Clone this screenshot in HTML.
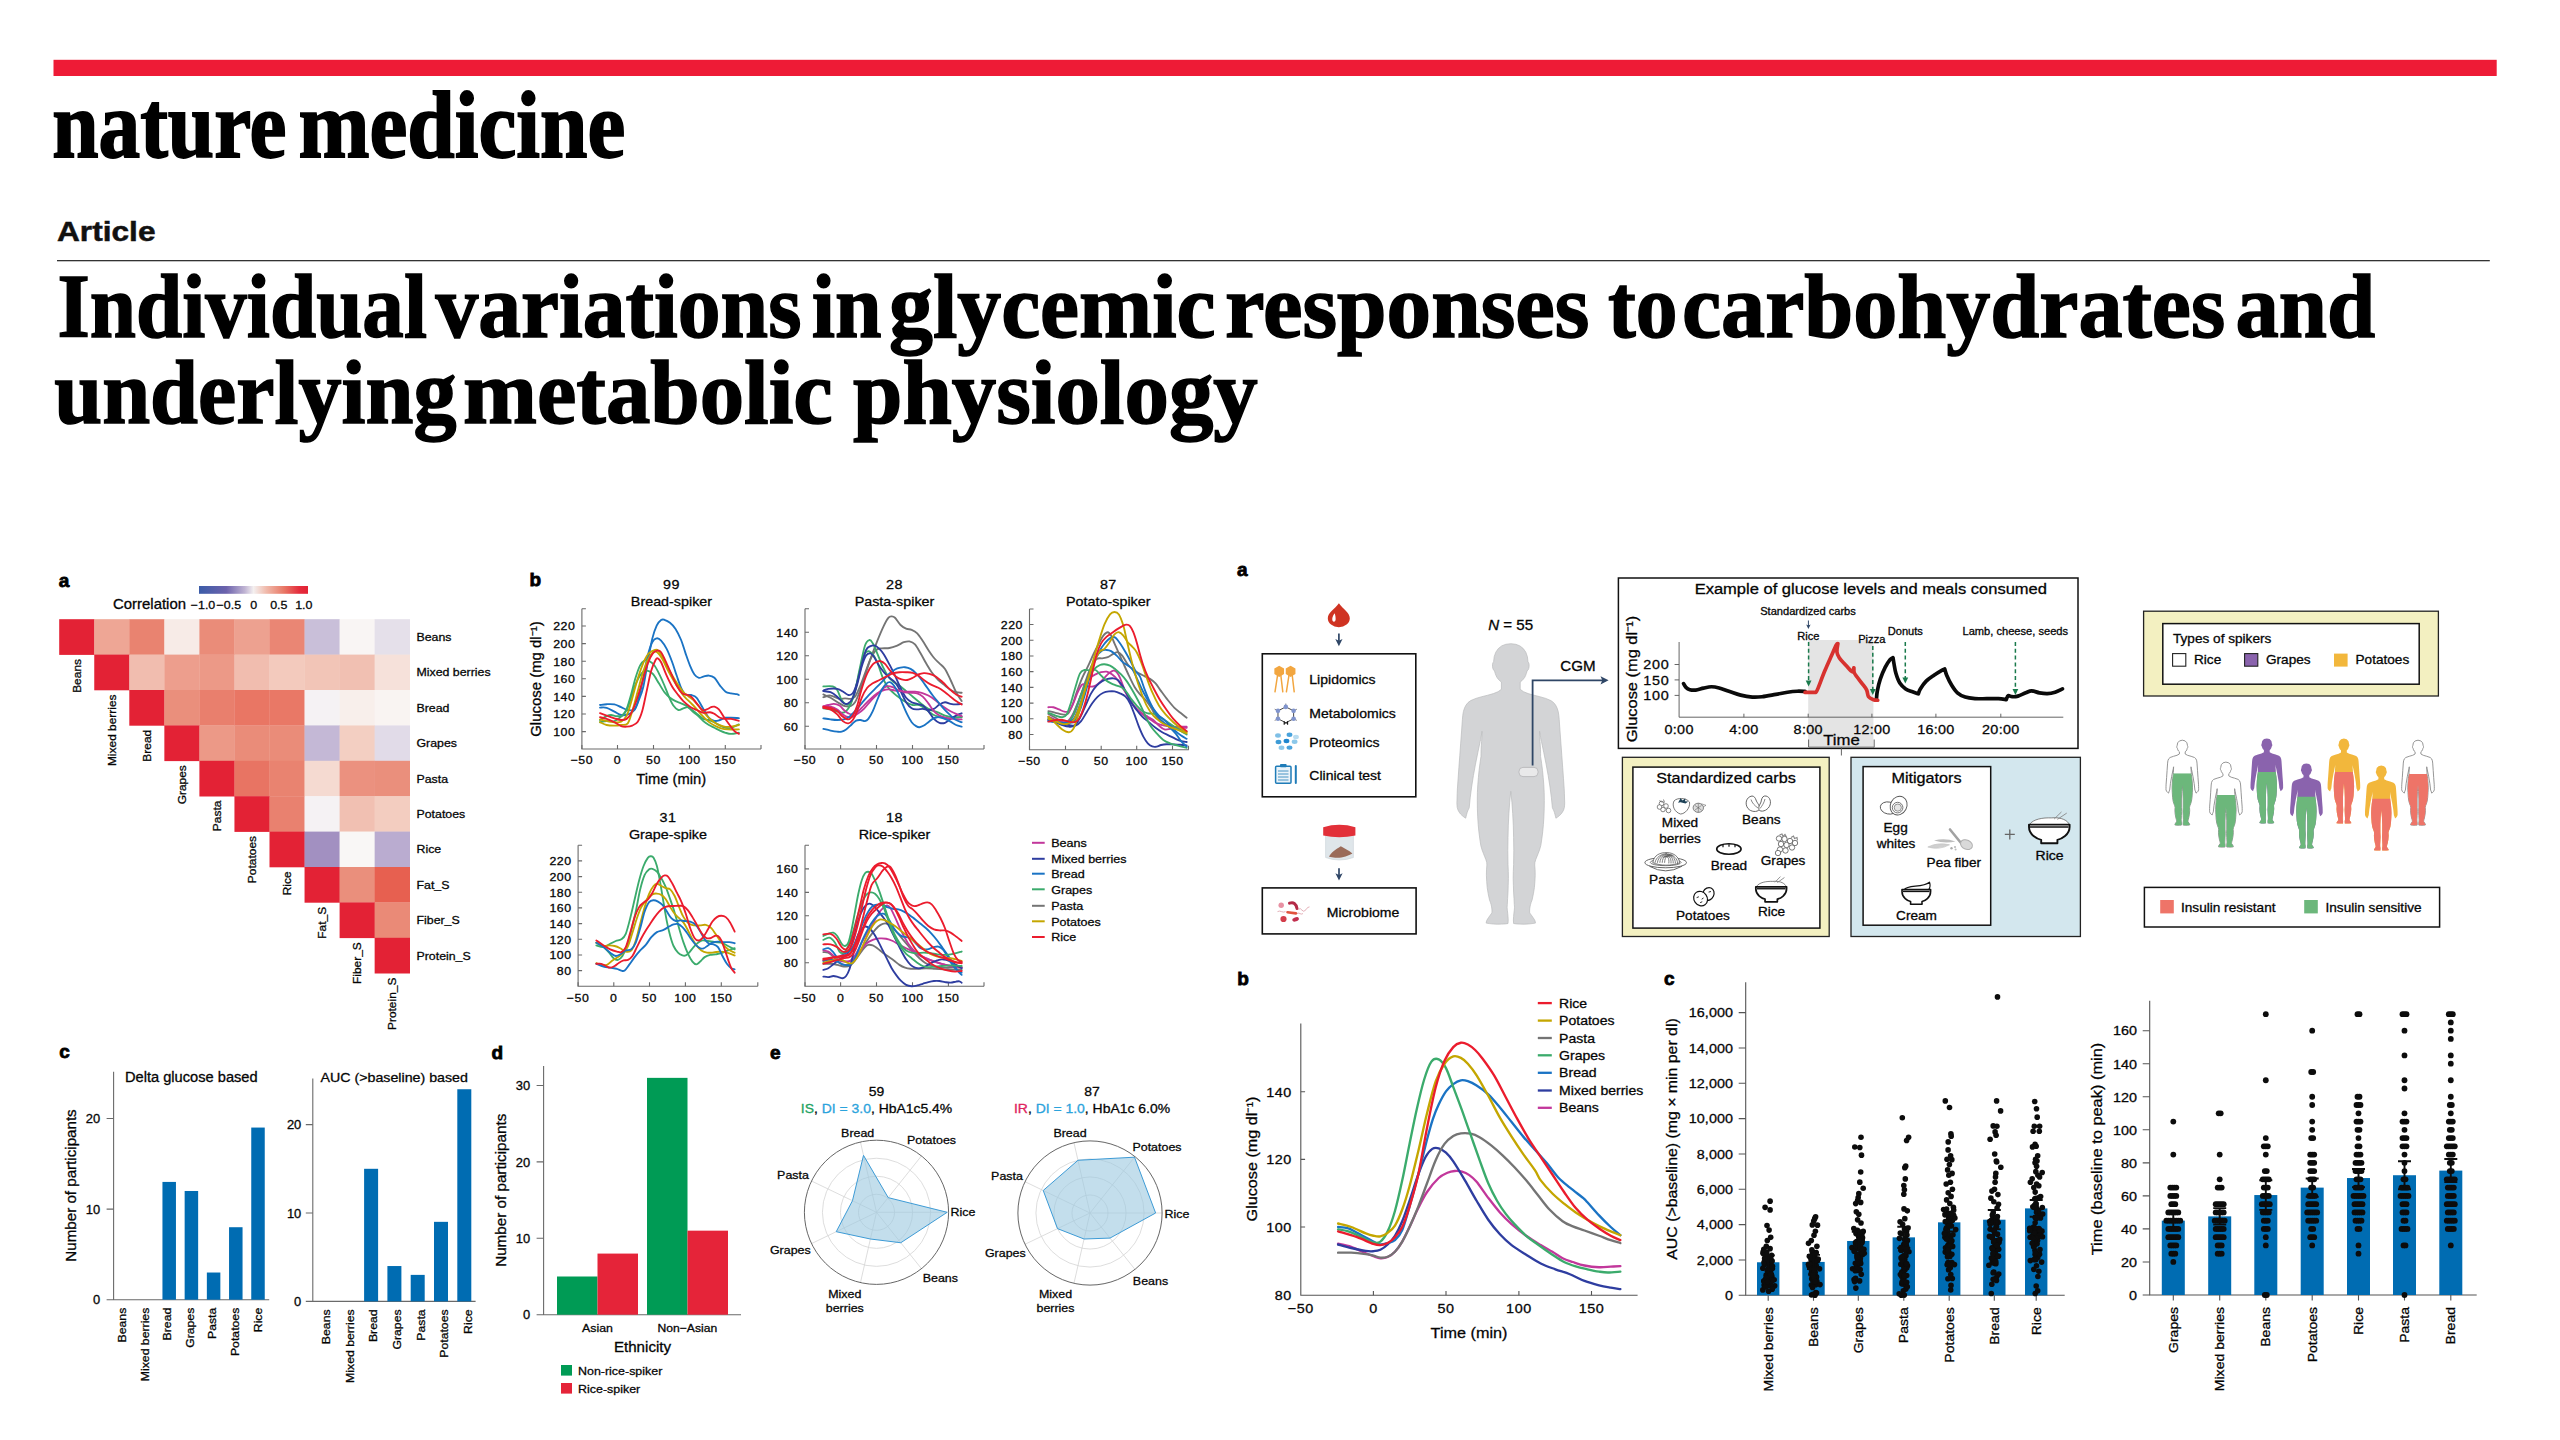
<!DOCTYPE html>
<html lang="en"><head><meta charset="utf-8"><title>Individual variations in glycemic responses to carbohydrates and underlying metabolic physiology</title>
<style>
html,body{margin:0;padding:0;background:#fff}
body{width:2560px;height:1440px;position:relative;overflow:hidden}
svg text{font-family:"Liberation Sans",sans-serif}
#fig{position:absolute;left:0;top:0}
svg text.sf{font-family:"Liberation Serif",serif}
</style></head><body>
<svg id="fig" width="2560" height="1440" viewBox="0 0 2560 1440">
<rect x="53.5" y="59.8" width="2443.2" height="16.2" fill="#ee1b36"/>
<text x="52.25" y="156.7" class="sf" font-weight="bold" font-size="95" textLength="234.25" lengthAdjust="spacingAndGlyphs" stroke="#000" stroke-width="1.8" fill="#000">nature</text>
<text x="298.5" y="156.7" class="sf" font-weight="bold" font-size="95" textLength="326.75" lengthAdjust="spacingAndGlyphs" stroke="#000" stroke-width="1.8" fill="#000">medicine</text>
<text x="57" y="241" font-weight="bold" font-size="28.5" textLength="98.5" lengthAdjust="spacingAndGlyphs" fill="#111" stroke="#111" stroke-width="0.5">Article</text>
<rect x="57" y="260" width="2432.8" height="1.3" fill="#333"/>
<text x="57.5" y="336.5" class="sf" font-weight="bold" font-size="90" textLength="369.5" lengthAdjust="spacingAndGlyphs" stroke="#000" stroke-width="1.5" fill="#000">Individual</text>
<text x="435.5" y="336.5" class="sf" font-weight="bold" font-size="90" textLength="366.0" lengthAdjust="spacingAndGlyphs" stroke="#000" stroke-width="1.5" fill="#000">variations</text>
<text x="811.75" y="336.5" class="sf" font-weight="bold" font-size="90" textLength="69.75" lengthAdjust="spacingAndGlyphs" stroke="#000" stroke-width="1.5" fill="#000">in</text>
<text x="889" y="336.5" class="sf" font-weight="bold" font-size="90" textLength="326.5" lengthAdjust="spacingAndGlyphs" stroke="#000" stroke-width="1.5" fill="#000">glycemic</text>
<text x="1225" y="336.5" class="sf" font-weight="bold" font-size="90" textLength="364.5" lengthAdjust="spacingAndGlyphs" stroke="#000" stroke-width="1.5" fill="#000">responses</text>
<text x="1608" y="336.5" class="sf" font-weight="bold" font-size="90" textLength="69.5" lengthAdjust="spacingAndGlyphs" stroke="#000" stroke-width="1.5" fill="#000">to</text>
<text x="1682" y="336.5" class="sf" font-weight="bold" font-size="90" textLength="543.25" lengthAdjust="spacingAndGlyphs" stroke="#000" stroke-width="1.5" fill="#000">carbohydrates</text>
<text x="2235.5" y="336.5" class="sf" font-weight="bold" font-size="90" textLength="139.75" lengthAdjust="spacingAndGlyphs" stroke="#000" stroke-width="1.5" fill="#000">and</text>
<text x="54.25" y="422.7" class="sf" font-weight="bold" font-size="90" textLength="402.25" lengthAdjust="spacingAndGlyphs" stroke="#000" stroke-width="1.5" fill="#000">underlying</text>
<text x="463" y="422.7" class="sf" font-weight="bold" font-size="90" textLength="369.75" lengthAdjust="spacingAndGlyphs" stroke="#000" stroke-width="1.5" fill="#000">metabolic</text>
<text x="853" y="422.7" class="sf" font-weight="bold" font-size="90" textLength="404.75" lengthAdjust="spacingAndGlyphs" stroke="#000" stroke-width="1.5" fill="#000">physiology</text>
<g id="figL">
<text transform="translate(58.8 586.6)" font-size="19" font-weight="bold" fill="#000" stroke="#000" stroke-width="0.8">a</text>
<defs><linearGradient id="cb" x1="0" x2="1" y1="0" y2="0"><stop offset="0" stop-color="#3b5ca8"/><stop offset="0.25" stop-color="#6c62ac"/><stop offset="0.42" stop-color="#c0b4d3"/><stop offset="0.5" stop-color="#f4f0f0"/><stop offset="0.62" stop-color="#f0b9aa"/><stop offset="0.78" stop-color="#e87866"/><stop offset="0.92" stop-color="#e42c3c"/><stop offset="1" stop-color="#e32235"/></linearGradient></defs>
<rect x="199" y="586" width="109" height="7.8" fill="url(#cb)"/>
<text transform="translate(113 608.6) scale(1.06 1)" font-size="14.1" stroke="#111" stroke-width="0.3">Correlation</text>
<text transform="translate(203 608.6) scale(1.06 1)" font-size="11.75" text-anchor="middle" stroke="#111" stroke-width="0.3">−1.0</text>
<text transform="translate(228.8 608.6) scale(1.06 1)" font-size="11.75" text-anchor="middle" stroke="#111" stroke-width="0.3">−0.5</text>
<text transform="translate(253.8 608.6) scale(1.06 1)" font-size="11.75" text-anchor="middle" stroke="#111" stroke-width="0.3">0</text>
<text transform="translate(278.8 608.6) scale(1.06 1)" font-size="11.75" text-anchor="middle" stroke="#111" stroke-width="0.3">0.5</text>
<text transform="translate(303.8 608.6) scale(1.06 1)" font-size="11.75" text-anchor="middle" stroke="#111" stroke-width="0.3">1.0</text>
<rect x="59.2" y="619.2" width="35.35" height="35.7" fill="#e32235"/>
<rect x="94.25" y="619.2" width="35.35" height="35.7" fill="#eea695"/>
<rect x="129.3" y="619.2" width="35.35" height="35.7" fill="#e98370"/>
<rect x="164.35" y="619.2" width="35.35" height="35.7" fill="#f7ebe7"/>
<rect x="199.4" y="619.2" width="35.35" height="35.7" fill="#ea8c79"/>
<rect x="234.45" y="619.2" width="35.35" height="35.7" fill="#eda190"/>
<rect x="269.5" y="619.2" width="35.35" height="35.7" fill="#ea8674"/>
<rect x="304.55" y="619.2" width="35.35" height="35.7" fill="#c9bfd9"/>
<rect x="339.6" y="619.2" width="35.35" height="35.7" fill="#f9f5f4"/>
<rect x="374.65" y="619.2" width="35.35" height="35.7" fill="#e5e0ea"/>
<text transform="translate(416.5 640.9) scale(1.06 1)" font-size="11.66" stroke="#111" stroke-width="0.3">Beans</text>
<text transform="translate(80.72 659) rotate(-90) scale(1.06 1)" font-size="11.28" text-anchor="end" stroke="#111" stroke-width="0.3">Beans</text>
<rect x="94.25" y="654.6" width="35.35" height="35.7" fill="#e32235"/>
<rect x="129.3" y="654.6" width="35.35" height="35.7" fill="#f1bdaf"/>
<rect x="164.35" y="654.6" width="35.35" height="35.7" fill="#ed9e8d"/>
<rect x="199.4" y="654.6" width="35.35" height="35.7" fill="#ec9987"/>
<rect x="234.45" y="654.6" width="35.35" height="35.7" fill="#f1bdaf"/>
<rect x="269.5" y="654.6" width="35.35" height="35.7" fill="#f3cabd"/>
<rect x="304.55" y="654.6" width="35.35" height="35.7" fill="#f2c5b7"/>
<rect x="339.6" y="654.6" width="35.35" height="35.7" fill="#f1c0b2"/>
<rect x="374.65" y="654.6" width="35.35" height="35.7" fill="#f6e1da"/>
<text transform="translate(416.5 676.3) scale(1.06 1)" font-size="11.66" stroke="#111" stroke-width="0.3">Mixed berries</text>
<text transform="translate(115.78 694.4) rotate(-90) scale(1.06 1)" font-size="11.28" text-anchor="end" stroke="#111" stroke-width="0.3">Mixed berries</text>
<rect x="129.3" y="690" width="35.35" height="35.7" fill="#e32235"/>
<rect x="164.35" y="690" width="35.35" height="35.7" fill="#ea8f7c"/>
<rect x="199.4" y="690" width="35.35" height="35.7" fill="#e97f6d"/>
<rect x="234.45" y="690" width="35.35" height="35.7" fill="#e97664"/>
<rect x="269.5" y="690" width="35.35" height="35.7" fill="#e97866"/>
<rect x="304.55" y="690" width="35.35" height="35.7" fill="#f5f2f4"/>
<rect x="339.6" y="690" width="35.35" height="35.7" fill="#f8efeb"/>
<rect x="374.65" y="690" width="35.35" height="35.7" fill="#f9f4f2"/>
<text transform="translate(416.5 711.7) scale(1.06 1)" font-size="11.66" stroke="#111" stroke-width="0.3">Bread</text>
<text transform="translate(150.83 729.8) rotate(-90) scale(1.06 1)" font-size="11.28" text-anchor="end" stroke="#111" stroke-width="0.3">Bread</text>
<rect x="164.35" y="725.4" width="35.35" height="35.7" fill="#e32235"/>
<rect x="199.4" y="725.4" width="35.35" height="35.7" fill="#ec9987"/>
<rect x="234.45" y="725.4" width="35.35" height="35.7" fill="#ea8c79"/>
<rect x="269.5" y="725.4" width="35.35" height="35.7" fill="#ea8c79"/>
<rect x="304.55" y="725.4" width="35.35" height="35.7" fill="#c4b8d6"/>
<rect x="339.6" y="725.4" width="35.35" height="35.7" fill="#f3cfc2"/>
<rect x="374.65" y="725.4" width="35.35" height="35.7" fill="#e1dbe8"/>
<text transform="translate(416.5 747.1) scale(1.06 1)" font-size="11.66" stroke="#111" stroke-width="0.3">Grapes</text>
<text transform="translate(185.88 765.2) rotate(-90) scale(1.06 1)" font-size="11.28" text-anchor="end" stroke="#111" stroke-width="0.3">Grapes</text>
<rect x="199.4" y="760.8" width="35.35" height="35.7" fill="#e32235"/>
<rect x="234.45" y="760.8" width="35.35" height="35.7" fill="#e87463"/>
<rect x="269.5" y="760.8" width="35.35" height="35.7" fill="#e98370"/>
<rect x="304.55" y="760.8" width="35.35" height="35.7" fill="#f5dad1"/>
<rect x="339.6" y="760.8" width="35.35" height="35.7" fill="#eb917f"/>
<rect x="374.65" y="760.8" width="35.35" height="35.7" fill="#ea8f7c"/>
<text transform="translate(416.5 782.5) scale(1.06 1)" font-size="11.66" stroke="#111" stroke-width="0.3">Pasta</text>
<text transform="translate(220.92 800.6) rotate(-90) scale(1.06 1)" font-size="11.28" text-anchor="end" stroke="#111" stroke-width="0.3">Pasta</text>
<rect x="234.45" y="796.2" width="35.35" height="35.7" fill="#e32235"/>
<rect x="269.5" y="796.2" width="35.35" height="35.7" fill="#e9816f"/>
<rect x="304.55" y="796.2" width="35.35" height="35.7" fill="#f5f2f4"/>
<rect x="339.6" y="796.2" width="35.35" height="35.7" fill="#f1c0b2"/>
<rect x="374.65" y="796.2" width="35.35" height="35.7" fill="#f3cdc0"/>
<text transform="translate(416.5 817.9) scale(1.06 1)" font-size="11.66" stroke="#111" stroke-width="0.3">Potatoes</text>
<text transform="translate(255.97 836) rotate(-90) scale(1.06 1)" font-size="11.28" text-anchor="end" stroke="#111" stroke-width="0.3">Potatoes</text>
<rect x="269.5" y="831.6" width="35.35" height="35.7" fill="#e32235"/>
<rect x="304.55" y="831.6" width="35.35" height="35.7" fill="#a290c1"/>
<rect x="339.6" y="831.6" width="35.35" height="35.7" fill="#f9f7f6"/>
<rect x="374.65" y="831.6" width="35.35" height="35.7" fill="#baacd0"/>
<text transform="translate(416.5 853.3) scale(1.06 1)" font-size="11.66" stroke="#111" stroke-width="0.3">Rice</text>
<text transform="translate(291.02 871.4) rotate(-90) scale(1.06 1)" font-size="11.28" text-anchor="end" stroke="#111" stroke-width="0.3">Rice</text>
<rect x="304.55" y="867" width="35.35" height="35.7" fill="#e32235"/>
<rect x="339.6" y="867" width="35.35" height="35.7" fill="#ea8f7c"/>
<rect x="374.65" y="867" width="35.35" height="35.7" fill="#e76050"/>
<text transform="translate(416.5 888.7) scale(1.06 1)" font-size="11.66" stroke="#111" stroke-width="0.3">Fat_S</text>
<text transform="translate(326.07 906.8) rotate(-90) scale(1.06 1)" font-size="11.28" text-anchor="end" stroke="#111" stroke-width="0.3">Fat_S</text>
<rect x="339.6" y="902.4" width="35.35" height="35.7" fill="#e32235"/>
<rect x="374.65" y="902.4" width="35.35" height="35.7" fill="#ea8a77"/>
<text transform="translate(416.5 924.1) scale(1.06 1)" font-size="11.66" stroke="#111" stroke-width="0.3">Fiber_S</text>
<text transform="translate(361.12 942.2) rotate(-90) scale(1.06 1)" font-size="11.28" text-anchor="end" stroke="#111" stroke-width="0.3">Fiber_S</text>
<rect x="374.65" y="937.8" width="35.35" height="35.7" fill="#e32235"/>
<text transform="translate(416.5 959.5) scale(1.06 1)" font-size="11.66" stroke="#111" stroke-width="0.3">Protein_S</text>
<text transform="translate(396.17 977.6) rotate(-90) scale(1.06 1)" font-size="11.28" text-anchor="end" stroke="#111" stroke-width="0.3">Protein_S</text>
<text transform="translate(529.4 586)" font-size="19" font-weight="bold" fill="#000" stroke="#000" stroke-width="0.8">b</text>
<path d="M581.9 608.8V749H761" fill="none" stroke="#6a6a6a" stroke-width="1.1"/>
<path d="M581.9 749v-4M617.5 749v-4M653.5 749v-4M689.5 749v-4M725.3 749v-4M761 749v-4M581.9 731.6h4M581.9 714h4M581.9 696.4h4M581.9 678.8h4M581.9 661.2h4M581.9 643.6h4M581.9 626h4M581.9 608.8h4" fill="none" stroke="#6a6a6a" stroke-width="1.1"/>
<text transform="translate(581.9 764.4) scale(1.06 1)" font-size="11.66" text-anchor="middle" letter-spacing="0.5" stroke="#111" stroke-width="0.3">−50</text>
<text transform="translate(617.5 764.4) scale(1.06 1)" font-size="11.66" text-anchor="middle" letter-spacing="0.5" stroke="#111" stroke-width="0.3">0</text>
<text transform="translate(653.5 764.4) scale(1.06 1)" font-size="11.66" text-anchor="middle" letter-spacing="0.5" stroke="#111" stroke-width="0.3">50</text>
<text transform="translate(689.5 764.4) scale(1.06 1)" font-size="11.66" text-anchor="middle" letter-spacing="0.5" stroke="#111" stroke-width="0.3">100</text>
<text transform="translate(725.3 764.4) scale(1.06 1)" font-size="11.66" text-anchor="middle" letter-spacing="0.5" stroke="#111" stroke-width="0.3">150</text>
<text transform="translate(575.4 736) scale(1.06 1)" font-size="11.66" text-anchor="end" letter-spacing="0.5" stroke="#111" stroke-width="0.3">100</text>
<text transform="translate(575.4 718.4) scale(1.06 1)" font-size="11.66" text-anchor="end" letter-spacing="0.5" stroke="#111" stroke-width="0.3">120</text>
<text transform="translate(575.4 700.8) scale(1.06 1)" font-size="11.66" text-anchor="end" letter-spacing="0.5" stroke="#111" stroke-width="0.3">140</text>
<text transform="translate(575.4 683.2) scale(1.06 1)" font-size="11.66" text-anchor="end" letter-spacing="0.5" stroke="#111" stroke-width="0.3">160</text>
<text transform="translate(575.4 665.6) scale(1.06 1)" font-size="11.66" text-anchor="end" letter-spacing="0.5" stroke="#111" stroke-width="0.3">180</text>
<text transform="translate(575.4 648) scale(1.06 1)" font-size="11.66" text-anchor="end" letter-spacing="0.5" stroke="#111" stroke-width="0.3">200</text>
<text transform="translate(575.4 630.4) scale(1.06 1)" font-size="11.66" text-anchor="end" letter-spacing="0.5" stroke="#111" stroke-width="0.3">220</text>
<path d="M600 705C601.11 704.87 604.26 704.31 606.67 704.22C609.07 704.13 612.04 703.94 614.44 704.44C616.85 704.94 618.89 706.3 621.11 707.22C623.33 708.15 625.56 709.63 627.78 710C630 710.37 632.59 711.11 634.44 709.44C636.3 707.78 637.41 703.8 638.89 700C640.37 696.2 641.85 692.96 643.33 686.67C644.81 680.37 646.3 670.19 647.78 662.22C649.26 654.26 650.74 645 652.22 638.89C653.7 632.78 655.19 628.7 656.67 625.56C658.15 622.41 659.81 620.96 661.11 620C662.41 619.04 662.96 619.31 664.44 619.78C665.93 620.24 668.15 621.26 670 622.78C671.85 624.3 673.7 626.02 675.56 628.89C677.41 631.76 679.44 635.93 681.11 640C682.78 644.07 684.07 649.07 685.56 653.33C687.04 657.59 688.52 662.04 690 665.56C691.48 669.07 692.96 672.41 694.44 674.44C695.93 676.48 697.41 677.41 698.89 677.78C700.37 678.15 701.67 677.04 703.33 676.67C705 676.3 707.04 675.37 708.89 675.56C710.74 675.74 712.59 676.11 714.44 677.78C716.3 679.44 718.15 683.24 720 685.56C721.85 687.87 723.7 690.37 725.56 691.67C727.41 692.96 729.26 692.91 731.11 693.33C732.96 693.76 735.37 693.94 736.67 694.22C737.96 694.5 738.52 694.87 738.89 695" fill="none" stroke="#1a73c4" stroke-width="1.85" stroke-linejoin="round" stroke-linecap="round"/>
<path d="M600 707.56C601.11 707.59 604.26 707.09 606.67 707.78C609.07 708.46 612.04 710.46 614.44 711.67C616.85 712.87 618.89 714.54 621.11 715C623.33 715.46 625.56 715.28 627.78 714.44C630 713.61 632.59 712.78 634.44 710C636.3 707.22 637.41 703.15 638.89 697.78C640.37 692.41 641.85 684.81 643.33 677.78C644.81 670.74 646.3 661.48 647.78 655.56C649.26 649.63 650.74 645.09 652.22 642.22C653.7 639.35 655.19 638.61 656.67 638.33C658.15 638.06 659.44 638.8 661.11 640.56C662.78 642.31 664.81 645.28 666.67 648.89C668.52 652.5 670.56 657.78 672.22 662.22C673.89 666.67 675.19 671.3 676.67 675.56C678.15 679.81 679.63 684.63 681.11 687.78C682.59 690.93 683.89 693.24 685.56 694.44C687.22 695.65 689.26 694.44 691.11 695C692.96 695.56 694.63 695.46 696.67 697.78C698.7 700.09 701.3 705.56 703.33 708.89C705.37 712.22 707.04 715.78 708.89 717.78C710.74 719.78 712.59 720.52 714.44 720.89C716.3 721.26 718.15 720.52 720 720C721.85 719.48 723.7 718.15 725.56 717.78C727.41 717.41 728.89 717.72 731.11 717.78C733.33 717.83 737.59 718.06 738.89 718.11" fill="none" stroke="#1a73c4" stroke-width="1.85" stroke-linejoin="round" stroke-linecap="round"/>
<path d="M600 720C601.11 719.35 604.81 716.94 606.67 716.11C608.52 715.28 609.44 715 611.11 715C612.78 715 614.81 716.02 616.67 716.11C618.52 716.2 620.56 716.76 622.22 715.56C623.89 714.35 625.19 712.41 626.67 708.89C628.15 705.37 629.63 699.63 631.11 694.44C632.59 689.26 634.07 682.59 635.56 677.78C637.04 672.96 638.52 668.43 640 665.56C641.48 662.69 642.96 661.33 644.44 660.56C645.93 659.78 647.22 660.06 648.89 660.89C650.56 661.72 652.59 663.11 654.44 665.56C656.3 668 658.33 672.22 660 675.56C661.67 678.89 662.96 682.04 664.44 685.56C665.93 689.07 667.41 693.33 668.89 696.67C670.37 700 671.76 703.33 673.33 705.56C674.91 707.78 676.67 709.54 678.33 710C680 710.46 681.76 708.8 683.33 708.33C684.91 707.87 686.3 706.94 687.78 707.22C689.26 707.5 690.56 708.8 692.22 710C693.89 711.2 695.93 712.96 697.78 714.44C699.63 715.93 701.48 717.96 703.33 718.89C705.19 719.81 707.04 719.44 708.89 720C710.74 720.56 712.59 721.3 714.44 722.22C716.3 723.15 718.15 724.63 720 725.56C721.85 726.48 723.7 727.41 725.56 727.78C727.41 728.15 728.89 728.33 731.11 727.78C733.33 727.22 737.59 725 738.89 724.44" fill="none" stroke="#3bab6c" stroke-width="1.85" stroke-linejoin="round" stroke-linecap="round"/>
<path d="M600 722.22C601.11 722.04 604.26 721.3 606.67 721.11C609.07 720.93 612.04 721.85 614.44 721.11C616.85 720.37 619.07 718.52 621.11 716.67C623.15 714.81 625 713.15 626.67 710C628.33 706.85 629.63 702.04 631.11 697.78C632.59 693.52 634.07 688.15 635.56 684.44C637.04 680.74 638.52 677.78 640 675.56C641.48 673.33 642.96 671.85 644.44 671.11C645.93 670.37 647.41 670.56 648.89 671.11C650.37 671.67 651.67 672.41 653.33 674.44C655 676.48 657.04 680.37 658.89 683.33C660.74 686.3 662.59 689.81 664.44 692.22C666.3 694.63 668.15 696.3 670 697.78C671.85 699.26 673.7 700.19 675.56 701.11C677.41 702.04 679.07 702.41 681.11 703.33C683.15 704.26 685.93 705.37 687.78 706.67C689.63 707.96 690.56 709.63 692.22 711.11C693.89 712.59 695.93 713.89 697.78 715.56C699.63 717.22 701.48 719.54 703.33 721.11C705.19 722.69 707.04 723.89 708.89 725C710.74 726.11 712.59 726.85 714.44 727.78C716.3 728.7 718.15 729.72 720 730.56C721.85 731.39 723.7 732.22 725.56 732.78C727.41 733.33 728.89 733.89 731.11 733.89C733.33 733.89 737.59 732.96 738.89 732.78" fill="none" stroke="#3bab6c" stroke-width="1.85" stroke-linejoin="round" stroke-linecap="round"/>
<path d="M600 719.44C601.11 719.72 604.26 720.65 606.67 721.11C609.07 721.57 612.04 722.13 614.44 722.22C616.85 722.31 619.07 722.78 621.11 721.67C623.15 720.56 625 718.8 626.67 715.56C628.33 712.31 629.44 707.78 631.11 702.22C632.78 696.67 634.81 688.33 636.67 682.22C638.52 676.11 640.37 670.19 642.22 665.56C644.07 660.93 645.93 656.94 647.78 654.44C649.63 651.94 651.76 651.33 653.33 650.56C654.91 649.78 655.93 649.13 657.22 649.78C658.52 650.43 659.54 651.81 661.11 654.44C662.69 657.07 664.81 662.04 666.67 665.56C668.52 669.07 670.37 672.41 672.22 675.56C674.07 678.7 675.93 681.67 677.78 684.44C679.63 687.22 681.48 690.19 683.33 692.22C685.19 694.26 687.04 695.19 688.89 696.67C690.74 698.15 692.59 699.26 694.44 701.11C696.3 702.96 698.15 705.56 700 707.78C701.85 710 703.7 712.41 705.56 714.44C707.41 716.48 709.07 718.33 711.11 720C713.15 721.67 715.56 723.33 717.78 724.44C720 725.56 722.22 726.3 724.44 726.67C726.67 727.04 728.7 726.94 731.11 726.67C733.52 726.39 737.59 725.28 738.89 725" fill="none" stroke="#c4a600" stroke-width="1.85" stroke-linejoin="round" stroke-linecap="round"/>
<path d="M600 722.22C601.11 722.69 604.26 724.44 606.67 725C609.07 725.56 612.04 725.56 614.44 725.56C616.85 725.56 618.89 725.37 621.11 725C623.33 724.63 625.93 725.65 627.78 723.33C629.63 721.02 630.56 716.48 632.22 711.11C633.89 705.74 635.93 697.78 637.78 691.11C639.63 684.44 641.48 676.67 643.33 671.11C645.19 665.56 647.22 660.93 648.89 657.78C650.56 654.63 651.94 653.15 653.33 652.22C654.72 651.3 655.74 651.11 657.22 652.22C658.7 653.33 660.46 655.93 662.22 658.89C663.98 661.85 665.93 666.48 667.78 670C669.63 673.52 671.48 676.85 673.33 680C675.19 683.15 677.04 686.11 678.89 688.89C680.74 691.67 682.59 694.44 684.44 696.67C686.3 698.89 688.15 700.37 690 702.22C691.85 704.07 693.7 705.74 695.56 707.78C697.41 709.81 699.07 712.22 701.11 714.44C703.15 716.67 705.56 719.26 707.78 721.11C710 722.96 712.22 724.35 714.44 725.56C716.67 726.76 718.89 727.69 721.11 728.33C723.33 728.98 724.81 729.26 727.78 729.44C730.74 729.63 737.04 729.44 738.89 729.44" fill="none" stroke="#c4a600" stroke-width="1.85" stroke-linejoin="round" stroke-linecap="round"/>
<path d="M600 713.11C601.11 713.52 604.26 714.69 606.67 715.56C609.07 716.43 612.04 717.59 614.44 718.33C616.85 719.07 619.07 719.91 621.11 720C623.15 720.09 625 720 626.67 718.89C628.33 717.78 629.44 716.48 631.11 713.33C632.78 710.19 634.81 705.19 636.67 700C638.52 694.81 640.37 688.33 642.22 682.22C644.07 676.11 646.02 668.15 647.78 663.33C649.54 658.52 651.2 655.46 652.78 653.33C654.35 651.2 655.83 650.74 657.22 650.56C658.61 650.37 659.72 650.46 661.11 652.22C662.5 653.98 663.89 657.59 665.56 661.11C667.22 664.63 669.26 669.26 671.11 673.33C672.96 677.41 674.81 682.22 676.67 685.56C678.52 688.89 680.56 691.81 682.22 693.33C683.89 694.85 685.19 694.11 686.67 694.67C688.15 695.22 689.44 695.22 691.11 696.67C692.78 698.11 694.81 701.11 696.67 703.33C698.52 705.56 700.56 708.98 702.22 710C703.89 711.02 705.19 709.91 706.67 709.44C708.15 708.98 709.81 707.69 711.11 707.22C712.41 706.76 713.15 706.3 714.44 706.67C715.74 707.04 717.22 707.59 718.89 709.44C720.56 711.3 722.59 715.09 724.44 717.78C726.3 720.46 728.33 723.33 730 725.56C731.67 727.78 732.96 729.72 734.44 731.11C735.93 732.5 738.15 733.43 738.89 733.89" fill="none" stroke="#eb1c2d" stroke-width="1.85" stroke-linejoin="round" stroke-linecap="round"/>
<path d="M600 717.22C601.11 717.5 604.26 718.06 606.67 718.89C609.07 719.72 612.04 721.02 614.44 722.22C616.85 723.43 619.07 725.37 621.11 726.11C623.15 726.85 624.81 726.76 626.67 726.67C628.52 726.57 630.37 726.39 632.22 725.56C634.07 724.72 636.11 724.07 637.78 721.67C639.44 719.26 640.74 716.2 642.22 711.11C643.7 706.02 645.19 697.78 646.67 691.11C648.15 684.44 649.63 676.3 651.11 671.11C652.59 665.93 654.44 662.13 655.56 660C656.67 657.87 656.85 657.96 657.78 658.33C658.7 658.7 659.63 659.35 661.11 662.22C662.59 665.09 664.81 671.48 666.67 675.56C668.52 679.63 670.37 683.52 672.22 686.67C674.07 689.81 675.93 692.04 677.78 694.44C679.63 696.85 681.3 699.07 683.33 701.11C685.37 703.15 687.78 705.19 690 706.67C692.22 708.15 694.44 708.98 696.67 710C698.89 711.02 701.11 712.41 703.33 712.78C705.56 713.15 708.15 712.04 710 712.22C711.85 712.41 712.78 712.96 714.44 713.89C716.11 714.81 718.15 716.94 720 717.78C721.85 718.61 723.7 718.7 725.56 718.89C727.41 719.07 728.89 718.56 731.11 718.89C733.33 719.22 737.59 720.56 738.89 720.89" fill="none" stroke="#eb1c2d" stroke-width="1.85" stroke-linejoin="round" stroke-linecap="round"/>
<text transform="translate(671.45 588.7) scale(1.06 1)" font-size="13.54" text-anchor="middle" letter-spacing="0.4" stroke="#111" stroke-width="0.3">99</text>
<text transform="translate(671.45 605.7) scale(1.06 1)" font-size="13.54" text-anchor="middle" stroke="#111" stroke-width="0.3">Bread-spiker</text>
<text transform="translate(671.2 783.7) scale(1.06 1)" font-size="13.91" text-anchor="middle" stroke="#111" stroke-width="0.3">Time (min)</text>
<text transform="translate(540.6 679) rotate(-90) scale(1.06 1)" font-size="14.1" text-anchor="middle" stroke="#111" stroke-width="0.3">Glucose (mg dl⁻¹)</text>
<path d="M805 608.8V749H984" fill="none" stroke="#6a6a6a" stroke-width="1.1"/>
<path d="M805 749v-4M840.6 749v-4M876.5 749v-4M912.5 749v-4M948.4 749v-4M984 749v-4M805 726.3h4M805 702.78h4M805 679.26h4M805 655.74h4M805 632.22h4M805 608.8h4" fill="none" stroke="#6a6a6a" stroke-width="1.1"/>
<text transform="translate(805 764.4) scale(1.06 1)" font-size="11.66" text-anchor="middle" letter-spacing="0.5" stroke="#111" stroke-width="0.3">−50</text>
<text transform="translate(840.6 764.4) scale(1.06 1)" font-size="11.66" text-anchor="middle" letter-spacing="0.5" stroke="#111" stroke-width="0.3">0</text>
<text transform="translate(876.5 764.4) scale(1.06 1)" font-size="11.66" text-anchor="middle" letter-spacing="0.5" stroke="#111" stroke-width="0.3">50</text>
<text transform="translate(912.5 764.4) scale(1.06 1)" font-size="11.66" text-anchor="middle" letter-spacing="0.5" stroke="#111" stroke-width="0.3">100</text>
<text transform="translate(948.4 764.4) scale(1.06 1)" font-size="11.66" text-anchor="middle" letter-spacing="0.5" stroke="#111" stroke-width="0.3">150</text>
<text transform="translate(798.5 730.7) scale(1.06 1)" font-size="11.66" text-anchor="end" letter-spacing="0.5" stroke="#111" stroke-width="0.3">60</text>
<text transform="translate(798.5 707.18) scale(1.06 1)" font-size="11.66" text-anchor="end" letter-spacing="0.5" stroke="#111" stroke-width="0.3">80</text>
<text transform="translate(798.5 683.66) scale(1.06 1)" font-size="11.66" text-anchor="end" letter-spacing="0.5" stroke="#111" stroke-width="0.3">100</text>
<text transform="translate(798.5 660.14) scale(1.06 1)" font-size="11.66" text-anchor="end" letter-spacing="0.5" stroke="#111" stroke-width="0.3">120</text>
<text transform="translate(798.5 636.62) scale(1.06 1)" font-size="11.66" text-anchor="end" letter-spacing="0.5" stroke="#111" stroke-width="0.3">140</text>
<path d="M823.33 694.44C824.54 695 827.87 696.3 830.56 697.78C833.24 699.26 837.04 701.94 839.44 703.33C841.85 704.72 843.15 705.65 845 706.11C846.85 706.57 848.89 706.76 850.56 706.11C852.22 705.46 853.52 704.54 855 702.22C856.48 699.91 857.78 696.67 859.44 692.22C861.11 687.78 863.15 681.11 865 675.56C866.85 670 868.52 664.63 870.56 658.89C872.59 653.15 875 646.67 877.22 641.11C879.44 635.56 882.04 629.44 883.89 625.56C885.74 621.67 887.04 619.3 888.33 617.78C889.63 616.26 890.56 616.44 891.67 616.44C892.78 616.44 893.52 616.35 895 617.78C896.48 619.2 898.7 623.19 900.56 625C902.41 626.81 904.26 627.87 906.11 628.67C907.96 629.46 909.81 629 911.67 629.78C913.52 630.56 915.37 631.44 917.22 633.33C919.07 635.22 920.93 638.33 922.78 641.11C924.63 643.89 926.48 647.22 928.33 650C930.19 652.78 932.04 655.56 933.89 657.78C935.74 660 937.59 661.48 939.44 663.33C941.3 665.19 943.15 666.11 945 668.89C946.85 671.67 948.7 676.11 950.56 680C952.41 683.89 954.26 688.7 956.11 692.22C957.96 695.74 960.74 699.63 961.67 701.11" fill="none" stroke="#747474" stroke-width="1.85" stroke-linejoin="round" stroke-linecap="round"/>
<path d="M823.33 697.22C824.54 696.94 827.87 695.28 830.56 695.56C833.24 695.83 837.04 698.43 839.44 698.89C841.85 699.35 843.15 698.33 845 698.33C846.85 698.33 848.89 699.17 850.56 698.89C852.22 698.61 853.52 698.52 855 696.67C856.48 694.81 857.78 691.67 859.44 687.78C861.11 683.89 863.15 678.15 865 673.33C866.85 668.52 868.7 662.78 870.56 658.89C872.41 655 874.26 651.76 876.11 650C877.96 648.24 879.44 648.67 881.67 648.33C883.89 648 886.85 648.46 889.44 648C892.04 647.54 894.81 646.52 897.22 645.56C899.63 644.59 901.85 642.91 903.89 642.22C905.93 641.54 907.59 641.07 909.44 641.44C911.3 641.81 913.15 642.46 915 644.44C916.85 646.43 918.7 650.19 920.56 653.33C922.41 656.48 924.26 660.19 926.11 663.33C927.96 666.48 929.63 669.44 931.67 672.22C933.7 675 936.11 677.78 938.33 680C940.56 682.22 942.96 683.89 945 685.56C947.04 687.22 948.7 688.89 950.56 690C952.41 691.11 954.26 691.76 956.11 692.22C957.96 692.69 960.74 692.69 961.67 692.78" fill="none" stroke="#747474" stroke-width="1.85" stroke-linejoin="round" stroke-linecap="round"/>
<path d="M823.33 686.44C824.91 686.44 830.46 685.85 832.78 686.44C835.09 687.04 835.74 687.74 837.22 690C838.7 692.26 840.19 697.59 841.67 700C843.15 702.41 844.63 703.89 846.11 704.44C847.59 705 849.07 705.56 850.56 703.33C852.04 701.11 853.52 696.67 855 691.11C856.48 685.56 857.78 677.59 859.44 670C861.11 662.41 863.33 650.56 865 645.56C866.67 640.56 868.15 640.37 869.44 640C870.74 639.63 871.48 641.11 872.78 643.33C874.07 645.56 875.56 649.44 877.22 653.33C878.89 657.22 880.93 662.78 882.78 666.67C884.63 670.56 886.48 674.07 888.33 676.67C890.19 679.26 892.04 680.74 893.89 682.22C895.74 683.7 897.41 684.07 899.44 685.56C901.48 687.04 903.89 689.26 906.11 691.11C908.33 692.96 910.56 694.81 912.78 696.67C915 698.52 916.85 700.19 919.44 702.22C922.04 704.26 925.37 707.22 928.33 708.89C931.3 710.56 934.44 711.11 937.22 712.22C940 713.33 942.41 714.72 945 715.56C947.59 716.39 950 716.94 952.78 717.22C955.56 717.5 960.19 717.22 961.67 717.22" fill="none" stroke="#3bab6c" stroke-width="1.85" stroke-linejoin="round" stroke-linecap="round"/>
<path d="M823.33 708.33C824.91 708.61 829.72 709.26 832.78 710C835.83 710.74 839.44 712.59 841.67 712.78C843.89 712.96 844.63 712.5 846.11 711.11C847.59 709.72 849.07 707.78 850.56 704.44C852.04 701.11 853.52 696.48 855 691.11C856.48 685.74 857.96 678.15 859.44 672.22C860.93 666.3 862.41 659.07 863.89 655.56C865.37 652.04 866.85 651.3 868.33 651.11C869.81 650.93 871.3 652.59 872.78 654.44C874.26 656.3 875.56 658.33 877.22 662.22C878.89 666.11 880.93 673.52 882.78 677.78C884.63 682.04 886.48 685.19 888.33 687.78C890.19 690.37 892.04 691.67 893.89 693.33C895.74 695 897.41 696.3 899.44 697.78C901.48 699.26 903.89 701.02 906.11 702.22C908.33 703.43 910.56 704.54 912.78 705C915 705.46 917.22 704.26 919.44 705C921.67 705.74 923.89 707.87 926.11 709.44C928.33 711.02 930.56 713.24 932.78 714.44C935 715.65 936.48 716.02 939.44 716.67C942.41 717.31 946.85 718.33 950.56 718.33C954.26 718.33 959.81 716.94 961.67 716.67" fill="none" stroke="#3bab6c" stroke-width="1.85" stroke-linejoin="round" stroke-linecap="round"/>
<path d="M823.33 690.56C824.17 690.28 826.02 689.17 828.33 688.89C830.65 688.61 834.63 688.33 837.22 688.89C839.81 689.44 842.04 691.2 843.89 692.22C845.74 693.24 846.85 694.81 848.33 695C849.81 695.19 851.3 695.46 852.78 693.33C854.26 691.2 855.74 687.04 857.22 682.22C858.7 677.41 860.19 669.81 861.67 664.44C863.15 659.07 864.63 653.06 866.11 650C867.59 646.94 869.07 646.85 870.56 646.11C872.04 645.37 873.52 645.09 875 645.56C876.48 646.02 877.96 647.41 879.44 648.89C880.93 650.37 882.22 651.85 883.89 654.44C885.56 657.04 887.59 660.93 889.44 664.44C891.3 667.96 893.15 671.67 895 675.56C896.85 679.44 898.7 684.07 900.56 687.78C902.41 691.48 904.26 695.37 906.11 697.78C907.96 700.19 909.81 701.2 911.67 702.22C913.52 703.24 915.37 703.33 917.22 703.89C919.07 704.44 920.93 704.35 922.78 705.56C924.63 706.76 926.48 708.89 928.33 711.11C930.19 713.33 932.04 716.94 933.89 718.89C935.74 720.83 937.59 722.13 939.44 722.78C941.3 723.43 943.15 723.43 945 722.78C946.85 722.13 948.7 720.09 950.56 718.89C952.41 717.69 954.26 716.48 956.11 715.56C957.96 714.63 960.74 713.7 961.67 713.33" fill="none" stroke="#2e3da0" stroke-width="1.85" stroke-linejoin="round" stroke-linecap="round"/>
<path d="M823.33 691.11C824.54 691.3 828.24 691.3 830.56 692.22C832.87 693.15 835 694.81 837.22 696.67C839.44 698.52 842.04 702.22 843.89 703.33C845.74 704.44 846.85 704.26 848.33 703.33C849.81 702.41 851.3 700.93 852.78 697.78C854.26 694.63 855.74 689.63 857.22 684.44C858.7 679.26 860.19 671.48 861.67 666.67C863.15 661.85 864.63 657.78 866.11 655.56C867.59 653.33 869.26 653.15 870.56 653.33C871.85 653.52 872.59 654.81 873.89 656.67C875.19 658.52 876.67 661.85 878.33 664.44C880 667.04 882.04 670 883.89 672.22C885.74 674.44 887.59 676.11 889.44 677.78C891.3 679.44 893.15 680 895 682.22C896.85 684.44 898.7 687.78 900.56 691.11C902.41 694.44 904.26 699.35 906.11 702.22C907.96 705.09 909.81 707.13 911.67 708.33C913.52 709.54 915.37 709.35 917.22 709.44C919.07 709.54 920.93 708.8 922.78 708.89C924.63 708.98 926.48 710 928.33 710C930.19 710 932.04 709.81 933.89 708.89C935.74 707.96 937.59 705.56 939.44 704.44C941.3 703.33 943.15 702.31 945 702.22C946.85 702.13 948.7 703.52 950.56 703.89C952.41 704.26 954.26 704.44 956.11 704.44C957.96 704.44 960.74 703.98 961.67 703.89" fill="none" stroke="#2e3da0" stroke-width="1.85" stroke-linejoin="round" stroke-linecap="round"/>
<path d="M823.33 706.11C824.17 705.93 826.57 705.37 828.33 705C830.09 704.63 832.04 703.8 833.89 703.89C835.74 703.98 837.78 704.54 839.44 705.56C841.11 706.57 842.41 708.7 843.89 710C845.37 711.3 846.85 712.59 848.33 713.33C849.81 714.07 851.11 714.81 852.78 714.44C854.44 714.07 856.48 712.59 858.33 711.11C860.19 709.63 861.85 707.59 863.89 705.56C865.93 703.52 868.33 700.93 870.56 698.89C872.78 696.85 875 694.81 877.22 693.33C879.44 691.85 881.85 690.65 883.89 690C885.93 689.35 887.59 689.35 889.44 689.44C891.3 689.54 892.96 690.28 895 690.56C897.04 690.83 899.44 690.93 901.67 691.11C903.89 691.3 906.11 691.57 908.33 691.67C910.56 691.76 912.78 691.48 915 691.67C917.22 691.85 919.44 692.13 921.67 692.78C923.89 693.43 926.11 694.35 928.33 695.56C930.56 696.76 932.78 698.33 935 700C937.22 701.67 939.44 703.89 941.67 705.56C943.89 707.22 946.11 708.7 948.33 710C950.56 711.3 952.78 712.31 955 713.33C957.22 714.35 960.56 715.65 961.67 716.11" fill="none" stroke="#c2379b" stroke-width="1.85" stroke-linejoin="round" stroke-linecap="round"/>
<path d="M823.33 707.22C824.54 707.13 828.24 706.3 830.56 706.67C832.87 707.04 835.19 708.15 837.22 709.44C839.26 710.74 840.93 713.15 842.78 714.44C844.63 715.74 846.67 716.85 848.33 717.22C850 717.59 851.11 717.31 852.78 716.67C854.44 716.02 856.48 714.63 858.33 713.33C860.19 712.04 861.85 710.93 863.89 708.89C865.93 706.85 868.33 703.52 870.56 701.11C872.78 698.7 875 696.67 877.22 694.44C879.44 692.22 882.04 689.17 883.89 687.78C885.74 686.39 886.85 686.2 888.33 686.11C889.81 686.02 891.11 686.57 892.78 687.22C894.44 687.87 896.3 689.17 898.33 690C900.37 690.83 902.78 691.76 905 692.22C907.22 692.69 909.63 692.59 911.67 692.78C913.7 692.96 915.37 692.69 917.22 693.33C919.07 693.98 920.93 695 922.78 696.67C924.63 698.33 926.48 700.93 928.33 703.33C930.19 705.74 932.04 709.07 933.89 711.11C935.74 713.15 937.41 714.44 939.44 715.56C941.48 716.67 943.89 717.22 946.11 717.78C948.33 718.33 950.19 718.61 952.78 718.89C955.37 719.17 960.19 719.35 961.67 719.44" fill="none" stroke="#c2379b" stroke-width="1.85" stroke-linejoin="round" stroke-linecap="round"/>
<path d="M823.33 718.33C824.54 718.52 828.24 719.17 830.56 719.44C832.87 719.72 835 720 837.22 720C839.44 720 841.85 720 843.89 719.44C845.93 718.89 847.59 718.06 849.44 716.67C851.3 715.28 852.96 713.33 855 711.11C857.04 708.89 859.44 705.93 861.67 703.33C863.89 700.74 866.11 697.96 868.33 695.56C870.56 693.15 872.78 691.11 875 688.89C877.22 686.67 879.44 684.63 881.67 682.22C883.89 679.81 886.11 676.57 888.33 674.44C890.56 672.31 892.96 670.59 895 669.44C897.04 668.3 898.89 667.93 900.56 667.56C902.22 667.19 903.33 667 905 667.22C906.67 667.44 908.7 667.87 910.56 668.89C912.41 669.91 914.26 671.48 916.11 673.33C917.96 675.19 919.81 677.59 921.67 680C923.52 682.41 925.37 685.19 927.22 687.78C929.07 690.37 930.93 693.15 932.78 695.56C934.63 697.96 936.48 700 938.33 702.22C940.19 704.44 942.04 706.85 943.89 708.89C945.74 710.93 947.59 712.69 949.44 714.44C951.3 716.2 952.96 718.15 955 719.44C957.04 720.74 960.56 721.76 961.67 722.22" fill="none" stroke="#1a73c4" stroke-width="1.85" stroke-linejoin="round" stroke-linecap="round"/>
<path d="M823.33 728.89C824.54 729.17 828.24 730.09 830.56 730.56C832.87 731.02 835.37 731.48 837.22 731.67C839.07 731.85 840.19 732.04 841.67 731.67C843.15 731.3 844.44 730.65 846.11 729.44C847.78 728.24 850 725.93 851.67 724.44C853.33 722.96 854.63 721.3 856.11 720.56C857.59 719.81 859.07 719.91 860.56 720C862.04 720.09 863.7 721.3 865 721.11C866.3 720.93 867.04 720.56 868.33 718.89C869.63 717.22 871.3 714.26 872.78 711.11C874.26 707.96 875.74 703.52 877.22 700C878.7 696.48 880.19 692.69 881.67 690C883.15 687.31 884.72 685.19 886.11 683.89C887.5 682.59 888.7 681.94 890 682.22C891.3 682.5 892.5 683.7 893.89 685.56C895.28 687.41 896.85 690.19 898.33 693.33C899.81 696.48 901.3 700.93 902.78 704.44C904.26 707.96 905.74 711.48 907.22 714.44C908.7 717.41 910.19 720.28 911.67 722.22C913.15 724.17 914.81 725.28 916.11 726.11C917.41 726.94 918.15 727.31 919.44 727.22C920.74 727.13 922.41 726.39 923.89 725.56C925.37 724.72 926.85 723.33 928.33 722.22C929.81 721.11 931.3 719.72 932.78 718.89C934.26 718.06 935.74 717.41 937.22 717.22C938.7 717.04 940.19 717.41 941.67 717.78C943.15 718.15 944.63 718.8 946.11 719.44C947.59 720.09 948.89 720.74 950.56 721.67C952.22 722.59 954.26 724.17 956.11 725C957.96 725.83 960.74 726.39 961.67 726.67" fill="none" stroke="#1a73c4" stroke-width="1.85" stroke-linejoin="round" stroke-linecap="round"/>
<path d="M823.33 706.67C824.54 706.85 828.24 707.04 830.56 707.78C832.87 708.52 835.19 709.63 837.22 711.11C839.26 712.59 840.93 715.28 842.78 716.67C844.63 718.06 846.67 719.63 848.33 719.44C850 719.26 851.3 717.87 852.78 715.56C854.26 713.24 855.74 710 857.22 705.56C858.7 701.11 860 694.26 861.67 688.89C863.33 683.52 865.37 677.41 867.22 673.33C869.07 669.26 871.11 666.39 872.78 664.44C874.44 662.5 875.93 662.22 877.22 661.67C878.52 661.11 879.26 660.74 880.56 661.11C881.85 661.48 883.33 662.22 885 663.89C886.67 665.56 888.7 668.98 890.56 671.11C892.41 673.24 894.26 675.28 896.11 676.67C897.96 678.06 899.81 678.89 901.67 679.44C903.52 680 905.37 680.28 907.22 680C909.07 679.72 910.93 678.7 912.78 677.78C914.63 676.85 916.48 675.22 918.33 674.44C920.19 673.67 922.04 673.2 923.89 673.11C925.74 673.02 927.41 673.3 929.44 673.89C931.48 674.48 933.89 675.28 936.11 676.67C938.33 678.06 940.56 680.19 942.78 682.22C945 684.26 947.22 686.85 949.44 688.89C951.67 690.93 954.07 693.15 956.11 694.44C958.15 695.74 960.74 696.3 961.67 696.67" fill="none" stroke="#eb1c2d" stroke-width="1.85" stroke-linejoin="round" stroke-linecap="round"/>
<path d="M823.33 707.78C824.54 708.06 828.24 708.33 830.56 709.44C832.87 710.56 835.19 712.5 837.22 714.44C839.26 716.39 840.93 719.63 842.78 721.11C844.63 722.59 846.67 723.52 848.33 723.33C850 723.15 851.3 722.04 852.78 720C854.26 717.96 855.74 714.81 857.22 711.11C858.7 707.41 860 701.67 861.67 697.78C863.33 693.89 865.37 690.19 867.22 687.78C869.07 685.37 870.74 684.63 872.78 683.33C874.81 682.04 877.22 681.11 879.44 680C881.67 678.89 883.89 677.78 886.11 676.67C888.33 675.56 890.56 674.07 892.78 673.33C895 672.59 897.22 672.41 899.44 672.22C901.67 672.04 903.89 672.13 906.11 672.22C908.33 672.31 910.74 672.22 912.78 672.78C914.81 673.33 916.48 674.35 918.33 675.56C920.19 676.76 921.85 678.52 923.89 680C925.93 681.48 928.15 683.15 930.56 684.44C932.96 685.74 935.93 686.48 938.33 687.78C940.74 689.07 942.96 690.74 945 692.22C947.04 693.7 948.7 695.19 950.56 696.67C952.41 698.15 954.26 699.81 956.11 701.11C957.96 702.41 960.74 703.89 961.67 704.44" fill="none" stroke="#eb1c2d" stroke-width="1.85" stroke-linejoin="round" stroke-linecap="round"/>
<text transform="translate(894.5 588.7) scale(1.06 1)" font-size="13.54" text-anchor="middle" letter-spacing="0.4" stroke="#111" stroke-width="0.3">28</text>
<text transform="translate(894.5 605.7) scale(1.06 1)" font-size="13.54" text-anchor="middle" stroke="#111" stroke-width="0.3">Pasta-spiker</text>
<path d="M1029.5 609V749.7H1188.8" fill="none" stroke="#6a6a6a" stroke-width="1.1"/>
<path d="M1029.5 749.7v-4M1065.5 749.7v-4M1101.2 749.7v-4M1136.7 749.7v-4M1172.5 749.7v-4M1188.5 749.7v-4M1029.5 734.5h4M1029.5 718.79h4M1029.5 703.08h4M1029.5 687.37h4M1029.5 671.66h4M1029.5 655.95h4M1029.5 640.24h4M1029.5 624.53h4M1029.5 609h4" fill="none" stroke="#6a6a6a" stroke-width="1.1"/>
<text transform="translate(1029.5 765.1) scale(1.06 1)" font-size="11.66" text-anchor="middle" letter-spacing="0.5" stroke="#111" stroke-width="0.3">−50</text>
<text transform="translate(1065.5 765.1) scale(1.06 1)" font-size="11.66" text-anchor="middle" letter-spacing="0.5" stroke="#111" stroke-width="0.3">0</text>
<text transform="translate(1101.2 765.1) scale(1.06 1)" font-size="11.66" text-anchor="middle" letter-spacing="0.5" stroke="#111" stroke-width="0.3">50</text>
<text transform="translate(1136.7 765.1) scale(1.06 1)" font-size="11.66" text-anchor="middle" letter-spacing="0.5" stroke="#111" stroke-width="0.3">100</text>
<text transform="translate(1172.5 765.1) scale(1.06 1)" font-size="11.66" text-anchor="middle" letter-spacing="0.5" stroke="#111" stroke-width="0.3">150</text>
<text transform="translate(1023 738.9) scale(1.06 1)" font-size="11.66" text-anchor="end" letter-spacing="0.5" stroke="#111" stroke-width="0.3">80</text>
<text transform="translate(1023 723.19) scale(1.06 1)" font-size="11.66" text-anchor="end" letter-spacing="0.5" stroke="#111" stroke-width="0.3">100</text>
<text transform="translate(1023 707.48) scale(1.06 1)" font-size="11.66" text-anchor="end" letter-spacing="0.5" stroke="#111" stroke-width="0.3">120</text>
<text transform="translate(1023 691.77) scale(1.06 1)" font-size="11.66" text-anchor="end" letter-spacing="0.5" stroke="#111" stroke-width="0.3">140</text>
<text transform="translate(1023 676.06) scale(1.06 1)" font-size="11.66" text-anchor="end" letter-spacing="0.5" stroke="#111" stroke-width="0.3">160</text>
<text transform="translate(1023 660.35) scale(1.06 1)" font-size="11.66" text-anchor="end" letter-spacing="0.5" stroke="#111" stroke-width="0.3">180</text>
<text transform="translate(1023 644.64) scale(1.06 1)" font-size="11.66" text-anchor="end" letter-spacing="0.5" stroke="#111" stroke-width="0.3">200</text>
<text transform="translate(1023 628.93) scale(1.06 1)" font-size="11.66" text-anchor="end" letter-spacing="0.5" stroke="#111" stroke-width="0.3">220</text>
<path d="M1048.33 711.11C1049.54 711.39 1053.24 712.22 1055.56 712.78C1057.87 713.33 1060.19 714.26 1062.22 714.44C1064.26 714.63 1066.11 715.37 1067.78 713.89C1069.44 712.41 1070.74 709.17 1072.22 705.56C1073.7 701.94 1075 696.85 1076.67 692.22C1078.33 687.59 1080.37 682.04 1082.22 677.78C1084.07 673.52 1085.93 670.56 1087.78 666.67C1089.63 662.78 1091.48 658.33 1093.33 654.44C1095.19 650.56 1097.22 646.48 1098.89 643.33C1100.56 640.19 1101.85 637.41 1103.33 635.56C1104.81 633.7 1106.48 632.22 1107.78 632.22C1109.07 632.22 1110 633.7 1111.11 635.56C1112.22 637.41 1113.15 640.37 1114.44 643.33C1115.74 646.3 1117.41 650 1118.89 653.33C1120.37 656.67 1121.67 659.63 1123.33 663.33C1125 667.04 1127.04 671.67 1128.89 675.56C1130.74 679.44 1132.59 683.52 1134.44 686.67C1136.3 689.81 1138.15 692.22 1140 694.44C1141.85 696.67 1143.7 697.78 1145.56 700C1147.41 702.22 1149.26 705 1151.11 707.78C1152.96 710.56 1154.44 714.07 1156.67 716.67C1158.89 719.26 1161.67 721.67 1164.44 723.33C1167.22 725 1170.74 725.74 1173.33 726.67C1175.93 727.59 1177.78 728.06 1180 728.89C1182.22 729.72 1185.56 731.2 1186.67 731.67" fill="none" stroke="#747474" stroke-width="1.85" stroke-linejoin="round" stroke-linecap="round"/>
<path d="M1048.33 713.89C1049.54 714.54 1053.24 716.39 1055.56 717.78C1057.87 719.17 1060 721.67 1062.22 722.22C1064.44 722.78 1066.85 722.59 1068.89 721.11C1070.93 719.63 1072.59 717.22 1074.44 713.33C1076.3 709.44 1078.15 703.15 1080 697.78C1081.85 692.41 1083.7 686.3 1085.56 681.11C1087.41 675.93 1089.26 670.37 1091.11 666.67C1092.96 662.96 1094.81 660.28 1096.67 658.89C1098.52 657.5 1100.37 658.61 1102.22 658.33C1104.07 658.06 1105.93 657.96 1107.78 657.22C1109.63 656.48 1111.67 654.72 1113.33 653.89C1115 653.06 1116.3 651.94 1117.78 652.22C1119.26 652.5 1120.56 653.52 1122.22 655.56C1123.89 657.59 1125.93 662.04 1127.78 664.44C1129.63 666.85 1131.48 668.52 1133.33 670C1135.19 671.48 1137.04 672.31 1138.89 673.33C1140.74 674.35 1142.59 675.19 1144.44 676.11C1146.3 677.04 1148.15 677.69 1150 678.89C1151.85 680.09 1153.7 681.3 1155.56 683.33C1157.41 685.37 1159.07 688.33 1161.11 691.11C1163.15 693.89 1165.56 697.22 1167.78 700C1170 702.78 1172.22 705.56 1174.44 707.78C1176.67 710 1179.07 711.67 1181.11 713.33C1183.15 715 1185.74 717.04 1186.67 717.78" fill="none" stroke="#747474" stroke-width="1.85" stroke-linejoin="round" stroke-linecap="round"/>
<path d="M1048.33 707.22C1049.17 707.22 1051.57 706.85 1053.33 707.22C1055.09 707.59 1057.04 708.7 1058.89 709.44C1060.74 710.19 1062.78 711.39 1064.44 711.67C1066.11 711.94 1067.41 712.5 1068.89 711.11C1070.37 709.72 1071.85 706.48 1073.33 703.33C1074.81 700.19 1076.3 695.37 1077.78 692.22C1079.26 689.07 1080.74 685.56 1082.22 684.44C1083.7 683.33 1085.19 685.19 1086.67 685.56C1088.15 685.93 1089.63 686.67 1091.11 686.67C1092.59 686.67 1094.07 686.3 1095.56 685.56C1097.04 684.81 1098.52 683.52 1100 682.22C1101.48 680.93 1102.96 679.26 1104.44 677.78C1105.93 676.3 1107.41 674.54 1108.89 673.33C1110.37 672.13 1112.04 670.74 1113.33 670.56C1114.63 670.37 1115.56 671.02 1116.67 672.22C1117.78 673.43 1118.89 675.37 1120 677.78C1121.11 680.19 1122.22 683.89 1123.33 686.67C1124.44 689.44 1125.37 691.85 1126.67 694.44C1127.96 697.04 1129.44 699.81 1131.11 702.22C1132.78 704.63 1134.81 707.04 1136.67 708.89C1138.52 710.74 1140.37 712.04 1142.22 713.33C1144.07 714.63 1145.93 715.56 1147.78 716.67C1149.63 717.78 1151.48 718.52 1153.33 720C1155.19 721.48 1157.04 723.98 1158.89 725.56C1160.74 727.13 1162.59 728.89 1164.44 729.44C1166.3 730 1168.15 729.26 1170 728.89C1171.85 728.52 1173.7 727.59 1175.56 727.22C1177.41 726.85 1179.26 726.76 1181.11 726.67C1182.96 726.57 1185.74 726.67 1186.67 726.67" fill="none" stroke="#c2379b" stroke-width="1.85" stroke-linejoin="round" stroke-linecap="round"/>
<path d="M1048.33 716.67C1049.54 717.22 1053.24 719.07 1055.56 720C1057.87 720.93 1060.19 722.04 1062.22 722.22C1064.26 722.41 1065.93 722.59 1067.78 721.11C1069.63 719.63 1071.48 716.85 1073.33 713.33C1075.19 709.81 1077.04 704.44 1078.89 700C1080.74 695.56 1082.59 690.37 1084.44 686.67C1086.3 682.96 1088.15 679.81 1090 677.78C1091.85 675.74 1093.7 675.37 1095.56 674.44C1097.41 673.52 1099.26 672.69 1101.11 672.22C1102.96 671.76 1104.81 671.3 1106.67 671.67C1108.52 672.04 1110.37 673.06 1112.22 674.44C1114.07 675.83 1115.93 677.59 1117.78 680C1119.63 682.41 1121.48 685.93 1123.33 688.89C1125.19 691.85 1127.04 694.81 1128.89 697.78C1130.74 700.74 1132.59 704.26 1134.44 706.67C1136.3 709.07 1138.15 710.56 1140 712.22C1141.85 713.89 1143.7 715.37 1145.56 716.67C1147.41 717.96 1149.26 718.89 1151.11 720C1152.96 721.11 1154.44 722.41 1156.67 723.33C1158.89 724.26 1161.67 725 1164.44 725.56C1167.22 726.11 1169.63 726.3 1173.33 726.67C1177.04 727.04 1184.44 727.59 1186.67 727.78" fill="none" stroke="#c2379b" stroke-width="1.85" stroke-linejoin="round" stroke-linecap="round"/>
<path d="M1048.33 719.44C1049.54 719.91 1053.24 721.3 1055.56 722.22C1057.87 723.15 1060 724.26 1062.22 725C1064.44 725.74 1066.85 726.57 1068.89 726.67C1070.93 726.76 1072.59 727.04 1074.44 725.56C1076.3 724.07 1078.15 721.11 1080 717.78C1081.85 714.44 1083.7 709.63 1085.56 705.56C1087.41 701.48 1089.26 696.67 1091.11 693.33C1092.96 690 1094.81 687.59 1096.67 685.56C1098.52 683.52 1100.37 682.22 1102.22 681.11C1104.07 680 1105.93 679.35 1107.78 678.89C1109.63 678.43 1111.67 678.15 1113.33 678.33C1115 678.52 1116.3 678.8 1117.78 680C1119.26 681.2 1120.74 683.33 1122.22 685.56C1123.7 687.78 1125.19 690.56 1126.67 693.33C1128.15 696.11 1129.44 699.44 1131.11 702.22C1132.78 705 1134.81 707.59 1136.67 710C1138.52 712.41 1140.19 714.63 1142.22 716.67C1144.26 718.7 1146.67 720.37 1148.89 722.22C1151.11 724.07 1153.33 726.11 1155.56 727.78C1157.78 729.44 1160 730.93 1162.22 732.22C1164.44 733.52 1166.67 734.44 1168.89 735.56C1171.11 736.67 1173.52 737.96 1175.56 738.89C1177.59 739.81 1179.26 740.59 1181.11 741.11C1182.96 741.63 1185.74 741.85 1186.67 742" fill="none" stroke="#2e3da0" stroke-width="1.85" stroke-linejoin="round" stroke-linecap="round"/>
<path d="M1048.33 720.56C1049.54 720.83 1053.24 721.67 1055.56 722.22C1057.87 722.78 1060 723.43 1062.22 723.89C1064.44 724.35 1066.67 724.72 1068.89 725C1071.11 725.28 1073.52 726.2 1075.56 725.56C1077.59 724.91 1079.26 723.33 1081.11 721.11C1082.96 718.89 1084.81 715.19 1086.67 712.22C1088.52 709.26 1090.37 705.93 1092.22 703.33C1094.07 700.74 1095.93 698.43 1097.78 696.67C1099.63 694.91 1101.48 693.65 1103.33 692.78C1105.19 691.91 1107.04 691.67 1108.89 691.44C1110.74 691.22 1112.59 691.13 1114.44 691.44C1116.3 691.76 1118.15 692.46 1120 693.33C1121.85 694.2 1123.89 695 1125.56 696.67C1127.22 698.33 1128.52 700.37 1130 703.33C1131.48 706.3 1132.96 710.56 1134.44 714.44C1135.93 718.33 1137.41 722.96 1138.89 726.67C1140.37 730.37 1141.85 733.89 1143.33 736.67C1144.81 739.44 1146.3 741.7 1147.78 743.33C1149.26 744.96 1150.74 745.89 1152.22 746.44C1153.7 747 1155.19 746.91 1156.67 746.67C1158.15 746.43 1159.44 745.41 1161.11 745C1162.78 744.59 1164.63 744.31 1166.67 744.22C1168.7 744.13 1171.11 744.35 1173.33 744.44C1175.56 744.54 1177.78 744.63 1180 744.78C1182.22 744.93 1185.56 745.24 1186.67 745.33" fill="none" stroke="#2e3da0" stroke-width="1.85" stroke-linejoin="round" stroke-linecap="round"/>
<path d="M1048.33 712.78C1049.54 713.24 1053.24 714.81 1055.56 715.56C1057.87 716.3 1060.37 717.41 1062.22 717.22C1064.07 717.04 1065.19 716.94 1066.67 714.44C1068.15 711.94 1069.63 706.85 1071.11 702.22C1072.59 697.59 1074.07 691.48 1075.56 686.67C1077.04 681.85 1078.52 676.11 1080 673.33C1081.48 670.56 1082.78 670.46 1084.44 670C1086.11 669.54 1088.15 670.56 1090 670.56C1091.85 670.56 1093.89 669.35 1095.56 670C1097.22 670.65 1098.33 672.78 1100 674.44C1101.67 676.11 1103.7 678.52 1105.56 680C1107.41 681.48 1109.26 682.41 1111.11 683.33C1112.96 684.26 1114.81 684.81 1116.67 685.56C1118.52 686.3 1120.56 686.67 1122.22 687.78C1123.89 688.89 1125.19 690.37 1126.67 692.22C1128.15 694.07 1129.44 696.67 1131.11 698.89C1132.78 701.11 1134.81 703.52 1136.67 705.56C1138.52 707.59 1140.37 709.81 1142.22 711.11C1144.07 712.41 1145.74 712.87 1147.78 713.33C1149.81 713.8 1152.22 713.15 1154.44 713.89C1156.67 714.63 1158.89 716.39 1161.11 717.78C1163.33 719.17 1165.56 720.74 1167.78 722.22C1170 723.7 1172.22 725.19 1174.44 726.67C1176.67 728.15 1179.07 729.81 1181.11 731.11C1183.15 732.41 1185.74 733.89 1186.67 734.44" fill="none" stroke="#3bab6c" stroke-width="1.85" stroke-linejoin="round" stroke-linecap="round"/>
<path d="M1048.33 717.78C1049.54 718.33 1053.24 720.19 1055.56 721.11C1057.87 722.04 1060.19 723.15 1062.22 723.33C1064.26 723.52 1066.11 723.33 1067.78 722.22C1069.44 721.11 1070.56 719.81 1072.22 716.67C1073.89 713.52 1075.93 707.96 1077.78 703.33C1079.63 698.7 1081.48 693.33 1083.33 688.89C1085.19 684.44 1087.04 680 1088.89 676.67C1090.74 673.33 1092.59 670.83 1094.44 668.89C1096.3 666.94 1098.33 665.78 1100 665C1101.67 664.22 1102.78 664.13 1104.44 664.22C1106.11 664.31 1108.15 664.69 1110 665.56C1111.85 666.43 1113.7 667.96 1115.56 669.44C1117.41 670.93 1119.26 672.5 1121.11 674.44C1122.96 676.39 1124.81 678.52 1126.67 681.11C1128.52 683.7 1130.37 686.85 1132.22 690C1134.07 693.15 1136.11 696.85 1137.78 700C1139.44 703.15 1140.74 705.74 1142.22 708.89C1143.7 712.04 1145.19 715.93 1146.67 718.89C1148.15 721.85 1149.44 724.26 1151.11 726.67C1152.78 729.07 1154.63 731.11 1156.67 733.33C1158.7 735.56 1161.11 738.33 1163.33 740C1165.56 741.67 1167.59 742.41 1170 743.33C1172.41 744.26 1175 744.81 1177.78 745.56C1180.56 746.3 1185.19 747.41 1186.67 747.78" fill="none" stroke="#3bab6c" stroke-width="1.85" stroke-linejoin="round" stroke-linecap="round"/>
<path d="M1048.33 719.44C1049.54 719.81 1053.24 721.02 1055.56 721.67C1057.87 722.31 1060 723.24 1062.22 723.33C1064.44 723.43 1066.85 723.15 1068.89 722.22C1070.93 721.3 1072.59 720.74 1074.44 717.78C1076.3 714.81 1078.15 709.63 1080 704.44C1081.85 699.26 1083.7 692.59 1085.56 686.67C1087.41 680.74 1089.26 674.07 1091.11 668.89C1092.96 663.7 1094.81 659.26 1096.67 655.56C1098.52 651.85 1100.37 649.26 1102.22 646.67C1104.07 644.07 1106.11 641.57 1107.78 640C1109.44 638.43 1110.93 637.59 1112.22 637.22C1113.52 636.85 1114.26 636.76 1115.56 637.78C1116.85 638.8 1118.33 640.93 1120 643.33C1121.67 645.74 1123.7 649.07 1125.56 652.22C1127.41 655.37 1129.44 659.07 1131.11 662.22C1132.78 665.37 1134.07 668.7 1135.56 671.11C1137.04 673.52 1138.52 673.7 1140 676.67C1141.48 679.63 1142.96 685 1144.44 688.89C1145.93 692.78 1147.41 696.67 1148.89 700C1150.37 703.33 1151.67 705.93 1153.33 708.89C1155 711.85 1157.04 715.37 1158.89 717.78C1160.74 720.19 1162.59 721.67 1164.44 723.33C1166.3 725 1168.15 726.11 1170 727.78C1171.85 729.44 1173.7 731.11 1175.56 733.33C1177.41 735.56 1179.26 738.89 1181.11 741.11C1182.96 743.33 1185.74 745.74 1186.67 746.67" fill="none" stroke="#1a73c4" stroke-width="1.85" stroke-linejoin="round" stroke-linecap="round"/>
<path d="M1048.33 721.11C1049.54 721.3 1053.24 721.94 1055.56 722.22C1057.87 722.5 1060 722.69 1062.22 722.78C1064.44 722.87 1066.85 723.06 1068.89 722.78C1070.93 722.5 1072.59 723.24 1074.44 721.11C1076.3 718.98 1078.15 714.81 1080 710C1081.85 705.19 1083.7 698.52 1085.56 692.22C1087.41 685.93 1089.26 678.15 1091.11 672.22C1092.96 666.3 1094.81 660.28 1096.67 656.67C1098.52 653.06 1100.56 651.67 1102.22 650.56C1103.89 649.44 1105.19 649.91 1106.67 650C1108.15 650.09 1109.44 650.19 1111.11 651.11C1112.78 652.04 1114.81 653.8 1116.67 655.56C1118.52 657.31 1120.37 660 1122.22 661.67C1124.07 663.33 1126.11 664.35 1127.78 665.56C1129.44 666.76 1130.74 666.85 1132.22 668.89C1133.7 670.93 1135 674.26 1136.67 677.78C1138.33 681.3 1140.37 686.3 1142.22 690C1144.07 693.7 1145.93 696.85 1147.78 700C1149.63 703.15 1151.48 706.3 1153.33 708.89C1155.19 711.48 1157.04 713.7 1158.89 715.56C1160.74 717.41 1162.59 718.33 1164.44 720C1166.3 721.67 1168.15 723.7 1170 725.56C1171.85 727.41 1173.7 729.44 1175.56 731.11C1177.41 732.78 1179.26 734.26 1181.11 735.56C1182.96 736.85 1185.74 738.33 1186.67 738.89" fill="none" stroke="#1a73c4" stroke-width="1.85" stroke-linejoin="round" stroke-linecap="round"/>
<path d="M1048.33 716.67C1049.54 717.78 1053.24 721.2 1055.56 723.33C1057.87 725.46 1060 727.96 1062.22 729.44C1064.44 730.93 1067.04 732.31 1068.89 732.22C1070.74 732.13 1071.85 731.48 1073.33 728.89C1074.81 726.3 1076.3 721.48 1077.78 716.67C1079.26 711.85 1080.56 706.11 1082.22 700C1083.89 693.89 1085.93 686.67 1087.78 680C1089.63 673.33 1091.48 666.48 1093.33 660C1095.19 653.52 1097.04 647.04 1098.89 641.11C1100.74 635.19 1102.59 628.89 1104.44 624.44C1106.3 620 1108.33 616.52 1110 614.44C1111.67 612.37 1112.96 612 1114.44 612C1115.93 612 1117.41 612.19 1118.89 614.44C1120.37 616.7 1122.04 621.3 1123.33 625.56C1124.63 629.81 1125.37 634.44 1126.67 640C1127.96 645.56 1129.63 652.96 1131.11 658.89C1132.59 664.81 1133.89 670 1135.56 675.56C1137.22 681.11 1139.26 687.22 1141.11 692.22C1142.96 697.22 1144.63 701.67 1146.67 705.56C1148.7 709.44 1150.93 712.78 1153.33 715.56C1155.74 718.33 1158.52 720.37 1161.11 722.22C1163.7 724.07 1166.11 725.37 1168.89 726.67C1171.67 727.96 1174.81 728.89 1177.78 730C1180.74 731.11 1185.19 732.78 1186.67 733.33" fill="none" stroke="#c4a600" stroke-width="1.85" stroke-linejoin="round" stroke-linecap="round"/>
<path d="M1048.33 718.89C1049.54 719.26 1053.24 720.28 1055.56 721.11C1057.87 721.94 1060 723.52 1062.22 723.89C1064.44 724.26 1066.85 724.17 1068.89 723.33C1070.93 722.5 1072.59 721.85 1074.44 718.89C1076.3 715.93 1078.15 710.74 1080 705.56C1081.85 700.37 1083.7 693.7 1085.56 687.78C1087.41 681.85 1089.26 675.19 1091.11 670C1092.96 664.81 1095.19 659.81 1096.67 656.67C1098.15 653.52 1098.7 652.41 1100 651.11C1101.3 649.81 1102.96 650.19 1104.44 648.89C1105.93 647.59 1107.22 645.74 1108.89 643.33C1110.56 640.93 1112.78 636.3 1114.44 634.44C1116.11 632.59 1117.41 632.04 1118.89 632.22C1120.37 632.41 1121.85 633.89 1123.33 635.56C1124.81 637.22 1126.3 640.37 1127.78 642.22C1129.26 644.07 1130.74 645 1132.22 646.67C1133.7 648.33 1135.19 649.63 1136.67 652.22C1138.15 654.81 1139.44 657.96 1141.11 662.22C1142.78 666.48 1144.81 672.78 1146.67 677.78C1148.52 682.78 1150.19 687.59 1152.22 692.22C1154.26 696.85 1156.67 701.85 1158.89 705.56C1161.11 709.26 1163.15 711.67 1165.56 714.44C1167.96 717.22 1170.93 720 1173.33 722.22C1175.74 724.44 1177.78 726.11 1180 727.78C1182.22 729.44 1185.56 731.48 1186.67 732.22" fill="none" stroke="#c4a600" stroke-width="1.85" stroke-linejoin="round" stroke-linecap="round"/>
<path d="M1048.33 721.67C1049.54 721.39 1053.24 720.28 1055.56 720C1057.87 719.72 1060 719.72 1062.22 720C1064.44 720.28 1066.85 721.3 1068.89 721.67C1070.93 722.04 1072.78 722.69 1074.44 722.22C1076.11 721.76 1077.41 721.11 1078.89 718.89C1080.37 716.67 1081.85 713.15 1083.33 708.89C1084.81 704.63 1086.3 699.26 1087.78 693.33C1089.26 687.41 1090.74 679.81 1092.22 673.33C1093.7 666.85 1095.19 659.44 1096.67 654.44C1098.15 649.44 1099.44 646.3 1101.11 643.33C1102.78 640.37 1104.81 638.43 1106.67 636.67C1108.52 634.91 1110.37 634.07 1112.22 632.78C1114.07 631.48 1115.93 630.09 1117.78 628.89C1119.63 627.69 1121.85 626.26 1123.33 625.56C1124.81 624.85 1125.56 624.57 1126.67 624.67C1127.78 624.76 1128.89 624.85 1130 626.11C1131.11 627.37 1132.22 629.54 1133.33 632.22C1134.44 634.91 1135.56 638.52 1136.67 642.22C1137.78 645.93 1138.89 650.56 1140 654.44C1141.11 658.33 1142.04 661.85 1143.33 665.56C1144.63 669.26 1146.11 672.96 1147.78 676.67C1149.44 680.37 1151.3 683.89 1153.33 687.78C1155.37 691.67 1157.78 696.3 1160 700C1162.22 703.7 1164.44 706.85 1166.67 710C1168.89 713.15 1171.11 716.3 1173.33 718.89C1175.56 721.48 1177.78 723.52 1180 725.56C1182.22 727.59 1185.56 730.19 1186.67 731.11" fill="none" stroke="#eb1c2d" stroke-width="1.85" stroke-linejoin="round" stroke-linecap="round"/>
<text transform="translate(1108.3 588.9) scale(1.06 1)" font-size="13.54" text-anchor="middle" letter-spacing="0.4" stroke="#111" stroke-width="0.3">87</text>
<text transform="translate(1108.3 605.9) scale(1.06 1)" font-size="13.54" text-anchor="middle" stroke="#111" stroke-width="0.3">Potato-spiker</text>
<path d="M578.1 845.3V986.3H757.8" fill="none" stroke="#6a6a6a" stroke-width="1.1"/>
<path d="M578.1 986.3v-4M613.8 986.3v-4M649.5 986.3v-4M685.4 986.3v-4M721.3 986.3v-4M757.8 986.3v-4M578.1 970.6h4M578.1 954.93h4M578.1 939.26h4M578.1 923.59h4M578.1 907.92h4M578.1 892.25h4M578.1 876.58h4M578.1 860.91h4M578.1 845.3h4" fill="none" stroke="#6a6a6a" stroke-width="1.1"/>
<text transform="translate(578.1 1001.7) scale(1.06 1)" font-size="11.66" text-anchor="middle" letter-spacing="0.5" stroke="#111" stroke-width="0.3">−50</text>
<text transform="translate(613.8 1001.7) scale(1.06 1)" font-size="11.66" text-anchor="middle" letter-spacing="0.5" stroke="#111" stroke-width="0.3">0</text>
<text transform="translate(649.5 1001.7) scale(1.06 1)" font-size="11.66" text-anchor="middle" letter-spacing="0.5" stroke="#111" stroke-width="0.3">50</text>
<text transform="translate(685.4 1001.7) scale(1.06 1)" font-size="11.66" text-anchor="middle" letter-spacing="0.5" stroke="#111" stroke-width="0.3">100</text>
<text transform="translate(721.3 1001.7) scale(1.06 1)" font-size="11.66" text-anchor="middle" letter-spacing="0.5" stroke="#111" stroke-width="0.3">150</text>
<text transform="translate(571.6 975) scale(1.06 1)" font-size="11.66" text-anchor="end" letter-spacing="0.5" stroke="#111" stroke-width="0.3">80</text>
<text transform="translate(571.6 959.33) scale(1.06 1)" font-size="11.66" text-anchor="end" letter-spacing="0.5" stroke="#111" stroke-width="0.3">100</text>
<text transform="translate(571.6 943.66) scale(1.06 1)" font-size="11.66" text-anchor="end" letter-spacing="0.5" stroke="#111" stroke-width="0.3">120</text>
<text transform="translate(571.6 927.99) scale(1.06 1)" font-size="11.66" text-anchor="end" letter-spacing="0.5" stroke="#111" stroke-width="0.3">140</text>
<text transform="translate(571.6 912.32) scale(1.06 1)" font-size="11.66" text-anchor="end" letter-spacing="0.5" stroke="#111" stroke-width="0.3">160</text>
<text transform="translate(571.6 896.65) scale(1.06 1)" font-size="11.66" text-anchor="end" letter-spacing="0.5" stroke="#111" stroke-width="0.3">180</text>
<text transform="translate(571.6 880.98) scale(1.06 1)" font-size="11.66" text-anchor="end" letter-spacing="0.5" stroke="#111" stroke-width="0.3">200</text>
<text transform="translate(571.6 865.31) scale(1.06 1)" font-size="11.66" text-anchor="end" letter-spacing="0.5" stroke="#111" stroke-width="0.3">220</text>
<path d="M596.33 945.44C597.54 945.72 601.24 947.39 603.56 947.11C605.87 946.83 608.19 944.8 610.22 943.78C612.26 942.76 613.93 941.74 615.78 941C617.63 940.26 619.67 940.54 621.33 939.33C623 938.13 624.3 937.3 625.78 933.78C627.26 930.26 628.74 923.96 630.22 918.22C631.7 912.48 633.19 905.63 634.67 899.33C636.15 893.04 637.63 886 639.11 880.44C640.59 874.89 642.07 869.8 643.56 866C645.04 862.2 646.8 859.3 648 857.67C649.2 856.04 649.85 856.22 650.78 856.22C651.7 856.22 652.54 856.04 653.56 857.67C654.57 859.3 655.78 861.83 656.89 866C658 870.17 659.11 876.56 660.22 882.67C661.33 888.78 662.44 896.19 663.56 902.67C664.67 909.15 665.78 916 666.89 921.56C668 927.11 669.11 931.93 670.22 936C671.33 940.07 672.26 943.22 673.56 946C674.85 948.78 676.52 951.09 678 952.67C679.48 954.24 681.15 954.98 682.44 955.44C683.74 955.91 684.67 955.91 685.78 955.44C686.89 954.98 687.81 954.06 689.11 952.67C690.41 951.28 692.07 948.78 693.56 947.11C695.04 945.44 696.52 943.78 698 942.67C699.48 941.56 700.78 940.72 702.44 940.44C704.11 940.17 705.96 940.72 708 941C710.04 941.28 712.44 941.83 714.67 942.11C716.89 942.39 719.11 942.02 721.33 942.67C723.56 943.31 725.78 944.89 728 946C730.22 947.11 733.56 948.78 734.67 949.33" fill="none" stroke="#3bab6c" stroke-width="1.85" stroke-linejoin="round" stroke-linecap="round"/>
<path d="M596.33 942.67C597.54 943.41 601.43 945.44 603.56 947.11C605.69 948.78 607.44 950.81 609.11 952.67C610.78 954.52 612.07 957.02 613.56 958.22C615.04 959.43 616.52 960.26 618 959.89C619.48 959.52 620.96 958.31 622.44 956C623.93 953.69 625.41 950.26 626.89 946C628.37 941.74 629.85 936.19 631.33 930.44C632.81 924.7 634.3 918.41 635.78 911.56C637.26 904.7 638.74 895.44 640.22 889.33C641.7 883.22 643.19 878.22 644.67 874.89C646.15 871.56 647.81 870.35 649.11 869.33C650.41 868.31 651.15 868.41 652.44 868.78C653.74 869.15 655.41 869.98 656.89 871.56C658.37 873.13 659.85 875.63 661.33 878.22C662.81 880.81 664.3 883.59 665.78 887.11C667.26 890.63 668.74 895.07 670.22 899.33C671.7 903.59 673.19 907.85 674.67 912.67C676.15 917.48 677.63 923.22 679.11 928.22C680.59 933.22 682.07 938.41 683.56 942.67C685.04 946.93 686.52 950.63 688 953.78C689.48 956.93 691.06 959.8 692.44 961.56C693.83 963.31 695.04 964.33 696.33 964.33C697.63 964.33 698.83 962.76 700.22 961.56C701.61 960.35 703 958.22 704.67 957.11C706.33 956 708.37 955.35 710.22 954.89C712.07 954.43 713.93 954.61 715.78 954.33C717.63 954.06 719.3 953.87 721.33 953.22C723.37 952.57 725.78 951.28 728 950.44C730.22 949.61 733.56 948.59 734.67 948.22" fill="none" stroke="#3bab6c" stroke-width="1.85" stroke-linejoin="round" stroke-linecap="round"/>
<path d="M596.33 942.67C597.54 943.22 601.43 945.54 603.56 946C605.69 946.46 607.26 945.44 609.11 945.44C610.96 945.44 612.81 945.54 614.67 946C616.52 946.46 618.37 947.3 620.22 948.22C622.07 949.15 623.93 951.19 625.78 951.56C627.63 951.93 629.67 952.3 631.33 950.44C633 948.59 634.3 944.89 635.78 940.44C637.26 936 638.74 929.33 640.22 923.78C641.7 918.22 643.19 912.11 644.67 907.11C646.15 902.11 647.63 897.3 649.11 893.78C650.59 890.26 652.26 887.67 653.56 886C654.85 884.33 655.59 883.78 656.89 883.78C658.19 883.78 659.85 885.26 661.33 886C662.81 886.74 664.3 887.67 665.78 888.22C667.26 888.78 668.74 888.04 670.22 889.33C671.7 890.63 673.19 893.04 674.67 896C676.15 898.96 677.63 903.59 679.11 907.11C680.59 910.63 681.89 914.33 683.56 917.11C685.22 919.89 687.26 922.39 689.11 923.78C690.96 925.17 692.81 925.17 694.67 925.44C696.52 925.72 698.37 925.54 700.22 925.44C702.07 925.35 703.93 924.43 705.78 924.89C707.63 925.35 709.48 926.37 711.33 928.22C713.19 930.07 715.04 933.41 716.89 936C718.74 938.59 720.59 941.56 722.44 943.78C724.3 946 725.96 947.85 728 949.33C730.04 950.81 733.56 952.11 734.67 952.67" fill="none" stroke="#c4a600" stroke-width="1.85" stroke-linejoin="round" stroke-linecap="round"/>
<path d="M596.33 963.22C597.17 963.5 599.57 964.61 601.33 964.89C603.09 965.17 605.04 965.63 606.89 964.89C608.74 964.15 610.59 961.74 612.44 960.44C614.3 959.15 616.15 958.41 618 957.11C619.85 955.81 621.89 954.52 623.56 952.67C625.22 950.81 626.52 949.33 628 946C629.48 942.67 630.96 937.3 632.44 932.67C633.93 928.04 635.41 922.48 636.89 918.22C638.37 913.96 639.67 910.26 641.33 907.11C643 903.96 645.04 901.46 646.89 899.33C648.74 897.2 650.78 895.3 652.44 894.33C654.11 893.37 655.41 893.46 656.89 893.56C658.37 893.65 659.85 893.93 661.33 894.89C662.81 895.85 664.3 897.3 665.78 899.33C667.26 901.37 668.74 904.7 670.22 907.11C671.7 909.52 673.19 911.93 674.67 913.78C676.15 915.63 677.63 916.74 679.11 918.22C680.59 919.7 682.07 920.63 683.56 922.67C685.04 924.7 686.52 927.67 688 930.44C689.48 933.22 690.96 936.74 692.44 939.33C693.93 941.93 695.41 944.15 696.89 946C698.37 947.85 699.67 949.33 701.33 950.44C703 951.56 704.85 952.33 706.89 952.67C708.93 953 711.33 952.63 713.56 952.44C715.78 952.26 718 951.52 720.22 951.56C722.44 951.59 724.48 952.02 726.89 952.67C729.3 953.31 733.37 954.98 734.67 955.44" fill="none" stroke="#c4a600" stroke-width="1.85" stroke-linejoin="round" stroke-linecap="round"/>
<path d="M596.33 942.67C597.54 943.41 601.24 945.44 603.56 947.11C605.87 948.78 608.19 951.19 610.22 952.67C612.26 954.15 613.93 955.81 615.78 956C617.63 956.19 619.67 954.7 621.33 953.78C623 952.85 624.11 951.19 625.78 950.44C627.44 949.7 629.67 950.63 631.33 949.33C633 948.04 634.3 946.19 635.78 942.67C637.26 939.15 638.74 933.41 640.22 928.22C641.7 923.04 643.19 915.91 644.67 911.56C646.15 907.2 647.63 904 649.11 902.11C650.59 900.22 652.07 900.31 653.56 900.22C655.04 900.13 656.52 900.78 658 901.56C659.48 902.33 660.96 903.22 662.44 904.89C663.93 906.56 665.41 909.33 666.89 911.56C668.37 913.78 669.85 916.65 671.33 918.22C672.81 919.8 674.3 920.63 675.78 921C677.26 921.37 678.74 920.44 680.22 920.44C681.7 920.44 683 920.81 684.67 921C686.33 921.19 688.37 920.91 690.22 921.56C692.07 922.2 694.11 923.22 695.78 924.89C697.44 926.56 698.74 929.15 700.22 931.56C701.7 933.96 703.19 937.3 704.67 939.33C706.15 941.37 707.63 942.94 709.11 943.78C710.59 944.61 712.07 943.78 713.56 944.33C715.04 944.89 716.52 945.17 718 947.11C719.48 949.06 720.96 953.22 722.44 956C723.93 958.78 725.41 961.74 726.89 963.78C728.37 965.81 730.04 967.3 731.33 968.22C732.63 969.15 734.11 969.15 734.67 969.33" fill="none" stroke="#1a73c4" stroke-width="1.85" stroke-linejoin="round" stroke-linecap="round"/>
<path d="M596.33 963.78C597.54 964.24 601.24 965.91 603.56 966.56C605.87 967.2 608 967.3 610.22 967.67C612.44 968.04 615.04 968.28 616.89 968.78C618.74 969.28 620.04 970.39 621.33 970.67C622.63 970.94 623.37 971.41 624.67 970.44C625.96 969.48 627.44 967.11 629.11 964.89C630.78 962.67 632.81 959.52 634.67 957.11C636.52 954.7 638.37 952.48 640.22 950.44C642.07 948.41 643.93 947.11 645.78 944.89C647.63 942.67 649.48 939.24 651.33 937.11C653.19 934.98 654.85 933.31 656.89 932.11C658.93 930.91 661.52 930.81 663.56 929.89C665.59 928.96 667.44 927.48 669.11 926.56C670.78 925.63 672.07 924.76 673.56 924.33C675.04 923.91 676.52 923.54 678 924C679.48 924.46 680.96 925.67 682.44 927.11C683.93 928.56 685.41 930.63 686.89 932.67C688.37 934.7 689.85 937.3 691.33 939.33C692.81 941.37 694.3 943.41 695.78 944.89C697.26 946.37 698.93 947.63 700.22 948.22C701.52 948.81 702.26 948.91 703.56 948.44C704.85 947.98 706.52 946.41 708 945.44C709.48 944.48 710.78 943.31 712.44 942.67C714.11 942.02 716.15 941.65 718 941.56C719.85 941.46 721.7 942.02 723.56 942.11C725.41 942.2 727.26 941.93 729.11 942.11C730.96 942.3 733.74 943.04 734.67 943.22" fill="none" stroke="#1a73c4" stroke-width="1.85" stroke-linejoin="round" stroke-linecap="round"/>
<path d="M596.33 940.44C597.54 941.28 601.24 943.96 603.56 945.44C605.87 946.93 608 948.31 610.22 949.33C612.44 950.35 615.04 951.09 616.89 951.56C618.74 952.02 619.85 952.85 621.33 952.11C622.81 951.37 624.3 950.35 625.78 947.11C627.26 943.87 628.74 937.67 630.22 932.67C631.7 927.67 633.19 921.37 634.67 917.11C636.15 912.85 637.63 909.52 639.11 907.11C640.59 904.7 642.07 903.96 643.56 902.67C645.04 901.37 646.52 901 648 899.33C649.48 897.67 650.96 895.26 652.44 892.67C653.93 890.07 655.41 886.28 656.89 883.78C658.37 881.28 660.04 879.06 661.33 877.67C662.63 876.28 663.56 875.63 664.67 875.44C665.78 875.26 666.7 875.17 668 876.56C669.3 877.94 670.96 881.09 672.44 883.78C673.93 886.46 675.41 889.7 676.89 892.67C678.37 895.63 679.85 898.04 681.33 901.56C682.81 905.07 684.3 909.33 685.78 913.78C687.26 918.22 688.74 924.15 690.22 928.22C691.7 932.3 693.19 936.19 694.67 938.22C696.15 940.26 697.63 940.72 699.11 940.44C700.59 940.17 702.07 938.41 703.56 936.56C705.04 934.7 706.52 931.83 708 929.33C709.48 926.83 710.96 923.59 712.44 921.56C713.93 919.52 715.41 918.07 716.89 917.11C718.37 916.15 719.85 915.78 721.33 915.78C722.81 915.78 724.3 915.96 725.78 917.11C727.26 918.26 728.74 920.26 730.22 922.67C731.7 925.07 733.93 930.07 734.67 931.56" fill="none" stroke="#eb1c2d" stroke-width="1.85" stroke-linejoin="round" stroke-linecap="round"/>
<path d="M596.33 963.78C597.17 963.78 599.76 963.41 601.33 963.78C602.91 964.15 604.3 965.35 605.78 966C607.26 966.65 608.74 967.67 610.22 967.67C611.7 967.67 613.19 966.83 614.67 966C616.15 965.17 617.63 963.59 619.11 962.67C620.59 961.74 622.07 960.91 623.56 960.44C625.04 959.98 626.52 960.63 628 959.89C629.48 959.15 630.96 958.13 632.44 956C633.93 953.87 635.41 950.07 636.89 947.11C638.37 944.15 639.85 941 641.33 938.22C642.81 935.44 644.3 932.85 645.78 930.44C647.26 928.04 648.74 926 650.22 923.78C651.7 921.56 653.19 919.15 654.67 917.11C656.15 915.07 657.63 913.13 659.11 911.56C660.59 909.98 662.07 908.56 663.56 907.67C665.04 906.78 666.33 906.5 668 906.22C669.67 905.94 671.7 906.07 673.56 906C675.41 905.93 677.44 905.74 679.11 905.78C680.78 905.81 682.07 905.44 683.56 906.22C685.04 907 686.52 908.63 688 910.44C689.48 912.26 690.96 914.7 692.44 917.11C693.93 919.52 695.41 922.3 696.89 924.89C698.37 927.48 699.85 930.54 701.33 932.67C702.81 934.8 704.3 936.74 705.78 937.67C707.26 938.59 708.74 938.5 710.22 938.22C711.7 937.94 713.37 936.37 714.67 936C715.96 935.63 716.89 935.26 718 936C719.11 936.74 720.22 938.22 721.33 940.44C722.44 942.67 723.56 946.19 724.67 949.33C725.78 952.48 726.89 956.19 728 959.33C729.11 962.48 730.22 966 731.33 968.22C732.44 970.44 734.11 971.93 734.67 972.67" fill="none" stroke="#eb1c2d" stroke-width="1.85" stroke-linejoin="round" stroke-linecap="round"/>
<text transform="translate(667.95 822.2) scale(1.06 1)" font-size="13.54" text-anchor="middle" letter-spacing="0.4" stroke="#111" stroke-width="0.3">31</text>
<text transform="translate(667.95 839.2) scale(1.06 1)" font-size="13.54" text-anchor="middle" stroke="#111" stroke-width="0.3">Grape-spike</text>
<path d="M805 845.3V986.3H984" fill="none" stroke="#6a6a6a" stroke-width="1.1"/>
<path d="M805 986.3v-4M840.6 986.3v-4M876.5 986.3v-4M912.5 986.3v-4M948.4 986.3v-4M984 986.3v-4M805 962.7h4M805 939.25h4M805 915.8h4M805 892.35h4M805 868.9h4M805 845.3h4" fill="none" stroke="#6a6a6a" stroke-width="1.1"/>
<text transform="translate(805 1001.7) scale(1.06 1)" font-size="11.66" text-anchor="middle" letter-spacing="0.5" stroke="#111" stroke-width="0.3">−50</text>
<text transform="translate(840.6 1001.7) scale(1.06 1)" font-size="11.66" text-anchor="middle" letter-spacing="0.5" stroke="#111" stroke-width="0.3">0</text>
<text transform="translate(876.5 1001.7) scale(1.06 1)" font-size="11.66" text-anchor="middle" letter-spacing="0.5" stroke="#111" stroke-width="0.3">50</text>
<text transform="translate(912.5 1001.7) scale(1.06 1)" font-size="11.66" text-anchor="middle" letter-spacing="0.5" stroke="#111" stroke-width="0.3">100</text>
<text transform="translate(948.4 1001.7) scale(1.06 1)" font-size="11.66" text-anchor="middle" letter-spacing="0.5" stroke="#111" stroke-width="0.3">150</text>
<text transform="translate(798.5 967.1) scale(1.06 1)" font-size="11.66" text-anchor="end" letter-spacing="0.5" stroke="#111" stroke-width="0.3">80</text>
<text transform="translate(798.5 943.65) scale(1.06 1)" font-size="11.66" text-anchor="end" letter-spacing="0.5" stroke="#111" stroke-width="0.3">100</text>
<text transform="translate(798.5 920.2) scale(1.06 1)" font-size="11.66" text-anchor="end" letter-spacing="0.5" stroke="#111" stroke-width="0.3">120</text>
<text transform="translate(798.5 896.75) scale(1.06 1)" font-size="11.66" text-anchor="end" letter-spacing="0.5" stroke="#111" stroke-width="0.3">140</text>
<text transform="translate(798.5 873.3) scale(1.06 1)" font-size="11.66" text-anchor="end" letter-spacing="0.5" stroke="#111" stroke-width="0.3">160</text>
<path d="M823.33 952.11C824.17 952.2 826.57 951.83 828.33 952.67C830.09 953.5 832.04 955.44 833.89 957.11C835.74 958.78 837.59 961.37 839.44 962.67C841.3 963.96 843.15 964.7 845 964.89C846.85 965.07 848.7 964.89 850.56 963.78C852.41 962.67 854.26 960.63 856.11 958.22C857.96 955.81 859.81 952.3 861.67 949.33C863.52 946.37 865.37 943.22 867.22 940.44C869.07 937.67 870.93 934.98 872.78 932.67C874.63 930.35 876.67 928.04 878.33 926.56C880 925.07 881.3 924.24 882.78 923.78C884.26 923.31 885.74 923.22 887.22 923.78C888.7 924.33 890 925.63 891.67 927.11C893.33 928.59 895.37 930.63 897.22 932.67C899.07 934.7 900.93 937.11 902.78 939.33C904.63 941.56 906.48 943.78 908.33 946C910.19 948.22 912.04 950.63 913.89 952.67C915.74 954.7 917.59 956.56 919.44 958.22C921.3 959.89 923.15 961.46 925 962.67C926.85 963.87 928.52 964.7 930.56 965.44C932.59 966.19 934.81 966.74 937.22 967.11C939.63 967.48 942.41 967.57 945 967.67C947.59 967.76 950 967.67 952.78 967.67C955.56 967.67 960.19 967.67 961.67 967.67" fill="none" stroke="#747474" stroke-width="1.85" stroke-linejoin="round" stroke-linecap="round"/>
<path d="M823.33 963.78C824.54 963.78 828.24 963.59 830.56 963.78C832.87 963.96 835 964.43 837.22 964.89C839.44 965.35 841.85 966.37 843.89 966.56C845.93 966.74 847.59 967.02 849.44 966C851.3 964.98 853.15 962.67 855 960.44C856.85 958.22 858.89 954.89 860.56 952.67C862.22 950.44 863.7 948.41 865 947.11C866.3 945.81 867.04 945.17 868.33 944.89C869.63 944.61 871.3 944.89 872.78 945.44C874.26 946 875.56 947.02 877.22 948.22C878.89 949.43 880.93 951.28 882.78 952.67C884.63 954.06 886.48 955.26 888.33 956.56C890.19 957.85 892.04 959.06 893.89 960.44C895.74 961.83 897.59 963.69 899.44 964.89C901.3 966.09 903.15 967.02 905 967.67C906.85 968.31 908.52 968.59 910.56 968.78C912.59 968.96 914.63 968.87 917.22 968.78C919.81 968.69 923.15 968.22 926.11 968.22C929.07 968.22 932.04 968.59 935 968.78C937.96 968.96 940.93 969.15 943.89 969.33C946.85 969.52 949.81 969.8 952.78 969.89C955.74 969.98 960.19 969.89 961.67 969.89" fill="none" stroke="#747474" stroke-width="1.85" stroke-linejoin="round" stroke-linecap="round"/>
<path d="M823.33 950.44C824.17 950.63 826.57 950.63 828.33 951.56C830.09 952.48 832.04 954.52 833.89 956C835.74 957.48 837.59 959.52 839.44 960.44C841.3 961.37 843.15 961.56 845 961.56C846.85 961.56 848.7 961.74 850.56 960.44C852.41 959.15 854.26 956.74 856.11 953.78C857.96 950.81 859.81 946.19 861.67 942.67C863.52 939.15 865.37 935.81 867.22 932.67C869.07 929.52 870.93 926.93 872.78 923.78C874.63 920.63 876.48 916.56 878.33 913.78C880.19 911 882.41 908.5 883.89 907.11C885.37 905.72 886.11 905.26 887.22 905.44C888.33 905.63 889.26 906.28 890.56 908.22C891.85 910.17 893.52 913.96 895 917.11C896.48 920.26 897.96 923.96 899.44 927.11C900.93 930.26 902.41 933.22 903.89 936C905.37 938.78 906.85 941.56 908.33 943.78C909.81 946 911.3 947.67 912.78 949.33C914.26 951 915.56 952.48 917.22 953.78C918.89 955.07 920.93 956.19 922.78 957.11C924.63 958.04 926.3 958.59 928.33 959.33C930.37 960.07 932.78 960.81 935 961.56C937.22 962.3 939.07 963.04 941.67 963.78C944.26 964.52 947.22 965.35 950.56 966C953.89 966.65 959.81 967.39 961.67 967.67" fill="none" stroke="#c2379b" stroke-width="1.85" stroke-linejoin="round" stroke-linecap="round"/>
<path d="M823.33 960.44C824.54 960.35 827.87 959.89 830.56 959.89C833.24 959.89 836.48 960.17 839.44 960.44C842.41 960.72 845.74 961.93 848.33 961.56C850.93 961.19 852.96 960.07 855 958.22C857.04 956.37 858.7 952.85 860.56 950.44C862.41 948.04 864.07 945.54 866.11 943.78C868.15 942.02 870.56 940.78 872.78 939.89C875 939 877.22 938.63 879.44 938.44C881.67 938.26 883.89 938.35 886.11 938.78C888.33 939.2 890.56 939.98 892.78 941C895 942.02 897.22 943.69 899.44 944.89C901.67 946.09 903.89 947.11 906.11 948.22C908.33 949.33 910.56 950.44 912.78 951.56C915 952.67 917.22 953.78 919.44 954.89C921.67 956 923.7 957.11 926.11 958.22C928.52 959.33 931.3 960.63 933.89 961.56C936.48 962.48 938.89 963.04 941.67 963.78C944.44 964.52 947.22 965.44 950.56 966C953.89 966.56 959.81 966.93 961.67 967.11" fill="none" stroke="#c2379b" stroke-width="1.85" stroke-linejoin="round" stroke-linecap="round"/>
<path d="M823.33 976.56C824.17 976.65 826.67 977.2 828.33 977.11C830 977.02 831.67 976 833.33 976C835 976 836.76 976.74 838.33 977.11C839.91 977.48 841.48 978.41 842.78 978.22C844.07 978.04 845 977.48 846.11 976C847.22 974.52 848.33 972.67 849.44 969.33C850.56 966 851.67 960.81 852.78 956C853.89 951.19 854.81 944.7 856.11 940.44C857.41 936.19 859.07 932.76 860.56 930.44C862.04 928.13 863.52 926.93 865 926.56C866.48 926.19 867.96 927.02 869.44 928.22C870.93 929.43 872.41 931.56 873.89 933.78C875.37 936 876.85 938.78 878.33 941.56C879.81 944.33 881.3 947.48 882.78 950.44C884.26 953.41 885.74 956.37 887.22 959.33C888.7 962.3 890.19 965.63 891.67 968.22C893.15 970.81 894.63 972.85 896.11 974.89C897.59 976.93 898.89 978.78 900.56 980.44C902.22 982.11 904.26 983.93 906.11 984.89C907.96 985.85 909.81 986.13 911.67 986.22C913.52 986.31 915.37 985.85 917.22 985.44C919.07 985.04 920.93 984.33 922.78 983.78C924.63 983.22 926.48 982.57 928.33 982.11C930.19 981.65 932.04 981.19 933.89 981C935.74 980.81 937.59 980.81 939.44 981C941.3 981.19 943.15 981.83 945 982.11C946.85 982.39 948.7 982.76 950.56 982.67C952.41 982.57 954.63 981.78 956.11 981.56C957.59 981.33 958.52 981.15 959.44 981.33C960.37 981.52 961.3 982.44 961.67 982.67" fill="none" stroke="#2e3da0" stroke-width="1.85" stroke-linejoin="round" stroke-linecap="round"/>
<path d="M823.33 969.89C824.17 969.61 826.57 969.24 828.33 968.22C830.09 967.2 832.04 965.26 833.89 963.78C835.74 962.3 837.59 960.63 839.44 959.33C841.3 958.04 843.33 957.48 845 956C846.67 954.52 847.96 953.59 849.44 950.44C850.93 947.3 852.41 942.11 853.89 937.11C855.37 932.11 856.85 925.07 858.33 920.44C859.81 915.81 861.3 912.02 862.78 909.33C864.26 906.65 865.93 905.26 867.22 904.33C868.52 903.41 869.26 903.31 870.56 903.78C871.85 904.24 873.52 905.63 875 907.11C876.48 908.59 877.96 910.81 879.44 912.67C880.93 914.52 882.41 916.19 883.89 918.22C885.37 920.26 886.85 922.3 888.33 924.89C889.81 927.48 891.3 930.81 892.78 933.78C894.26 936.74 895.74 939.7 897.22 942.67C898.7 945.63 900.19 948.78 901.67 951.56C903.15 954.33 904.63 957.11 906.11 959.33C907.59 961.56 909.07 963.5 910.56 964.89C912.04 966.28 913.33 967.11 915 967.67C916.67 968.22 918.7 968.5 920.56 968.22C922.41 967.94 924.26 966.93 926.11 966C927.96 965.07 929.81 963.59 931.67 962.67C933.52 961.74 935.56 961 937.22 960.44C938.89 959.89 940.19 959.43 941.67 959.33C943.15 959.24 944.63 959.52 946.11 959.89C947.59 960.26 948.89 960.72 950.56 961.56C952.22 962.39 954.26 963.78 956.11 964.89C957.96 966 960.74 967.67 961.67 968.22" fill="none" stroke="#2e3da0" stroke-width="1.85" stroke-linejoin="round" stroke-linecap="round"/>
<path d="M823.33 949.33C824.17 949.15 826.76 947.85 828.33 948.22C829.91 948.59 831.3 950.07 832.78 951.56C834.26 953.04 835.74 956.46 837.22 957.11C838.7 957.76 840.19 956.19 841.67 955.44C843.15 954.7 844.63 953.5 846.11 952.67C847.59 951.83 849.07 952.11 850.56 950.44C852.04 948.78 853.52 945.81 855 942.67C856.48 939.52 857.96 935.26 859.44 931.56C860.93 927.85 862.41 923.78 863.89 920.44C865.37 917.11 866.85 913.96 868.33 911.56C869.81 909.15 871.3 907.15 872.78 906C874.26 904.85 875.74 904.85 877.22 904.67C878.7 904.48 880 904.48 881.67 904.89C883.33 905.3 885.37 906.46 887.22 907.11C889.07 907.76 890.93 908.41 892.78 908.78C894.63 909.15 896.48 908.87 898.33 909.33C900.19 909.8 902.04 910.63 903.89 911.56C905.74 912.48 907.59 913.59 909.44 914.89C911.3 916.19 913.15 917.85 915 919.33C916.85 920.81 918.7 922.3 920.56 923.78C922.41 925.26 924.26 926.56 926.11 928.22C927.96 929.89 929.81 931.74 931.67 933.78C933.52 935.81 935.37 938.04 937.22 940.44C939.07 942.85 940.93 945.63 942.78 948.22C944.63 950.81 946.48 953.22 948.33 956C950.19 958.78 952.22 962.3 953.89 964.89C955.56 967.48 957.04 969.89 958.33 971.56C959.63 973.22 961.11 974.33 961.67 974.89" fill="none" stroke="#1a73c4" stroke-width="1.85" stroke-linejoin="round" stroke-linecap="round"/>
<path d="M823.33 961C824.54 960.72 828.24 959.24 830.56 959.33C832.87 959.43 835 960.63 837.22 961.56C839.44 962.48 841.85 964.33 843.89 964.89C845.93 965.44 847.78 965.63 849.44 964.89C851.11 964.15 852.41 962.85 853.89 960.44C855.37 958.04 856.85 953.96 858.33 950.44C859.81 946.93 861.3 942.67 862.78 939.33C864.26 936 865.74 933.22 867.22 930.44C868.7 927.67 870 925.07 871.67 922.67C873.33 920.26 875.56 917.48 877.22 916C878.89 914.52 880.37 914.06 881.67 913.78C882.96 913.5 883.7 913.22 885 914.33C886.3 915.44 887.96 918.13 889.44 920.44C890.93 922.76 892.41 926 893.89 928.22C895.37 930.44 896.85 932.39 898.33 933.78C899.81 935.17 901.3 936 902.78 936.56C904.26 937.11 905.74 936.65 907.22 937.11C908.7 937.57 910.19 938.22 911.67 939.33C913.15 940.44 914.63 942.3 916.11 943.78C917.59 945.26 919.07 947.3 920.56 948.22C922.04 949.15 923.52 949.24 925 949.33C926.48 949.43 927.96 949.15 929.44 948.78C930.93 948.41 932.41 947.48 933.89 947.11C935.37 946.74 936.85 946.19 938.33 946.56C939.81 946.93 941.3 947.76 942.78 949.33C944.26 950.91 945.74 953.59 947.22 956C948.7 958.41 950.19 961.56 951.67 963.78C953.15 966 954.44 967.85 956.11 969.33C957.78 970.81 960.74 972.11 961.67 972.67" fill="none" stroke="#1a73c4" stroke-width="1.85" stroke-linejoin="round" stroke-linecap="round"/>
<path d="M823.33 936C824.17 935.63 826.67 934.33 828.33 933.78C830 933.22 831.85 932.3 833.33 932.67C834.81 933.04 835.83 934.15 837.22 936C838.61 937.85 840.37 942.11 841.67 943.78C842.96 945.44 843.89 946.19 845 946C846.11 945.81 847.22 945.44 848.33 942.67C849.44 939.89 850.56 934.52 851.67 929.33C852.78 924.15 853.89 917.48 855 911.56C856.11 905.63 857.22 898.96 858.33 893.78C859.44 888.59 860.56 883.87 861.67 880.44C862.78 877.02 863.89 874.67 865 873.22C866.11 871.78 867.22 871.69 868.33 871.78C869.44 871.87 870.56 872.33 871.67 873.78C872.78 875.22 873.7 877.48 875 880.44C876.3 883.41 877.96 887.48 879.44 891.56C880.93 895.63 882.41 900.44 883.89 904.89C885.37 909.33 886.85 913.96 888.33 918.22C889.81 922.48 891.3 926.93 892.78 930.44C894.26 933.96 895.74 936.74 897.22 939.33C898.7 941.93 900.19 944.15 901.67 946C903.15 947.85 904.44 949.33 906.11 950.44C907.78 951.56 909.81 952.2 911.67 952.67C913.52 953.13 915.19 953.22 917.22 953.22C919.26 953.22 921.67 952.67 923.89 952.67C926.11 952.67 928.33 952.94 930.56 953.22C932.78 953.5 935 954.06 937.22 954.33C939.44 954.61 941.67 954.89 943.89 954.89C946.11 954.89 948.52 954.61 950.56 954.33C952.59 954.06 954.26 953.69 956.11 953.22C957.96 952.76 960.74 951.83 961.67 951.56" fill="none" stroke="#3bab6c" stroke-width="1.85" stroke-linejoin="round" stroke-linecap="round"/>
<path d="M823.33 939.89C824.35 939.52 827.5 937.2 829.44 937.67C831.39 938.13 833.33 940.35 835 942.67C836.67 944.98 837.96 949.89 839.44 951.56C840.93 953.22 842.41 953.59 843.89 952.67C845.37 951.74 846.85 949.33 848.33 946C849.81 942.67 851.3 937.48 852.78 932.67C854.26 927.85 855.74 921.93 857.22 917.11C858.7 912.3 860.19 907.48 861.67 903.78C863.15 900.07 864.63 896.78 866.11 894.89C867.59 893 869.07 892.63 870.56 892.44C872.04 892.26 873.52 892.63 875 893.78C876.48 894.93 877.96 896.93 879.44 899.33C880.93 901.74 882.41 904.7 883.89 908.22C885.37 911.74 886.85 916.37 888.33 920.44C889.81 924.52 891.3 929.15 892.78 932.67C894.26 936.19 895.74 938.96 897.22 941.56C898.7 944.15 900.19 946.19 901.67 948.22C903.15 950.26 904.44 952.11 906.11 953.78C907.78 955.44 909.81 956.74 911.67 958.22C913.52 959.7 915.37 961.37 917.22 962.67C919.07 963.96 920.93 965.26 922.78 966C924.63 966.74 926.3 967.02 928.33 967.11C930.37 967.2 932.78 966.74 935 966.56C937.22 966.37 939.07 966.19 941.67 966C944.26 965.81 947.22 965.44 950.56 965.44C953.89 965.44 959.81 965.91 961.67 966" fill="none" stroke="#3bab6c" stroke-width="1.85" stroke-linejoin="round" stroke-linecap="round"/>
<path d="M823.33 962.67C824.54 962.39 828.24 961.56 830.56 961C832.87 960.44 835.19 959.43 837.22 959.33C839.26 959.24 840.93 959.8 842.78 960.44C844.63 961.09 846.67 962.85 848.33 963.22C850 963.59 851.3 963.69 852.78 962.67C854.26 961.65 855.74 959.52 857.22 957.11C858.7 954.7 860.19 951.37 861.67 948.22C863.15 945.07 864.63 941.37 866.11 938.22C867.59 935.07 869.07 931.93 870.56 929.33C872.04 926.74 873.52 924.3 875 922.67C876.48 921.04 877.96 920.02 879.44 919.56C880.93 919.09 882.22 919.37 883.89 919.89C885.56 920.41 887.59 921.65 889.44 922.67C891.3 923.69 893.15 924.7 895 926C896.85 927.3 898.7 928.96 900.56 930.44C902.41 931.93 904.26 933.41 906.11 934.89C907.96 936.37 909.81 937.85 911.67 939.33C913.52 940.81 915.37 942.3 917.22 943.78C919.07 945.26 920.93 946.74 922.78 948.22C924.63 949.7 926.48 951.46 928.33 952.67C930.19 953.87 932.04 954.7 933.89 955.44C935.74 956.19 937.59 956.74 939.44 957.11C941.3 957.48 943.15 957.48 945 957.67C946.85 957.85 948.7 957.94 950.56 958.22C952.41 958.5 954.26 958.87 956.11 959.33C957.96 959.8 960.74 960.72 961.67 961" fill="none" stroke="#c4a600" stroke-width="1.85" stroke-linejoin="round" stroke-linecap="round"/>
<path d="M823.33 934.33C824.54 934.24 828.43 933.13 830.56 933.78C832.69 934.43 834.26 936 836.11 938.22C837.96 940.44 840 945.26 841.67 947.11C843.33 948.96 844.63 950.07 846.11 949.33C847.59 948.59 849.07 946.37 850.56 942.67C852.04 938.96 853.52 932.85 855 927.11C856.48 921.37 857.96 914.52 859.44 908.22C860.93 901.93 862.41 894.7 863.89 889.33C865.37 883.96 866.85 879.52 868.33 876C869.81 872.48 871.3 870.17 872.78 868.22C874.26 866.28 875.74 865.2 877.22 864.33C878.7 863.46 880.37 863.15 881.67 863C882.96 862.85 883.7 862.76 885 863.44C886.3 864.13 887.96 865.2 889.44 867.11C890.93 869.02 892.41 872.11 893.89 874.89C895.37 877.67 896.85 880.63 898.33 883.78C899.81 886.93 901.3 890.81 902.78 893.78C904.26 896.74 905.74 899.61 907.22 901.56C908.7 903.5 910.19 904.7 911.67 905.44C913.15 906.19 914.44 906.28 916.11 906C917.78 905.72 919.81 904.37 921.67 903.78C923.52 903.19 925.56 902.35 927.22 902.44C928.89 902.54 930.19 903 931.67 904.33C933.15 905.67 934.63 908.13 936.11 910.44C937.59 912.76 939.07 915.26 940.56 918.22C942.04 921.19 943.52 924.33 945 928.22C946.48 932.11 947.96 937.3 949.44 941.56C950.93 945.81 952.41 950.63 953.89 953.78C955.37 956.93 957.04 959.15 958.33 960.44C959.63 961.74 961.11 961.37 961.67 961.56" fill="none" stroke="#eb1c2d" stroke-width="1.85" stroke-linejoin="round" stroke-linecap="round"/>
<path d="M823.33 944.33C824.54 944.33 828.24 943.87 830.56 944.33C832.87 944.8 835.19 945.91 837.22 947.11C839.26 948.31 840.93 951 842.78 951.56C844.63 952.11 846.67 951.93 848.33 950.44C850 948.96 851.3 946.56 852.78 942.67C854.26 938.78 855.74 932.85 857.22 927.11C858.7 921.37 860.19 914.52 861.67 908.22C863.15 901.93 864.63 894.89 866.11 889.33C867.59 883.78 869.07 878.5 870.56 874.89C872.04 871.28 873.7 869.24 875 867.67C876.3 866.09 877.04 865.63 878.33 865.44C879.63 865.26 881.3 865.54 882.78 866.56C884.26 867.57 885.74 869.61 887.22 871.56C888.7 873.5 890.19 875.63 891.67 878.22C893.15 880.81 894.63 883.78 896.11 887.11C897.59 890.44 899.07 894.52 900.56 898.22C902.04 901.93 903.52 906 905 909.33C906.48 912.67 907.96 915.63 909.44 918.22C910.93 920.81 912.41 922.85 913.89 924.89C915.37 926.93 916.85 928.59 918.33 930.44C919.81 932.3 921.11 933.96 922.78 936C924.44 938.04 926.48 940.63 928.33 942.67C930.19 944.7 932.04 946.56 933.89 948.22C935.74 949.89 937.59 951.19 939.44 952.67C941.3 954.15 943.15 955.81 945 957.11C946.85 958.41 948.7 959.52 950.56 960.44C952.41 961.37 954.26 962.2 956.11 962.67C957.96 963.13 960.74 963.13 961.67 963.22" fill="none" stroke="#eb1c2d" stroke-width="1.85" stroke-linejoin="round" stroke-linecap="round"/>
<path d="M823.33 958.78C824.54 958.59 828.24 958.04 830.56 957.67C832.87 957.3 835 956.93 837.22 956.56C839.44 956.19 841.85 955.91 843.89 955.44C845.93 954.98 847.78 955.17 849.44 953.78C851.11 952.39 852.41 950.26 853.89 947.11C855.37 943.96 856.85 939.7 858.33 934.89C859.81 930.07 861.3 923.96 862.78 918.22C864.26 912.48 865.74 906 867.22 900.44C868.7 894.89 870 888.59 871.67 884.89C873.33 881.19 875.37 880.63 877.22 878.22C879.07 875.81 881.11 872.39 882.78 870.44C884.44 868.5 885.93 867.11 887.22 866.56C888.52 866 889.26 865.72 890.56 867.11C891.85 868.5 893.52 871.74 895 874.89C896.48 878.04 897.96 882.11 899.44 886C900.93 889.89 902.41 894.89 903.89 898.22C905.37 901.56 906.85 904.15 908.33 906C909.81 907.85 911.3 908.04 912.78 909.33C914.26 910.63 915.56 911.93 917.22 913.78C918.89 915.63 920.93 918.41 922.78 920.44C924.63 922.48 926.48 924.52 928.33 926C930.19 927.48 932.04 928.59 933.89 929.33C935.74 930.07 937.59 930.26 939.44 930.44C941.3 930.63 943.15 930.07 945 930.44C946.85 930.81 948.7 931.65 950.56 932.67C952.41 933.69 954.26 935.17 956.11 936.56C957.96 937.94 960.74 940.26 961.67 941" fill="none" stroke="#eb1c2d" stroke-width="1.85" stroke-linejoin="round" stroke-linecap="round"/>
<path d="M823.33 959.89C824.54 959.61 828.24 958.69 830.56 958.22C832.87 957.76 835 957.39 837.22 957.11C839.44 956.83 841.85 956.93 843.89 956.56C845.93 956.19 847.78 956.28 849.44 954.89C851.11 953.5 852.41 950.81 853.89 948.22C855.37 945.63 856.85 942.67 858.33 939.33C859.81 936 861.3 931.93 862.78 928.22C864.26 924.52 865.74 920.07 867.22 917.11C868.7 914.15 870.19 912.3 871.67 910.44C873.15 908.59 874.63 907.2 876.11 906C877.59 904.8 879.07 903.81 880.56 903.22C882.04 902.63 883.52 902.44 885 902.44C886.48 902.44 887.96 902.44 889.44 903.22C890.93 904 892.41 905.35 893.89 907.11C895.37 908.87 896.85 911.19 898.33 913.78C899.81 916.37 901.3 919.89 902.78 922.67C904.26 925.44 905.74 928.04 907.22 930.44C908.7 932.85 910.19 935.07 911.67 937.11C913.15 939.15 914.63 941 916.11 942.67C917.59 944.33 919.07 945.81 920.56 947.11C922.04 948.41 923.33 949.43 925 950.44C926.67 951.46 928.52 952.3 930.56 953.22C932.59 954.15 935 955.17 937.22 956C939.44 956.83 941.67 957.48 943.89 958.22C946.11 958.96 948.52 959.8 950.56 960.44C952.59 961.09 954.26 961.74 956.11 962.11C957.96 962.48 960.74 962.57 961.67 962.67" fill="none" stroke="#eb1c2d" stroke-width="1.85" stroke-linejoin="round" stroke-linecap="round"/>
<path d="M823.33 963.78C824.54 963.5 828.24 962.76 830.56 962.11C832.87 961.46 835 960.54 837.22 959.89C839.44 959.24 841.85 958.69 843.89 958.22C845.93 957.76 847.78 958.04 849.44 957.11C851.11 956.19 852.41 955.07 853.89 952.67C855.37 950.26 856.85 946.37 858.33 942.67C859.81 938.96 861.3 934.15 862.78 930.44C864.26 926.74 865.74 923.22 867.22 920.44C868.7 917.67 870 915.81 871.67 913.78C873.33 911.74 875.37 909.89 877.22 908.22C879.07 906.56 881.3 904.7 882.78 903.78C884.26 902.85 884.81 902.67 886.11 902.67C887.41 902.67 889.07 902.67 890.56 903.78C892.04 904.89 893.52 906.93 895 909.33C896.48 911.74 897.96 915.07 899.44 918.22C900.93 921.37 902.41 925.07 903.89 928.22C905.37 931.37 906.85 934.33 908.33 937.11C909.81 939.89 911.3 942.48 912.78 944.89C914.26 947.3 915.56 949.52 917.22 951.56C918.89 953.59 920.93 955.44 922.78 957.11C924.63 958.78 926.3 960.07 928.33 961.56C930.37 963.04 932.78 964.8 935 966C937.22 967.2 939.44 968 941.67 968.78C943.89 969.56 946.11 970.2 948.33 970.67C950.56 971.13 952.78 971.5 955 971.56C957.22 971.61 960.56 971.09 961.67 971" fill="none" stroke="#eb1c2d" stroke-width="1.85" stroke-linejoin="round" stroke-linecap="round"/>
<text transform="translate(894.5 822.2) scale(1.06 1)" font-size="13.54" text-anchor="middle" letter-spacing="0.4" stroke="#111" stroke-width="0.3">18</text>
<text transform="translate(894.5 839.2) scale(1.06 1)" font-size="13.54" text-anchor="middle" stroke="#111" stroke-width="0.3">Rice-spiker</text>
<path d="M1032 842.8h12.7" stroke="#c2379b" stroke-width="2"/>
<text transform="translate(1051.2 847) scale(1.06 1)" font-size="11.84" stroke="#111" stroke-width="0.3">Beans</text>
<path d="M1032 858.8h12.7" stroke="#2e3da0" stroke-width="2"/>
<text transform="translate(1051.2 863) scale(1.06 1)" font-size="11.84" stroke="#111" stroke-width="0.3">Mixed berries</text>
<path d="M1032 873.7h12.7" stroke="#1a73c4" stroke-width="2"/>
<text transform="translate(1051.2 877.9) scale(1.06 1)" font-size="11.84" stroke="#111" stroke-width="0.3">Bread</text>
<path d="M1032 889.3h12.7" stroke="#3bab6c" stroke-width="2"/>
<text transform="translate(1051.2 893.5) scale(1.06 1)" font-size="11.84" stroke="#111" stroke-width="0.3">Grapes</text>
<path d="M1032 905.8h12.7" stroke="#747474" stroke-width="2"/>
<text transform="translate(1051.2 910) scale(1.06 1)" font-size="11.84" stroke="#111" stroke-width="0.3">Pasta</text>
<path d="M1032 921.3h12.7" stroke="#c4a600" stroke-width="2"/>
<text transform="translate(1051.2 925.5) scale(1.06 1)" font-size="11.84" stroke="#111" stroke-width="0.3">Potatoes</text>
<path d="M1032 937h12.7" stroke="#eb1c2d" stroke-width="2"/>
<text transform="translate(1051.2 941.2) scale(1.06 1)" font-size="11.84" stroke="#111" stroke-width="0.3">Rice</text>
<text transform="translate(59.2 1058.3)" font-size="19" font-weight="bold" fill="#000" stroke="#000" stroke-width="0.8">c</text>
<path d="M113.6 1071.7V1299.7M106.6 1299.7H269.2" fill="none" stroke="#6a6a6a" stroke-width="1.1"/>
<path d="M113.6 1209.1h-7M113.6 1118.5h-7" stroke="#6a6a6a" stroke-width="1.1"/>
<text transform="translate(100.1 1304.3) scale(1.06 1)" font-size="12.22" text-anchor="end" stroke="#111" stroke-width="0.3">0</text>
<text transform="translate(100.1 1213.7) scale(1.06 1)" font-size="12.22" text-anchor="end" stroke="#111" stroke-width="0.3">10</text>
<text transform="translate(100.1 1123.1) scale(1.06 1)" font-size="12.22" text-anchor="end" stroke="#111" stroke-width="0.3">20</text>
<text transform="translate(125.9 1307.7) rotate(-90) scale(1.06 1)" font-size="11.56" text-anchor="end" stroke="#111" stroke-width="0.3">Beans</text>
<text transform="translate(148.51 1307.7) rotate(-90) scale(1.06 1)" font-size="11.56" text-anchor="end" stroke="#111" stroke-width="0.3">Mixed berries</text>
<rect x="162.45" y="1181.92" width="13.5" height="117.78" fill="#006cb2"/>
<text transform="translate(171.12 1307.7) rotate(-90) scale(1.06 1)" font-size="11.56" text-anchor="end" stroke="#111" stroke-width="0.3">Bread</text>
<rect x="184.65" y="1190.98" width="13.5" height="108.72" fill="#006cb2"/>
<text transform="translate(193.73 1307.7) rotate(-90) scale(1.06 1)" font-size="11.56" text-anchor="end" stroke="#111" stroke-width="0.3">Grapes</text>
<rect x="206.85" y="1272.52" width="13.5" height="27.18" fill="#006cb2"/>
<text transform="translate(216.34 1307.7) rotate(-90) scale(1.06 1)" font-size="11.56" text-anchor="end" stroke="#111" stroke-width="0.3">Pasta</text>
<rect x="229.05" y="1227.22" width="13.5" height="72.48" fill="#006cb2"/>
<text transform="translate(238.95 1307.7) rotate(-90) scale(1.06 1)" font-size="11.56" text-anchor="end" stroke="#111" stroke-width="0.3">Potatoes</text>
<rect x="251.25" y="1127.56" width="13.5" height="172.14" fill="#006cb2"/>
<text transform="translate(261.56 1307.7) rotate(-90) scale(1.06 1)" font-size="11.56" text-anchor="end" stroke="#111" stroke-width="0.3">Rice</text>
<text transform="translate(191.3 1081.5) scale(1.06 1)" font-size="13.82" text-anchor="middle" stroke="#111" stroke-width="0.3">Delta glucose based</text>
<text transform="translate(76.1 1185.5) rotate(-90) scale(1.06 1)" font-size="14.29" text-anchor="middle" stroke="#111" stroke-width="0.3">Number of participants</text>
<path d="M312.8 1078.6V1301.4M305.8 1301.4H475.6" fill="none" stroke="#6a6a6a" stroke-width="1.1"/>
<path d="M312.8 1213h-7M312.8 1124.6h-7" stroke="#6a6a6a" stroke-width="1.1"/>
<text transform="translate(301.3 1306) scale(1.06 1)" font-size="12.22" text-anchor="end" stroke="#111" stroke-width="0.3">0</text>
<text transform="translate(301.3 1217.6) scale(1.06 1)" font-size="12.22" text-anchor="end" stroke="#111" stroke-width="0.3">10</text>
<text transform="translate(301.3 1129.2) scale(1.06 1)" font-size="12.22" text-anchor="end" stroke="#111" stroke-width="0.3">20</text>
<text transform="translate(330.2 1309.4) rotate(-90) scale(1.06 1)" font-size="11.56" text-anchor="end" stroke="#111" stroke-width="0.3">Beans</text>
<text transform="translate(353.8 1309.4) rotate(-90) scale(1.06 1)" font-size="11.56" text-anchor="end" stroke="#111" stroke-width="0.3">Mixed berries</text>
<rect x="364.1" y="1168.8" width="14" height="132.6" fill="#006cb2"/>
<text transform="translate(377.4 1309.4) rotate(-90) scale(1.06 1)" font-size="11.56" text-anchor="end" stroke="#111" stroke-width="0.3">Bread</text>
<rect x="387.4" y="1266.04" width="14" height="35.36" fill="#006cb2"/>
<text transform="translate(401 1309.4) rotate(-90) scale(1.06 1)" font-size="11.56" text-anchor="end" stroke="#111" stroke-width="0.3">Grapes</text>
<rect x="410.7" y="1274.88" width="14" height="26.52" fill="#006cb2"/>
<text transform="translate(424.6 1309.4) rotate(-90) scale(1.06 1)" font-size="11.56" text-anchor="end" stroke="#111" stroke-width="0.3">Pasta</text>
<rect x="434" y="1221.84" width="14" height="79.56" fill="#006cb2"/>
<text transform="translate(448.2 1309.4) rotate(-90) scale(1.06 1)" font-size="11.56" text-anchor="end" stroke="#111" stroke-width="0.3">Potatoes</text>
<rect x="457.3" y="1089.24" width="14" height="212.16" fill="#006cb2"/>
<text transform="translate(471.8 1309.4) rotate(-90) scale(1.06 1)" font-size="11.56" text-anchor="end" stroke="#111" stroke-width="0.3">Rice</text>
<text transform="translate(394.2 1081.5) scale(1.06 1)" font-size="13.44" text-anchor="middle" stroke="#111" stroke-width="0.3">AUC (&gt;baseline) based</text>
<text transform="translate(491.5 1058.9)" font-size="19" font-weight="bold" fill="#000" stroke="#000" stroke-width="0.8">d</text>
<path d="M543.6 1066V1314.7M536.6 1314.7H741" fill="none" stroke="#6a6a6a" stroke-width="1.1"/>
<path d="M543.6 1238.3h-7M543.6 1161.9h-7M543.6 1085.5h-7" stroke="#6a6a6a" stroke-width="1.1"/>
<text transform="translate(530.1 1319.3) scale(1.06 1)" font-size="12.22" text-anchor="end" stroke="#111" stroke-width="0.3">0</text>
<text transform="translate(530.1 1242.9) scale(1.06 1)" font-size="12.22" text-anchor="end" stroke="#111" stroke-width="0.3">10</text>
<text transform="translate(530.1 1166.5) scale(1.06 1)" font-size="12.22" text-anchor="end" stroke="#111" stroke-width="0.3">20</text>
<text transform="translate(530.1 1090.1) scale(1.06 1)" font-size="12.22" text-anchor="end" stroke="#111" stroke-width="0.3">30</text>
<rect x="557" y="1276.5" width="40.5" height="38.2" fill="#009b55"/>
<rect x="597.5" y="1253.58" width="40.5" height="61.12" fill="#e52439"/>
<rect x="647" y="1077.86" width="40.5" height="236.84" fill="#009b55"/>
<rect x="687.5" y="1230.66" width="40.5" height="84.04" fill="#e52439"/>
<text transform="translate(597.5 1331.5) scale(1.06 1)" font-size="11.66" text-anchor="middle" stroke="#111" stroke-width="0.3">Asian</text>
<text transform="translate(687.3 1331.5) scale(1.06 1)" font-size="11.47" text-anchor="middle" stroke="#111" stroke-width="0.3">Non−Asian</text>
<text transform="translate(642.5 1352) scale(1.06 1)" font-size="14.29" text-anchor="middle" stroke="#111" stroke-width="0.3">Ethnicity</text>
<text transform="translate(506 1190.3) rotate(-90) scale(1.06 1)" font-size="14.38" text-anchor="middle" stroke="#111" stroke-width="0.3">Number of participants</text>
<rect x="561" y="1365" width="11" height="10.6" fill="#009b55"/>
<rect x="561" y="1383" width="11" height="10.6" fill="#e52439"/>
<text transform="translate(578 1374.6) scale(1.06 1)" font-size="11.75" stroke="#111" stroke-width="0.3">Non-rice-spiker</text>
<text transform="translate(578 1392.8) scale(1.06 1)" font-size="11.75" stroke="#111" stroke-width="0.3">Rice-spiker</text>
<text transform="translate(769.9 1058.7)" font-size="19" font-weight="bold" fill="#000" stroke="#000" stroke-width="0.8">e</text>
<text transform="translate(876.5 1096) scale(1.06 1)" font-size="13.16" text-anchor="middle" stroke="#111" stroke-width="0.3">59</text>
<text transform="translate(876.5 1113) scale(1.06 1)" font-size="13.16" text-anchor="middle" stroke="#111" stroke-width="0.3"><tspan fill="#1ea25f" stroke="#1ea25f">IS</tspan>, <tspan fill="#2ba3dc" stroke="#2ba3dc">DI = 3.0</tspan>, HbA1c5.4%</text>
<circle cx="876.5" cy="1212.3" r="18.02" fill="none" stroke="#d4d4d4" stroke-width="0.8"/>
<circle cx="876.5" cy="1212.3" r="36.05" fill="none" stroke="#d4d4d4" stroke-width="0.8"/>
<circle cx="876.5" cy="1212.3" r="54.07" fill="none" stroke="#d4d4d4" stroke-width="0.8"/>
<path d="M876.5 1212.3L948.6 1212.3M876.5 1212.3L921.45 1155.93M876.5 1212.3L860.46 1142.01M876.5 1212.3L811.54 1181.02M876.5 1212.3L811.54 1243.58M876.5 1212.3L860.46 1282.59M876.5 1212.3L921.45 1268.67" stroke="#d4d4d4" stroke-width="0.8" fill="none"/>
<polygon points="947.16,1212.3 888.19,1197.64 863.5,1155.36 852.46,1200.73 836.22,1231.7 870.4,1239.01 900.77,1242.74" fill="#9ecae1" fill-opacity="0.62" stroke="#3d9bd6" stroke-width="1"/>
<circle cx="876.5" cy="1212.3" r="72.1" fill="none" stroke="#555" stroke-width="0.9"/>
<text transform="translate(950.5 1216.3) scale(1.06 1)" font-size="11.75" stroke="#111" stroke-width="0.3">Rice</text>
<text transform="translate(931.5 1143.5) scale(1.06 1)" font-size="11.75" text-anchor="middle" stroke="#111" stroke-width="0.3">Potatoes</text>
<text transform="translate(857.7 1136.5) scale(1.06 1)" font-size="11.75" text-anchor="middle" stroke="#111" stroke-width="0.3">Bread</text>
<text transform="translate(793 1179) scale(1.06 1)" font-size="11.75" text-anchor="middle" stroke="#111" stroke-width="0.3">Pasta</text>
<text transform="translate(790.3 1254) scale(1.06 1)" font-size="11.75" text-anchor="middle" stroke="#111" stroke-width="0.3">Grapes</text>
<text transform="translate(844.8 1297.5) scale(1.06 1)" font-size="11.75" text-anchor="middle" stroke="#111" stroke-width="0.3">Mixed</text>
<text transform="translate(844.8 1312) scale(1.06 1)" font-size="11.75" text-anchor="middle" stroke="#111" stroke-width="0.3">berries</text>
<text transform="translate(940.3 1281.5) scale(1.06 1)" font-size="11.75" text-anchor="middle" stroke="#111" stroke-width="0.3">Beans</text>
<text transform="translate(1092 1096) scale(1.06 1)" font-size="13.16" text-anchor="middle" stroke="#111" stroke-width="0.3">87</text>
<text transform="translate(1092 1113) scale(1.06 1)" font-size="13.16" text-anchor="middle" stroke="#111" stroke-width="0.3"><tspan fill="#e0245e" stroke="#e0245e">IR</tspan>, <tspan fill="#2ba3dc" stroke="#2ba3dc">DI = 1.0</tspan>, HbA1c 6.0%</text>
<circle cx="1090" cy="1213" r="18.02" fill="none" stroke="#d4d4d4" stroke-width="0.8"/>
<circle cx="1090" cy="1213" r="36.05" fill="none" stroke="#d4d4d4" stroke-width="0.8"/>
<circle cx="1090" cy="1213" r="54.07" fill="none" stroke="#d4d4d4" stroke-width="0.8"/>
<path d="M1090 1213L1162.1 1213M1090 1213L1134.95 1156.63M1090 1213L1073.96 1142.71M1090 1213L1025.04 1181.72M1090 1213L1025.04 1244.28M1090 1213L1073.96 1283.29M1090 1213L1134.95 1269.37" stroke="#d4d4d4" stroke-width="0.8" fill="none"/>
<polygon points="1155.61,1213 1134.5,1157.19 1077.97,1160.28 1043.23,1190.48 1057.52,1228.64 1084.06,1239.01 1110,1238.08" fill="#9ecae1" fill-opacity="0.62" stroke="#3d9bd6" stroke-width="1"/>
<circle cx="1090" cy="1213" r="72.1" fill="none" stroke="#555" stroke-width="0.9"/>
<text transform="translate(1164.5 1217.5) scale(1.06 1)" font-size="11.75" stroke="#111" stroke-width="0.3">Rice</text>
<text transform="translate(1157 1150.5) scale(1.06 1)" font-size="11.75" text-anchor="middle" stroke="#111" stroke-width="0.3">Potatoes</text>
<text transform="translate(1070 1136.5) scale(1.06 1)" font-size="11.75" text-anchor="middle" stroke="#111" stroke-width="0.3">Bread</text>
<text transform="translate(1007 1179.7) scale(1.06 1)" font-size="11.75" text-anchor="middle" stroke="#111" stroke-width="0.3">Pasta</text>
<text transform="translate(1005.3 1256.8) scale(1.06 1)" font-size="11.75" text-anchor="middle" stroke="#111" stroke-width="0.3">Grapes</text>
<text transform="translate(1055.5 1297.5) scale(1.06 1)" font-size="11.75" text-anchor="middle" stroke="#111" stroke-width="0.3">Mixed</text>
<text transform="translate(1055.5 1312) scale(1.06 1)" font-size="11.75" text-anchor="middle" stroke="#111" stroke-width="0.3">berries</text>
<text transform="translate(1150.5 1285) scale(1.06 1)" font-size="11.75" text-anchor="middle" stroke="#111" stroke-width="0.3">Beans</text>
</g>
<g id="figR">
<text transform="translate(1236.9 575.9)" font-size="19" font-weight="bold" fill="#000" stroke="#000" stroke-width="0.8">a</text>
<path d="M1338.9 603.2C1335 609 1327.8 612.5 1327.8 618.2A11 9 0 0 0 1349.8 618.2C1349.8 612.5 1342.8 609 1338.9 603.2Z" fill="#cf3322"/>
<path d="M1334.6 613.2C1332.6 615.8 1331.8 618.6 1332.5 620.8C1333.5 622.4 1335.4 622 1335.6 619.8C1335.8 617.6 1335.4 615 1334.6 613.2Z" fill="#fff"/>
<path d="M1338.9 633.5V642.6" fill="none" stroke="#2f4666" stroke-width="1.7"/><path d="M1335.3 639L1338.9 640.8L1342.5 639L1338.9 646.2Z" fill="#2f4666"/>
<rect x="1262.3" y="653.8" width="153.5" height="143" fill="#fff" stroke="#111" stroke-width="1.6"/>
<polygon points="1284.05,674.1 1279.2,676.9 1274.35,674.1 1274.35,668.5 1279.2,665.7 1284.05,668.5" fill="#f2a640"/>
<path d="M1277.6 675L1275 691.8M1280.8 675L1282.8 691.8" stroke="#f2a640" stroke-width="1.5" fill="none" stroke-linecap="round"/>
<polygon points="1295.45,674.1 1290.6,676.9 1285.75,674.1 1285.75,668.5 1290.6,665.7 1295.45,668.5" fill="#f2a640"/>
<path d="M1289 675L1286.4 691.8M1292.2 675L1294.2 691.8" stroke="#f2a640" stroke-width="1.5" fill="none" stroke-linecap="round"/>
<text transform="translate(1309.3 684.3) scale(1.08 1)" font-size="13" stroke="#111" stroke-width="0.3">Lipidomics</text>
<path d="M1285.8 706.89L1293.62 710.84L1293.62 718.76L1285.8 722.71L1277.98 718.76L1277.98 710.84Z" fill="none" stroke="#333" stroke-width="0.9"/>
<path d="M1285.8 706.89L1285.8 703.56" stroke="#666" stroke-width="0.8"/>
<path d="M1293.62 710.84L1296.9 709.18" stroke="#666" stroke-width="0.8"/>
<path d="M1293.62 718.76L1296.9 720.42" stroke="#666" stroke-width="0.8"/>
<path d="M1277.98 718.76L1274.7 720.42" stroke="#666" stroke-width="0.8"/>
<path d="M1277.98 710.84L1274.7 709.18" stroke="#666" stroke-width="0.8"/>
<circle cx="1285.8" cy="706.89" r="2.3" fill="#8094cd"/>
<circle cx="1293.62" cy="710.84" r="2.3" fill="#8094cd"/>
<circle cx="1293.62" cy="718.76" r="2.3" fill="#8094cd"/>
<circle cx="1277.98" cy="718.76" r="2.3" fill="#8094cd"/>
<circle cx="1277.98" cy="710.84" r="2.3" fill="#8094cd"/>
<path d="M1284.2 721.3v3.4M1287.6 721.3v3.4M1284.2 723h3.4" stroke="#111" stroke-width="1.1"/>
<text transform="translate(1309.3 718) scale(1.08 1)" font-size="13" stroke="#111" stroke-width="0.3">Metabolomics</text>
<ellipse cx="1278" cy="735.5" rx="2.9" ry="2.2" fill="#7fbfe6"/>
<ellipse cx="1289.5" cy="734.8" rx="2.9" ry="2.2" fill="#4aa3dc"/>
<ellipse cx="1296" cy="737" rx="2.9" ry="2.2" fill="#b9dcf0"/>
<ellipse cx="1278.5" cy="742" rx="2.9" ry="2.2" fill="#3d9bd6"/>
<ellipse cx="1286.5" cy="741" rx="2.9" ry="2.2" fill="#1e86cf"/>
<ellipse cx="1294.6" cy="741.8" rx="2.9" ry="2.2" fill="#8cc8ea"/>
<ellipse cx="1281.5" cy="747.8" rx="2.9" ry="2.2" fill="#8cc8ea"/>
<ellipse cx="1289.5" cy="747.6" rx="2.9" ry="2.2" fill="#4aa3dc"/>
<text transform="translate(1309.3 747.1) scale(1.08 1)" font-size="13" stroke="#111" stroke-width="0.3">Proteomics</text>
<rect x="1275.6" y="766.2" width="15.4" height="17" rx="1" fill="#eaf3f9" stroke="#1f7cb8" stroke-width="1.5"/>
<rect x="1280" y="764" width="6.6" height="3.2" rx="0.8" fill="#1f7cb8"/>
<path d="M1278 771h10.5M1278 774h10.5M1278 777h10.5M1278 780h10.5" stroke="#1f7cb8" stroke-width="0.8"/>
<path d="M1295.8 766V780.5L1295.8 783" stroke="#1f7cb8" stroke-width="2" stroke-linecap="round"/>
<text transform="translate(1309.3 779.5) scale(1.08 1)" font-size="13" stroke="#111" stroke-width="0.3">Clinical test</text>
<path d="M1325.6 835V857.5Q1339.3 862.5 1353.4 857.5V835Z" fill="#dfe6ea" stroke="#c9d2d7" stroke-width="0.6"/>
<path d="M1329 856.8C1331 852 1336 849.5 1340.8 846.2C1344 848.5 1349 850 1352.4 853.4C1348 856 1340 858.8 1333.5 857.4Z" fill="#9a6b59"/>
<path d="M1323.2 827.2Q1339.3 822.4 1355.4 827.2V835.6Q1339.3 838.8 1323.2 835.6Z" fill="#e23039"/>
<path d="M1339 868.3V876.8" fill="none" stroke="#2f4666" stroke-width="1.7"/><path d="M1335.4 873.2L1339 875L1342.6 873.2L1339 880.4Z" fill="#2f4666"/>
<rect x="1262.3" y="887.9" width="153.8" height="46" fill="#fff" stroke="#111" stroke-width="1.6"/>
<circle cx="1281.2" cy="905.2" r="2.7" fill="#e891a3"/>
<path d="M1289.5 903.2Q1295.5 901 1297 908.5" stroke="#b42a47" stroke-width="3" fill="none" stroke-linecap="round"/>
<path d="M1287.5 912.2L1296 913.4" stroke="#e2543f" stroke-width="2.6" stroke-linecap="round"/>
<path d="M1277.5 911.6q2-1 4 0t4 0M1297 913.6q2-1 3 0t3 0M1298.5 909.2q2-1.5 3.5 1t4-0.5q1.5-3 3.5-2.8" stroke="#d8909c" stroke-width="0.7" fill="none"/>
<circle cx="1283.5" cy="919" r="3.1" fill="#d33e4b"/>
<ellipse cx="1295.6" cy="919.4" rx="3.4" ry="2" fill="#c12f4e" transform="rotate(-20 1295.6 919.4)"/>
<text transform="translate(1326.8 916.8) scale(1.08 1)" font-size="13" stroke="#111" stroke-width="0.3">Microbiome</text>
<path transform="translate(1510.8 643.7)" d="M0.0 0.0L5.0 0.6L9.1 2.2L12.5 4.9L15.0 8.5L16.6 13.0L17.2 18.2L17.9 19.1L18.3 20.7L18.3 22.7L18.0 24.6L17.3 26.2L16.3 27.2L15.6 29.6L14.8 31.8L13.8 33.8L12.5 35.5L11.1 37.0L9.4 38.3L9.4 45.6L12.7 48.0L17.4 49.9L23.0 51.5L29.0 53.0L34.9 54.7L40.1 56.9L42.8 58.9L44.8 61.4L46.3 64.4L47.4 67.8L48.0 71.5L48.4 75.6L49.2 87.2L50.1 99.4L51.0 111.7L51.9 123.8L52.7 135.1L53.4 145.2L53.6 149.6L53.7 153.3L53.8 156.4L53.9 159.1L53.8 161.5L53.6 163.6L52.8 166.3L51.6 168.5L50.2 170.4L48.5 172.0L46.8 173.4L45.1 174.5L44.6 172.4L44.1 170.5L43.6 168.7L43.0 167.1L42.3 165.6L41.6 164.1L40.6 154.1L39.2 143.3L37.4 131.9L35.3 120.4L33.0 109.0L30.7 98.0L30.2 95.9L29.8 93.9L29.5 92.1L29.2 90.4L29.0 88.9L28.8 87.6L28.9 92.7L29.2 97.6L29.5 102.1L29.7 106.1L29.8 109.7L29.8 112.6L30.8 119.5L31.7 126.6L32.4 133.8L33.0 141.2L33.4 149.0L33.5 157.0L33.4 165.2L33.1 173.1L32.6 180.8L31.9 188.2L31.0 195.2L30.0 201.9L28.7 206.3L27.3 210.0L26.0 213.2L24.9 216.0L24.1 218.7L23.9 221.3L24.3 226.1L24.4 231.7L24.1 237.7L23.6 243.9L22.6 250.1L21.3 256.2L20.4 258.6L19.7 260.9L19.2 263.2L18.9 265.3L18.8 267.3L18.9 269.2L20.6 271.5L22.0 273.5L23.2 275.3L24.1 276.9L24.5 278.3L24.6 279.4L21.3 279.9L17.4 280.3L13.2 280.5L9.1 280.4L5.5 280.2L2.8 279.8L2.6 276.3L2.8 272.8L3.1 269.5L3.5 266.4L3.7 263.5L3.5 260.9L3.2 254.8L2.8 248.4L2.6 241.7L2.4 234.9L2.5 227.9L2.8 220.8L3.0 207.0L2.8 193.9L2.5 181.5L1.9 169.7L1.1 158.4L0.0 147.6L-1.1 158.4L-1.9 169.7L-2.5 181.5L-2.8 193.9L-3.0 207.0L-2.8 220.8L-2.5 227.9L-2.4 234.9L-2.6 241.7L-2.8 248.4L-3.2 254.8L-3.5 260.9L-3.7 263.5L-3.5 266.4L-3.1 269.5L-2.8 272.8L-2.6 276.3L-2.8 279.8L-5.5 280.2L-9.1 280.4L-13.2 280.5L-17.4 280.3L-21.3 279.9L-24.6 279.4L-24.5 278.3L-24.1 276.9L-23.2 275.3L-22.0 273.5L-20.6 271.5L-18.9 269.2L-18.8 267.3L-18.9 265.3L-19.2 263.2L-19.7 260.9L-20.4 258.6L-21.3 256.2L-22.6 250.1L-23.6 243.9L-24.1 237.7L-24.4 231.7L-24.3 226.1L-23.9 221.3L-24.1 218.7L-24.9 216.0L-26.0 213.2L-27.3 210.0L-28.7 206.3L-30.0 201.9L-31.0 195.2L-31.9 188.2L-32.6 180.8L-33.1 173.1L-33.4 165.2L-33.5 157.0L-33.4 149.0L-33.0 141.2L-32.4 133.8L-31.7 126.6L-30.8 119.5L-29.8 112.6L-29.8 109.7L-29.7 106.1L-29.5 102.1L-29.2 97.6L-28.9 92.7L-28.8 87.6L-29.0 88.9L-29.2 90.4L-29.5 92.1L-29.8 93.9L-30.2 95.9L-30.7 98.0L-33.0 109.0L-35.3 120.4L-37.4 131.9L-39.2 143.3L-40.6 154.1L-41.6 164.1L-42.3 165.6L-43.0 167.1L-43.6 168.7L-44.1 170.5L-44.6 172.4L-45.1 174.5L-46.8 173.4L-48.5 172.0L-50.2 170.4L-51.6 168.5L-52.8 166.3L-53.6 163.6L-53.8 161.5L-53.9 159.1L-53.8 156.4L-53.7 153.3L-53.6 149.6L-53.4 145.2L-52.7 135.1L-51.9 123.8L-51.0 111.7L-50.1 99.4L-49.2 87.2L-48.4 75.6L-48.0 71.5L-47.4 67.8L-46.3 64.4L-44.8 61.4L-42.8 58.9L-40.1 56.9L-34.9 54.7L-29.0 53.0L-23.0 51.5L-17.4 49.9L-12.7 48.0L-9.4 45.6L-9.4 38.3L-11.1 37.0L-12.5 35.5L-13.8 33.8L-14.8 31.8L-15.6 29.6L-16.3 27.2L-17.3 26.2L-18.0 24.6L-18.3 22.7L-18.3 20.7L-17.9 19.1L-17.2 18.2L-16.6 13.0L-15.0 8.5L-12.5 4.9L-9.1 2.2L-5.0 0.6Z" fill="#d3d4d6" stroke="#b9babc" stroke-width="0.7"/>
<text transform="translate(1488.2 629.5) scale(1.08 1)" font-size="14" stroke="#111" stroke-width="0.3"><tspan font-style="italic">N</tspan> = 55</text>
<rect x="1519" y="767.4" width="19" height="9.2" rx="4" fill="#e9e9ea" stroke="#b4b4b6" stroke-width="0.8"/>
<path d="M1532.6 765.5V680.3H1606" fill="none" stroke="#2f4666" stroke-width="1.8"/>
<path d="M1600.5 676.2L1608.6 680.3L1600.5 684.4L1602.3 680.3Z" fill="#2f4666"/>
<text transform="translate(1560.3 670.8) scale(1.08 1)" font-size="14" stroke="#111" stroke-width="0.3">CGM</text>
<rect x="1618.4" y="578" width="459.6" height="170.4" fill="#fff" stroke="#111" stroke-width="1.5"/>
<text transform="translate(1870.8 594.2) scale(1.08 1)" font-size="15.3" text-anchor="middle" stroke="#111" stroke-width="0.3">Example of glucose levels and meals consumed</text>
<rect x="1808.2" y="640" width="65.2" height="107.6" fill="#e4e4e4"/>
<path d="M1679.1 642V717.2H2063.3" fill="none" stroke="#555" stroke-width="0.9"/>
<path d="M1743.9 717.2v-3.5M1808.2 717.2v-3.5M1871.9 717.2v-3.5M1935.9 717.2v-3.5M2000.8 717.2v-3.5M1679.1 664.5h-4.5M1679.1 679.9h-4.5M1679.1 695.4h-4.5" stroke="#555" stroke-width="0.9"/>
<text transform="translate(1679.1 733.5) scale(1.08 1)" font-size="13.3" text-anchor="middle" letter-spacing="0.3" stroke="#111" stroke-width="0.3">0:00</text>
<text transform="translate(1743.9 733.5) scale(1.08 1)" font-size="13.3" text-anchor="middle" letter-spacing="0.3" stroke="#111" stroke-width="0.3">4:00</text>
<text transform="translate(1808.2 733.5) scale(1.08 1)" font-size="13.3" text-anchor="middle" letter-spacing="0.3" stroke="#111" stroke-width="0.3">8:00</text>
<text transform="translate(1871.9 733.5) scale(1.08 1)" font-size="13.3" text-anchor="middle" letter-spacing="0.3" stroke="#111" stroke-width="0.3">12:00</text>
<text transform="translate(1935.9 733.5) scale(1.08 1)" font-size="13.3" text-anchor="middle" letter-spacing="0.3" stroke="#111" stroke-width="0.3">16:00</text>
<text transform="translate(2000.8 733.5) scale(1.08 1)" font-size="13.3" text-anchor="middle" letter-spacing="0.3" stroke="#111" stroke-width="0.3">20:00</text>
<text transform="translate(1669.5 669.3) scale(1.08 1)" font-size="13.3" text-anchor="end" letter-spacing="0.7" stroke="#111" stroke-width="0.3">200</text>
<text transform="translate(1669.5 684.7) scale(1.08 1)" font-size="13.3" text-anchor="end" letter-spacing="0.7" stroke="#111" stroke-width="0.3">150</text>
<text transform="translate(1669.5 700.2) scale(1.08 1)" font-size="13.3" text-anchor="end" letter-spacing="0.7" stroke="#111" stroke-width="0.3">100</text>
<text transform="translate(1841.5 744.5) scale(1.08 1)" font-size="15.5" text-anchor="middle" stroke="#111" stroke-width="0.3">Time</text>
<text transform="translate(1637 679) rotate(-90) scale(1.08 1)" font-size="15.2" text-anchor="middle" stroke="#111" stroke-width="0.3">Glucose (mg dl⁻¹)</text>
<path d="M1683.59 683.63C1683.98 684.25 1684.9 686.33 1685.94 687.34C1686.98 688.35 1688.22 689.23 1689.84 689.69C1691.47 690.14 1693.42 690.34 1695.7 690.08C1697.98 689.82 1700.91 688.68 1703.52 688.12C1706.12 687.57 1708.72 686.79 1711.33 686.76C1713.93 686.73 1716.21 687.18 1719.14 687.93C1722.07 688.68 1725.33 690.05 1728.91 691.25C1732.49 692.45 1736.72 694.18 1740.62 695.16C1744.53 696.13 1748.76 696.85 1752.34 697.11C1755.92 697.37 1758.2 697.17 1762.11 696.72C1766.02 696.26 1771.55 695.12 1775.78 694.38C1780.01 693.63 1783.92 692.75 1787.5 692.23C1791.08 691.71 1794.34 691.38 1797.27 691.25C1800.2 691.12 1803.78 691.41 1805.08 691.45" fill="none" stroke="#0a0a0a" stroke-width="3.7" stroke-linecap="round" stroke-linejoin="round"/>
<path d="M1876.37 699.65C1876.53 698.18 1876.69 694.28 1877.34 690.86C1877.99 687.44 1878.97 683.05 1880.27 679.14C1881.58 675.23 1883.53 670.68 1885.16 667.42C1886.78 664.17 1888.74 661.24 1890.04 659.61C1891.34 657.98 1892.48 657.98 1892.97 657.66L1892.97 657.66C1893.13 658.63 1893.46 660.91 1893.95 663.52C1894.43 666.12 1894.92 670.03 1895.9 673.28C1896.88 676.54 1898.18 680.44 1899.8 683.05C1901.43 685.65 1903.55 687.44 1905.66 688.91C1907.78 690.37 1910.38 691.02 1912.5 691.84C1914.62 692.65 1917.38 693.46 1918.36 693.79L1918.36 693.79C1918.68 692.98 1919.01 691.02 1920.31 688.91C1921.61 686.79 1923.89 683.37 1926.17 681.09C1928.45 678.82 1931.38 677.02 1933.98 675.23C1936.59 673.44 1940.01 671.39 1941.8 670.35C1943.59 669.31 1944.24 669.21 1944.73 668.98L1944.73 668.98C1945.05 670.03 1945.54 672.57 1946.68 675.23C1947.82 677.9 1949.77 682.07 1951.56 685C1953.35 687.93 1955.14 690.79 1957.42 692.81C1959.7 694.83 1962.3 696.13 1965.23 697.11C1968.16 698.09 1971.42 698.41 1975 698.67C1978.58 698.93 1982.81 698.67 1986.72 698.67C1990.62 698.67 1995.18 698.51 1998.44 698.67C2001.69 698.83 2004.95 699.49 2006.25 699.65L2006.25 699.65C2006.58 699 2007.23 696.23 2008.2 695.74C2009.18 695.25 2010.48 696.65 2012.11 696.72C2013.74 696.78 2015.69 696.78 2017.97 696.13C2020.25 695.48 2023.5 693.69 2025.78 692.81C2028.06 691.93 2029.36 690.86 2031.64 690.86C2033.92 690.86 2036.85 692.36 2039.45 692.81C2042.06 693.27 2044.66 693.69 2047.27 693.59C2049.87 693.5 2052.54 693.01 2055.08 692.23C2057.62 691.45 2061.26 689.46 2062.5 688.91" fill="none" stroke="#0a0a0a" stroke-width="3.7" stroke-linecap="round" stroke-linejoin="round"/>
<path d="M1805.08 692.42C1806.71 692.42 1813.22 692.42 1814.84 692.42L1815.82 692.42C1816.15 691.84 1816.31 692.42 1817.77 688.91C1819.24 685.39 1822.33 676.86 1824.61 671.33C1826.89 665.79 1829.49 660.1 1831.45 655.7C1833.4 651.31 1835.25 646.98 1836.33 644.96C1837.4 642.94 1837.63 643.82 1837.89 643.59L1837.89 643.59C1837.73 644.96 1836.69 649.45 1836.91 651.8C1837.14 654.14 1837.73 655.38 1839.26 657.66C1840.79 659.93 1843.91 663.12 1846.09 665.47C1848.27 667.81 1851.04 671.33 1852.34 671.72C1853.65 672.11 1853.55 667.55 1853.91 667.81C1854.26 668.07 1853.19 670.74 1854.49 673.28C1855.79 675.82 1859.7 680.28 1861.72 683.05C1863.74 685.81 1865.46 687.6 1866.6 689.88C1867.74 692.16 1867.42 695.09 1868.55 696.72C1869.69 698.35 1871.91 699.06 1873.44 699.65C1874.97 700.23 1877.02 700.14 1877.73 700.23" fill="none" stroke="#d7322f" stroke-width="3.7" stroke-linecap="round" stroke-linejoin="round"/>
<path d="M1808.6 642V682.5" stroke="#1a7a4c" stroke-width="1.5" stroke-dasharray="4 2.8" fill="none"/><path d="M1805.7 680.5L1808.6 686.5L1811.5 680.5Z" fill="#1a7a4c"/>
<path d="M1872.8 646V691" stroke="#1a7a4c" stroke-width="1.5" stroke-dasharray="4 2.8" fill="none"/><path d="M1869.9 689L1872.8 695L1875.7 689Z" fill="#1a7a4c"/>
<path d="M1905.3 642V679.5" stroke="#1a7a4c" stroke-width="1.5" stroke-dasharray="4 2.8" fill="none"/><path d="M1902.4 677.5L1905.3 683.5L1908.2 677.5Z" fill="#1a7a4c"/>
<path d="M2015.4 642V691" stroke="#1a7a4c" stroke-width="1.5" stroke-dasharray="4 2.8" fill="none"/><path d="M2012.5 689L2015.4 695L2018.3 689Z" fill="#1a7a4c"/>
<text transform="translate(1808 614.6) scale(1.08 1)" font-size="10.3" text-anchor="middle" stroke="#111" stroke-width="0.3">Standardized carbs</text>
<path d="M1808.4 620.5V626" fill="none" stroke="#2f4666" stroke-width="1"/><path d="M1806.2 624.6L1808.4 625.6L1810.6 624.6L1808.4 629Z" fill="#2f4666"/>
<text transform="translate(1808.4 639.6) scale(1.08 1)" font-size="10.3" text-anchor="middle" stroke="#111" stroke-width="0.3">Rice</text>
<text transform="translate(1871.8 642.6) scale(1.08 1)" font-size="10.3" text-anchor="middle" stroke="#111" stroke-width="0.3">Pizza</text>
<text transform="translate(1905.3 634.9) scale(1.08 1)" font-size="10.3" text-anchor="middle" stroke="#111" stroke-width="0.3">Donuts</text>
<text transform="translate(2015.3 634.9) scale(1.08 1)" font-size="10.3" text-anchor="middle" stroke="#111" stroke-width="0.3">Lamb, cheese, seeds</text>
<path d="M1808.6 739.5V747.2H1874.2V739.5M1841.4 747.2V755.5" fill="none" stroke="#555" stroke-width="0.9"/>
<rect x="1622.4" y="757.3" width="206.8" height="179.2" fill="#f3f0c1" stroke="#222" stroke-width="1.3"/>
<rect x="1632.9" y="767.1" width="187" height="161" fill="#fff" stroke="#111" stroke-width="1.5"/>
<text transform="translate(1726 783.4) scale(1.08 1)" font-size="15" text-anchor="middle" stroke="#111" stroke-width="0.3">Standardized carbs</text>
<circle cx="1661.5" cy="803.5" r="2.3" fill="#fff" stroke="#555" stroke-width="0.7"/>
<circle cx="1666" cy="806" r="2.3" fill="#fff" stroke="#555" stroke-width="0.7"/>
<circle cx="1663" cy="809.5" r="2.3" fill="#fff" stroke="#555" stroke-width="0.7"/>
<circle cx="1668.5" cy="810.5" r="2.3" fill="#fff" stroke="#555" stroke-width="0.7"/>
<circle cx="1659.5" cy="807" r="2.3" fill="#fff" stroke="#555" stroke-width="0.7"/>
<path d="M1659.5 800.5l3 2M1663.5 799.5l1 3" stroke="#555" stroke-width="0.7"/>
<path d="M1674 801C1677 797.5 1686 797.5 1689.5 802C1690.5 808 1685 814 1680.5 814C1675 812.5 1671.5 806 1674 801Z" fill="#fff" stroke="#555" stroke-width="0.8"/>
<path d="M1680.5 798.2l2.2 2.2l2.6-2.2l-0.2 3l3.2 0.4l-2.8 1.8l-5-1.2l-2.4 0.6z" fill="#1e4257"/>
<ellipse cx="1698.3" cy="807.8" rx="5.2" ry="4.6" fill="#ddd" stroke="#555" stroke-width="0.7"/>
<path d="M1695 805.5l6.6 4.6M1695 810l6.6-4.6M1698.3 803.4v8.8M1701.5 803.8l4.5 1.5l-2.5 1.5" stroke="#555" stroke-width="0.5" fill="none"/>
<text transform="translate(1680 826.5) scale(1.08 1)" font-size="12.6" text-anchor="middle" stroke="#111" stroke-width="0.3">Mixed</text>
<text transform="translate(1680 842.5) scale(1.08 1)" font-size="12.6" text-anchor="middle" stroke="#111" stroke-width="0.3">berries</text>
<path d="M1752 796C1746 797 1744.5 804 1748 808.5C1751 812 1757 812.5 1759.5 809.5C1760.5 806 1757 803 1756 800C1755.5 798 1754 796 1752 796Z" fill="#fff" stroke="#555" stroke-width="0.9"/>
<path d="M1764.5 796C1769 795.5 1771.5 800.5 1770 805C1768.5 809.5 1763 812.5 1759.5 810.5C1757.5 808 1760 804.5 1761 802C1761.5 799.5 1762 796.5 1764.5 796Z" fill="#fff" stroke="#555" stroke-width="0.9"/>
<path d="M1751 799.5C1752 803 1755 806 1758 808M1765 799C1764 803 1762 806 1760 808.5" fill="none" stroke="#555" stroke-width="0.7"/>
<text transform="translate(1761.3 824) scale(1.08 1)" font-size="12.6" text-anchor="middle" stroke="#111" stroke-width="0.3">Beans</text>
<ellipse cx="1728.9" cy="849" rx="12.2" ry="5.2" fill="#fff" stroke="#111" stroke-width="1.6"/>
<path d="M1723 844.8v2.4M1729 844.2v2.6M1735 844.8v2.4" stroke="#111" stroke-width="1.2"/>
<text transform="translate(1728.9 869.7) scale(1.08 1)" font-size="12.6" text-anchor="middle" stroke="#111" stroke-width="0.3">Bread</text>
<circle cx="1779" cy="838.5" r="2.7" fill="#fff" stroke="#555" stroke-width="0.8"/>
<circle cx="1784.5" cy="839" r="2.7" fill="#fff" stroke="#555" stroke-width="0.8"/>
<circle cx="1790" cy="841" r="2.7" fill="#fff" stroke="#555" stroke-width="0.8"/>
<circle cx="1795" cy="843" r="2.7" fill="#fff" stroke="#555" stroke-width="0.8"/>
<circle cx="1781" cy="844" r="2.7" fill="#fff" stroke="#555" stroke-width="0.8"/>
<circle cx="1786.5" cy="845" r="2.7" fill="#fff" stroke="#555" stroke-width="0.8"/>
<circle cx="1792" cy="847.5" r="2.7" fill="#fff" stroke="#555" stroke-width="0.8"/>
<circle cx="1780" cy="849.5" r="2.7" fill="#fff" stroke="#555" stroke-width="0.8"/>
<circle cx="1785.5" cy="850.5" r="2.7" fill="#fff" stroke="#555" stroke-width="0.8"/>
<circle cx="1778" cy="853" r="2.7" fill="#fff" stroke="#555" stroke-width="0.8"/>
<path d="M1779.5 835l2.5-1l1 2.5l2-2l1.5 2.5M1791 837.5l2.5-1.5l1 2.5l2.5-1l0.5 3" stroke="#888" stroke-width="1.1" fill="none"/>
<text transform="translate(1783.1 864.9) scale(1.08 1)" font-size="12.6" text-anchor="middle" stroke="#111" stroke-width="0.3">Grapes</text>
<ellipse cx="1665.7" cy="862.6" rx="20.8" ry="5.2" fill="#fff" stroke="#555" stroke-width="0.9"/>
<path d="M1649.5 866.3Q1665.7 875.4 1681.9 866.3" fill="none" stroke="#555" stroke-width="0.9"/>
<ellipse cx="1665.7" cy="862.4" rx="15.4" ry="3.3" fill="#fff" stroke="#555" stroke-width="0.8"/>
<path d="M1652.8 862.6C1654 855 1660 852.4 1667 852.6C1674 852.8 1679 857 1679.6 862.8C1672 866 1660 866 1652.8 862.6Z" fill="#fff" stroke="#555" stroke-width="0.8"/>
<path d="M1655 862.8C1656 857 1661 854.3 1667 853.4" fill="none" stroke="#555" stroke-width="0.75"/>
<path d="M1677.6 863.4C1677.4 858.5 1674 855.4 1669 855" fill="none" stroke="#555" stroke-width="0.75"/>
<path d="M1657.4 862.8C1658.2 856.7 1662.8 854.3 1668.6 853.9" fill="none" stroke="#555" stroke-width="0.75"/>
<path d="M1675.4 863.4C1675.4 858.3 1672.4 855.4 1667.5 855.6" fill="none" stroke="#555" stroke-width="0.75"/>
<path d="M1659.8 862.8C1660.4 856.4 1664.6 854.3 1670.2 854.4" fill="none" stroke="#555" stroke-width="0.75"/>
<path d="M1673.2 863.4C1673.4 858.1 1670.8 855.4 1666 856.2" fill="none" stroke="#555" stroke-width="0.75"/>
<path d="M1662.2 862.8C1662.6 856.1 1666.4 854.3 1671.8 854.9" fill="none" stroke="#555" stroke-width="0.75"/>
<path d="M1671 863.4C1671.4 857.9 1669.2 855.4 1664.5 856.8" fill="none" stroke="#555" stroke-width="0.75"/>
<path d="M1664.6 862.8C1664.8 855.8 1668.2 854.3 1673.4 855.4" fill="none" stroke="#555" stroke-width="0.75"/>
<path d="M1668.8 863.4C1669.4 857.7 1667.6 855.4 1663 857.4" fill="none" stroke="#555" stroke-width="0.75"/>
<text transform="translate(1666.5 883.8) scale(1.08 1)" font-size="12.6" text-anchor="middle" stroke="#111" stroke-width="0.3">Pasta</text>
<ellipse cx="1708.3" cy="894" rx="5.6" ry="6.6" transform="rotate(25 1708.3 894)" fill="#fff" stroke="#111" stroke-width="1.2"/>
<ellipse cx="1700.6" cy="898.6" rx="6.6" ry="7.6" transform="rotate(-35 1700.6 898.6)" fill="#fff" stroke="#111" stroke-width="1.2"/>
<path d="M1697 897.5l1.5-0.6M1702 899l1.2-0.8M1700.5 902.5l1.4-0.6M1709 892l1.6-0.4" stroke="#111" stroke-width="0.9" stroke-linecap="round"/>
<text transform="translate(1702.9 919.8) scale(1.08 1)" font-size="12.6" text-anchor="middle" stroke="#111" stroke-width="0.3">Potatoes</text>
<path d="M1756.3 886.8C1758.88 882.3 1766.58 881.1 1772.74 881.4C1780.44 880.5 1785.68 883.8 1786.1 886.8Z" fill="#fff" stroke="#666" stroke-width="0.8"/>
<path d="M1774.9 882.3L1780.44 876.6M1777.36 882.6L1784.44 877.5" stroke="#888" stroke-width="0.9"/>
<path d="M1755.8 886.8H1786.6V888.75C1786.6 895.05 1780.44 898.5 1777.36 899.1V901.8H1765.04V899.1C1761.96 898.5 1755.8 895.05 1755.8 888.75Z" fill="#fff" stroke="#111" stroke-width="1.7" stroke-linejoin="round"/>
<path d="M1756.8 888.75H1785.6" stroke="#111" stroke-width="1.36"/>
<text transform="translate(1771.5 915.9) scale(1.08 1)" font-size="12.6" text-anchor="middle" stroke="#111" stroke-width="0.3">Rice</text>
<rect x="1851" y="757.3" width="229.4" height="179.2" fill="#d3e7ee" stroke="#222" stroke-width="1.3"/>
<rect x="1863.1" y="766.6" width="127.6" height="158.6" fill="#fff" stroke="#111" stroke-width="1.5"/>
<text transform="translate(1926.5 783.1) scale(1.08 1)" font-size="15" text-anchor="middle" stroke="#111" stroke-width="0.3">Mitigators</text>
<ellipse cx="1888.6" cy="808" rx="8.4" ry="6" transform="rotate(12 1888.6 808)" fill="#fff" stroke="#555" stroke-width="0.9"/>
<ellipse cx="1898.6" cy="805.6" rx="8.2" ry="9.6" transform="rotate(28 1898.6 805.6)" fill="#fff" stroke="#555" stroke-width="0.9"/>
<circle cx="1897.6" cy="807.6" r="5.3" fill="#fff" stroke="#555" stroke-width="0.8"/>
<circle cx="1897.8" cy="807.6" r="3.6" fill="#e6e6e6" stroke="#555" stroke-width="0.6"/>
<text transform="translate(1895.6 831.9) scale(1.08 1)" font-size="12.6" text-anchor="middle" stroke="#111" stroke-width="0.3">Egg</text>
<text transform="translate(1896 847.5) scale(1.08 1)" font-size="12.6" text-anchor="middle" stroke="#111" stroke-width="0.3">whites</text>
<path d="M1950 829.5L1961 843" stroke="#a2a2a2" stroke-width="2.6" stroke-linecap="round"/>
<ellipse cx="1966.5" cy="844.6" rx="6.2" ry="4.6" transform="rotate(25 1966.5 844.6)" fill="#d9d9d9" stroke="#b0b0b0" stroke-width="1"/>
<path d="M1934 840.5Q1945 837.5 1955.5 841.5Q1945 844 1934 840.5Z" fill="#bdbdbd"/>
<path d="M1927.8 847Q1938 842 1949.5 844.8Q1939 850.5 1927.8 847Z" fill="#cfcfcf" stroke="#bdbdbd" stroke-width="0.6"/>
<circle cx="1951.5" cy="848.3" r="1.2" fill="#aaa"/><circle cx="1955" cy="847" r="1.1" fill="#bbb"/><circle cx="1955.6" cy="849.6" r="1" fill="#bbb"/>
<text transform="translate(1953.8 866.9) scale(1.08 1)" font-size="12.6" text-anchor="middle" stroke="#111" stroke-width="0.3">Pea fiber</text>
<path d="M1904 889.8C1908 884.5 1922 888 1929.5 882.2C1930.5 885 1930 888 1928.5 889.8Z" fill="#fff" stroke="#111" stroke-width="1.2" stroke-linejoin="round"/>
<path d="M1902 889.6H1930.6V891.5C1930.6 897.63 1924.88 900.99 1922.02 901.57V904.2H1910.58V901.57C1907.72 900.99 1902 897.63 1902 891.5Z" fill="#fff" stroke="#111" stroke-width="1.6" stroke-linejoin="round"/>
<path d="M1903 891.5H1929.6" stroke="#111" stroke-width="1.28"/>
<text transform="translate(1916.5 920) scale(1.08 1)" font-size="12.6" text-anchor="middle" stroke="#111" stroke-width="0.3">Cream</text>
<path d="M2004.8 834.4h10M2009.8 829.4v10" stroke="#666" stroke-width="1.3"/>
<path d="M2029.5 824.6C2033.06 819.02 2043.21 817.53 2051.33 817.9C2061.48 816.79 2068.38 820.88 2069.1 824.6Z" fill="#fff" stroke="#666" stroke-width="0.8"/>
<path d="M2054.17 819.02L2061.48 811.95M2057.42 819.39L2066.76 813.07" stroke="#888" stroke-width="0.9"/>
<path d="M2029 824.6H2069.6V827.02C2069.6 834.83 2061.48 839.11 2057.42 839.85V843.2H2041.18V839.85C2037.12 839.11 2029 834.83 2029 827.02Z" fill="#fff" stroke="#111" stroke-width="1.9" stroke-linejoin="round"/>
<path d="M2030 827.02H2068.6" stroke="#111" stroke-width="1.52"/>
<text transform="translate(2049.6 860) scale(1.08 1)" font-size="13" text-anchor="middle" stroke="#111" stroke-width="0.3">Rice</text>
<rect x="2143.6" y="611.2" width="294.8" height="84.8" fill="#f3f0c1" stroke="#222" stroke-width="1.3"/>
<rect x="2162.8" y="623.6" width="256.4" height="60.6" fill="#fff" stroke="#111" stroke-width="1.5"/>
<text transform="translate(2173 642.5) scale(1.08 1)" font-size="12.6" stroke="#111" stroke-width="0.3">Types of spikers</text>
<rect x="2172.6" y="653.6" width="13.2" height="12.6" fill="#fff" stroke="#222" stroke-width="1.1"/>
<text transform="translate(2194 664) scale(1.08 1)" font-size="12.6" stroke="#111" stroke-width="0.3">Rice</text>
<rect x="2244.6" y="653.6" width="13.2" height="12.6" fill="#8a63ad" stroke="#222" stroke-width="1.1"/>
<text transform="translate(2266 664) scale(1.08 1)" font-size="12.6" stroke="#111" stroke-width="0.3">Grapes</text>
<rect x="2334" y="653.6" width="13.6" height="13" fill="#f2b73c"/>
<text transform="translate(2355.5 664) scale(1.08 1)" font-size="12.6" stroke="#111" stroke-width="0.3">Potatoes</text>
<defs>
<clipPath id="pl0"><path d="M-9.52 33H9.52L11.24 43.74V90H-11.24V43.74Z"/></clipPath>
<clipPath id="pl1"><path d="M-9.52 33H9.52L11.24 43.74V90H-11.24V43.74Z"/></clipPath>
<clipPath id="pl2"><path d="M-9.52 33.5H9.52L11.24 44.24V90H-11.24V44.24Z"/></clipPath>
<clipPath id="pl3"><path d="M-9.52 33H9.52L11.24 43.74V90H-11.24V43.74Z"/></clipPath>
<clipPath id="pl4"><path d="M-9.52 33.3H9.52L11.24 44.04V90H-11.24V44.04Z"/></clipPath>
<clipPath id="pl5"><path d="M-9.52 33H9.52L11.24 43.74V90H-11.24V43.74Z"/></clipPath>
<clipPath id="pl6"><path d="M-9.52 33.8H9.52L11.24 44.54V90H-11.24V44.54Z"/></clipPath>
</defs>
<g transform="translate(2182.3 740.2)"><path d="M0.0 0.0L2.8 0.7L4.6 2.6L5.2 5.5L5.5 6.3L5.4 7.5L4.9 8.2L4.5 9.6L3.8 10.8L2.9 11.6L2.9 13.8L5.3 15.1L8.8 16.1L12.2 17.3L13.6 18.6L14.4 20.6L14.7 22.9L15.2 30.1L15.7 37.5L16.2 44.0L16.3 46.5L16.3 48.2L16.3 49.6L15.7 51.1L14.7 52.2L13.7 52.9L13.4 51.7L13.0 50.7L12.6 49.8L11.9 43.5L10.7 36.5L9.3 29.7L9.0 28.5L8.9 27.4L8.7 26.6L8.8 29.6L9.0 32.2L9.0 34.2L9.6 38.4L10.0 42.8L10.2 47.6L10.0 52.5L9.7 57.1L9.1 61.2L8.3 63.7L7.6 65.5L7.2 67.1L7.4 70.3L7.1 74.0L6.4 77.7L6.0 79.1L5.7 80.5L5.7 81.6L6.7 82.9L7.3 84.0L7.4 84.7L5.3 85.0L2.8 85.0L0.9 84.9L0.8 82.7L1.1 80.8L1.1 79.1L0.9 75.3L0.7 71.2L0.9 67.0L0.9 58.8L0.6 51.5L0.0 44.8L-0.6 51.5L-0.9 58.8L-0.9 67.0L-0.7 71.2L-0.9 75.3L-1.1 79.1L-1.1 80.8L-0.8 82.7L-0.9 84.9L-2.8 85.0L-5.3 85.0L-7.4 84.7L-7.3 84.0L-6.7 82.9L-5.7 81.6L-5.7 80.5L-6.0 79.1L-6.4 77.7L-7.1 74.0L-7.4 70.3L-7.2 67.1L-7.6 65.5L-8.3 63.7L-9.1 61.2L-9.7 57.1L-10.0 52.5L-10.2 47.6L-10.0 42.8L-9.6 38.4L-9.0 34.2L-9.0 32.2L-8.8 29.6L-8.7 26.6L-8.9 27.4L-9.0 28.5L-9.3 29.7L-10.7 36.5L-11.9 43.5L-12.6 49.8L-13.0 50.7L-13.4 51.7L-13.7 52.9L-14.7 52.2L-15.7 51.1L-16.3 49.6L-16.3 48.2L-16.3 46.5L-16.2 44.0L-15.7 37.5L-15.2 30.1L-14.7 22.9L-14.4 20.6L-13.6 18.6L-12.2 17.3L-8.8 16.1L-5.3 15.1L-2.9 13.8L-2.9 11.6L-3.8 10.8L-4.5 9.6L-4.9 8.2L-5.4 7.5L-5.5 6.3L-5.2 5.5L-4.6 2.6L-2.8 0.7Z" fill="#fff" stroke="#8a8a8a" stroke-width="0.9"/><path d="M0.0 0.0L2.8 0.7L4.6 2.6L5.2 5.5L5.5 6.3L5.4 7.5L4.9 8.2L4.5 9.6L3.8 10.8L2.9 11.6L2.9 13.8L5.3 15.1L8.8 16.1L12.2 17.3L13.6 18.6L14.4 20.6L14.7 22.9L15.2 30.1L15.7 37.5L16.2 44.0L16.3 46.5L16.3 48.2L16.3 49.6L15.7 51.1L14.7 52.2L13.7 52.9L13.4 51.7L13.0 50.7L12.6 49.8L11.9 43.5L10.7 36.5L9.3 29.7L9.0 28.5L8.9 27.4L8.7 26.6L8.8 29.6L9.0 32.2L9.0 34.2L9.6 38.4L10.0 42.8L10.2 47.6L10.0 52.5L9.7 57.1L9.1 61.2L8.3 63.7L7.6 65.5L7.2 67.1L7.4 70.3L7.1 74.0L6.4 77.7L6.0 79.1L5.7 80.5L5.7 81.6L6.7 82.9L7.3 84.0L7.4 84.7L5.3 85.0L2.8 85.0L0.9 84.9L0.8 82.7L1.1 80.8L1.1 79.1L0.9 75.3L0.7 71.2L0.9 67.0L0.9 58.8L0.6 51.5L0.0 44.8L-0.6 51.5L-0.9 58.8L-0.9 67.0L-0.7 71.2L-0.9 75.3L-1.1 79.1L-1.1 80.8L-0.8 82.7L-0.9 84.9L-2.8 85.0L-5.3 85.0L-7.4 84.7L-7.3 84.0L-6.7 82.9L-5.7 81.6L-5.7 80.5L-6.0 79.1L-6.4 77.7L-7.1 74.0L-7.4 70.3L-7.2 67.1L-7.6 65.5L-8.3 63.7L-9.1 61.2L-9.7 57.1L-10.0 52.5L-10.2 47.6L-10.0 42.8L-9.6 38.4L-9.0 34.2L-9.0 32.2L-8.8 29.6L-8.7 26.6L-8.9 27.4L-9.0 28.5L-9.3 29.7L-10.7 36.5L-11.9 43.5L-12.6 49.8L-13.0 50.7L-13.4 51.7L-13.7 52.9L-14.7 52.2L-15.7 51.1L-16.3 49.6L-16.3 48.2L-16.3 46.5L-16.2 44.0L-15.7 37.5L-15.2 30.1L-14.7 22.9L-14.4 20.6L-13.6 18.6L-12.2 17.3L-8.8 16.1L-5.3 15.1L-2.9 13.8L-2.9 11.6L-3.8 10.8L-4.5 9.6L-4.9 8.2L-5.4 7.5L-5.5 6.3L-5.2 5.5L-4.6 2.6L-2.8 0.7Z" fill="#6cb77b" clip-path="url(#pl0)"/></g>
<g transform="translate(2225.9 762.1)"><path d="M0.0 0.0L2.8 0.7L4.6 2.6L5.2 5.5L5.5 6.3L5.4 7.5L4.9 8.2L4.5 9.6L3.8 10.8L2.9 11.6L2.9 13.8L5.3 15.1L8.8 16.1L12.2 17.3L13.6 18.6L14.4 20.6L14.7 22.9L15.2 30.1L15.7 37.5L16.2 44.0L16.3 46.5L16.3 48.2L16.3 49.6L15.7 51.1L14.7 52.2L13.7 52.9L13.4 51.7L13.0 50.7L12.6 49.8L11.9 43.5L10.7 36.5L9.3 29.7L9.0 28.5L8.9 27.4L8.7 26.6L8.8 29.6L9.0 32.2L9.0 34.2L9.6 38.4L10.0 42.8L10.2 47.6L10.0 52.5L9.7 57.1L9.1 61.2L8.3 63.7L7.6 65.5L7.2 67.1L7.4 70.3L7.1 74.0L6.4 77.7L6.0 79.1L5.7 80.5L5.7 81.6L6.7 82.9L7.3 84.0L7.4 84.7L5.3 85.0L2.8 85.0L0.9 84.9L0.8 82.7L1.1 80.8L1.1 79.1L0.9 75.3L0.7 71.2L0.9 67.0L0.9 58.8L0.6 51.5L0.0 44.8L-0.6 51.5L-0.9 58.8L-0.9 67.0L-0.7 71.2L-0.9 75.3L-1.1 79.1L-1.1 80.8L-0.8 82.7L-0.9 84.9L-2.8 85.0L-5.3 85.0L-7.4 84.7L-7.3 84.0L-6.7 82.9L-5.7 81.6L-5.7 80.5L-6.0 79.1L-6.4 77.7L-7.1 74.0L-7.4 70.3L-7.2 67.1L-7.6 65.5L-8.3 63.7L-9.1 61.2L-9.7 57.1L-10.0 52.5L-10.2 47.6L-10.0 42.8L-9.6 38.4L-9.0 34.2L-9.0 32.2L-8.8 29.6L-8.7 26.6L-8.9 27.4L-9.0 28.5L-9.3 29.7L-10.7 36.5L-11.9 43.5L-12.6 49.8L-13.0 50.7L-13.4 51.7L-13.7 52.9L-14.7 52.2L-15.7 51.1L-16.3 49.6L-16.3 48.2L-16.3 46.5L-16.2 44.0L-15.7 37.5L-15.2 30.1L-14.7 22.9L-14.4 20.6L-13.6 18.6L-12.2 17.3L-8.8 16.1L-5.3 15.1L-2.9 13.8L-2.9 11.6L-3.8 10.8L-4.5 9.6L-4.9 8.2L-5.4 7.5L-5.5 6.3L-5.2 5.5L-4.6 2.6L-2.8 0.7Z" fill="#fff" stroke="#8a8a8a" stroke-width="0.9"/><path d="M0.0 0.0L2.8 0.7L4.6 2.6L5.2 5.5L5.5 6.3L5.4 7.5L4.9 8.2L4.5 9.6L3.8 10.8L2.9 11.6L2.9 13.8L5.3 15.1L8.8 16.1L12.2 17.3L13.6 18.6L14.4 20.6L14.7 22.9L15.2 30.1L15.7 37.5L16.2 44.0L16.3 46.5L16.3 48.2L16.3 49.6L15.7 51.1L14.7 52.2L13.7 52.9L13.4 51.7L13.0 50.7L12.6 49.8L11.9 43.5L10.7 36.5L9.3 29.7L9.0 28.5L8.9 27.4L8.7 26.6L8.8 29.6L9.0 32.2L9.0 34.2L9.6 38.4L10.0 42.8L10.2 47.6L10.0 52.5L9.7 57.1L9.1 61.2L8.3 63.7L7.6 65.5L7.2 67.1L7.4 70.3L7.1 74.0L6.4 77.7L6.0 79.1L5.7 80.5L5.7 81.6L6.7 82.9L7.3 84.0L7.4 84.7L5.3 85.0L2.8 85.0L0.9 84.9L0.8 82.7L1.1 80.8L1.1 79.1L0.9 75.3L0.7 71.2L0.9 67.0L0.9 58.8L0.6 51.5L0.0 44.8L-0.6 51.5L-0.9 58.8L-0.9 67.0L-0.7 71.2L-0.9 75.3L-1.1 79.1L-1.1 80.8L-0.8 82.7L-0.9 84.9L-2.8 85.0L-5.3 85.0L-7.4 84.7L-7.3 84.0L-6.7 82.9L-5.7 81.6L-5.7 80.5L-6.0 79.1L-6.4 77.7L-7.1 74.0L-7.4 70.3L-7.2 67.1L-7.6 65.5L-8.3 63.7L-9.1 61.2L-9.7 57.1L-10.0 52.5L-10.2 47.6L-10.0 42.8L-9.6 38.4L-9.0 34.2L-9.0 32.2L-8.8 29.6L-8.7 26.6L-8.9 27.4L-9.0 28.5L-9.3 29.7L-10.7 36.5L-11.9 43.5L-12.6 49.8L-13.0 50.7L-13.4 51.7L-13.7 52.9L-14.7 52.2L-15.7 51.1L-16.3 49.6L-16.3 48.2L-16.3 46.5L-16.2 44.0L-15.7 37.5L-15.2 30.1L-14.7 22.9L-14.4 20.6L-13.6 18.6L-12.2 17.3L-8.8 16.1L-5.3 15.1L-2.9 13.8L-2.9 11.6L-3.8 10.8L-4.5 9.6L-4.9 8.2L-5.4 7.5L-5.5 6.3L-5.2 5.5L-4.6 2.6L-2.8 0.7Z" fill="#6cb77b" clip-path="url(#pl1)"/></g>
<g transform="translate(2266.8 738.4)"><path d="M0.0 0.0L2.8 0.7L4.6 2.6L5.2 5.5L5.5 6.3L5.4 7.5L4.9 8.2L4.5 9.6L3.8 10.8L2.9 11.6L2.9 13.8L5.3 15.1L8.8 16.1L12.2 17.3L13.6 18.6L14.4 20.6L14.7 22.9L15.2 30.1L15.7 37.5L16.2 44.0L16.3 46.5L16.3 48.2L16.3 49.6L15.7 51.1L14.7 52.2L13.7 52.9L13.4 51.7L13.0 50.7L12.6 49.8L11.9 43.5L10.7 36.5L9.3 29.7L9.0 28.5L8.9 27.4L8.7 26.6L8.8 29.6L9.0 32.2L9.0 34.2L9.6 38.4L10.0 42.8L10.2 47.6L10.0 52.5L9.7 57.1L9.1 61.2L8.3 63.7L7.6 65.5L7.2 67.1L7.4 70.3L7.1 74.0L6.4 77.7L6.0 79.1L5.7 80.5L5.7 81.6L6.7 82.9L7.3 84.0L7.4 84.7L5.3 85.0L2.8 85.0L0.9 84.9L0.8 82.7L1.1 80.8L1.1 79.1L0.9 75.3L0.7 71.2L0.9 67.0L0.9 58.8L0.6 51.5L0.0 44.8L-0.6 51.5L-0.9 58.8L-0.9 67.0L-0.7 71.2L-0.9 75.3L-1.1 79.1L-1.1 80.8L-0.8 82.7L-0.9 84.9L-2.8 85.0L-5.3 85.0L-7.4 84.7L-7.3 84.0L-6.7 82.9L-5.7 81.6L-5.7 80.5L-6.0 79.1L-6.4 77.7L-7.1 74.0L-7.4 70.3L-7.2 67.1L-7.6 65.5L-8.3 63.7L-9.1 61.2L-9.7 57.1L-10.0 52.5L-10.2 47.6L-10.0 42.8L-9.6 38.4L-9.0 34.2L-9.0 32.2L-8.8 29.6L-8.7 26.6L-8.9 27.4L-9.0 28.5L-9.3 29.7L-10.7 36.5L-11.9 43.5L-12.6 49.8L-13.0 50.7L-13.4 51.7L-13.7 52.9L-14.7 52.2L-15.7 51.1L-16.3 49.6L-16.3 48.2L-16.3 46.5L-16.2 44.0L-15.7 37.5L-15.2 30.1L-14.7 22.9L-14.4 20.6L-13.6 18.6L-12.2 17.3L-8.8 16.1L-5.3 15.1L-2.9 13.8L-2.9 11.6L-3.8 10.8L-4.5 9.6L-4.9 8.2L-5.4 7.5L-5.5 6.3L-5.2 5.5L-4.6 2.6L-2.8 0.7Z" fill="#8a63ad"/><path d="M0.0 0.0L2.8 0.7L4.6 2.6L5.2 5.5L5.5 6.3L5.4 7.5L4.9 8.2L4.5 9.6L3.8 10.8L2.9 11.6L2.9 13.8L5.3 15.1L8.8 16.1L12.2 17.3L13.6 18.6L14.4 20.6L14.7 22.9L15.2 30.1L15.7 37.5L16.2 44.0L16.3 46.5L16.3 48.2L16.3 49.6L15.7 51.1L14.7 52.2L13.7 52.9L13.4 51.7L13.0 50.7L12.6 49.8L11.9 43.5L10.7 36.5L9.3 29.7L9.0 28.5L8.9 27.4L8.7 26.6L8.8 29.6L9.0 32.2L9.0 34.2L9.6 38.4L10.0 42.8L10.2 47.6L10.0 52.5L9.7 57.1L9.1 61.2L8.3 63.7L7.6 65.5L7.2 67.1L7.4 70.3L7.1 74.0L6.4 77.7L6.0 79.1L5.7 80.5L5.7 81.6L6.7 82.9L7.3 84.0L7.4 84.7L5.3 85.0L2.8 85.0L0.9 84.9L0.8 82.7L1.1 80.8L1.1 79.1L0.9 75.3L0.7 71.2L0.9 67.0L0.9 58.8L0.6 51.5L0.0 44.8L-0.6 51.5L-0.9 58.8L-0.9 67.0L-0.7 71.2L-0.9 75.3L-1.1 79.1L-1.1 80.8L-0.8 82.7L-0.9 84.9L-2.8 85.0L-5.3 85.0L-7.4 84.7L-7.3 84.0L-6.7 82.9L-5.7 81.6L-5.7 80.5L-6.0 79.1L-6.4 77.7L-7.1 74.0L-7.4 70.3L-7.2 67.1L-7.6 65.5L-8.3 63.7L-9.1 61.2L-9.7 57.1L-10.0 52.5L-10.2 47.6L-10.0 42.8L-9.6 38.4L-9.0 34.2L-9.0 32.2L-8.8 29.6L-8.7 26.6L-8.9 27.4L-9.0 28.5L-9.3 29.7L-10.7 36.5L-11.9 43.5L-12.6 49.8L-13.0 50.7L-13.4 51.7L-13.7 52.9L-14.7 52.2L-15.7 51.1L-16.3 49.6L-16.3 48.2L-16.3 46.5L-16.2 44.0L-15.7 37.5L-15.2 30.1L-14.7 22.9L-14.4 20.6L-13.6 18.6L-12.2 17.3L-8.8 16.1L-5.3 15.1L-2.9 13.8L-2.9 11.6L-3.8 10.8L-4.5 9.6L-4.9 8.2L-5.4 7.5L-5.5 6.3L-5.2 5.5L-4.6 2.6L-2.8 0.7Z" fill="#6cb77b" clip-path="url(#pl2)"/></g>
<g transform="translate(2306.4 763.4)"><path d="M0.0 0.0L2.8 0.7L4.6 2.6L5.2 5.5L5.5 6.3L5.4 7.5L4.9 8.2L4.5 9.6L3.8 10.8L2.9 11.6L2.9 13.8L5.3 15.1L8.8 16.1L12.2 17.3L13.6 18.6L14.4 20.6L14.7 22.9L15.2 30.1L15.7 37.5L16.2 44.0L16.3 46.5L16.3 48.2L16.3 49.6L15.7 51.1L14.7 52.2L13.7 52.9L13.4 51.7L13.0 50.7L12.6 49.8L11.9 43.5L10.7 36.5L9.3 29.7L9.0 28.5L8.9 27.4L8.7 26.6L8.8 29.6L9.0 32.2L9.0 34.2L9.6 38.4L10.0 42.8L10.2 47.6L10.0 52.5L9.7 57.1L9.1 61.2L8.3 63.7L7.6 65.5L7.2 67.1L7.4 70.3L7.1 74.0L6.4 77.7L6.0 79.1L5.7 80.5L5.7 81.6L6.7 82.9L7.3 84.0L7.4 84.7L5.3 85.0L2.8 85.0L0.9 84.9L0.8 82.7L1.1 80.8L1.1 79.1L0.9 75.3L0.7 71.2L0.9 67.0L0.9 58.8L0.6 51.5L0.0 44.8L-0.6 51.5L-0.9 58.8L-0.9 67.0L-0.7 71.2L-0.9 75.3L-1.1 79.1L-1.1 80.8L-0.8 82.7L-0.9 84.9L-2.8 85.0L-5.3 85.0L-7.4 84.7L-7.3 84.0L-6.7 82.9L-5.7 81.6L-5.7 80.5L-6.0 79.1L-6.4 77.7L-7.1 74.0L-7.4 70.3L-7.2 67.1L-7.6 65.5L-8.3 63.7L-9.1 61.2L-9.7 57.1L-10.0 52.5L-10.2 47.6L-10.0 42.8L-9.6 38.4L-9.0 34.2L-9.0 32.2L-8.8 29.6L-8.7 26.6L-8.9 27.4L-9.0 28.5L-9.3 29.7L-10.7 36.5L-11.9 43.5L-12.6 49.8L-13.0 50.7L-13.4 51.7L-13.7 52.9L-14.7 52.2L-15.7 51.1L-16.3 49.6L-16.3 48.2L-16.3 46.5L-16.2 44.0L-15.7 37.5L-15.2 30.1L-14.7 22.9L-14.4 20.6L-13.6 18.6L-12.2 17.3L-8.8 16.1L-5.3 15.1L-2.9 13.8L-2.9 11.6L-3.8 10.8L-4.5 9.6L-4.9 8.2L-5.4 7.5L-5.5 6.3L-5.2 5.5L-4.6 2.6L-2.8 0.7Z" fill="#8a63ad"/><path d="M0.0 0.0L2.8 0.7L4.6 2.6L5.2 5.5L5.5 6.3L5.4 7.5L4.9 8.2L4.5 9.6L3.8 10.8L2.9 11.6L2.9 13.8L5.3 15.1L8.8 16.1L12.2 17.3L13.6 18.6L14.4 20.6L14.7 22.9L15.2 30.1L15.7 37.5L16.2 44.0L16.3 46.5L16.3 48.2L16.3 49.6L15.7 51.1L14.7 52.2L13.7 52.9L13.4 51.7L13.0 50.7L12.6 49.8L11.9 43.5L10.7 36.5L9.3 29.7L9.0 28.5L8.9 27.4L8.7 26.6L8.8 29.6L9.0 32.2L9.0 34.2L9.6 38.4L10.0 42.8L10.2 47.6L10.0 52.5L9.7 57.1L9.1 61.2L8.3 63.7L7.6 65.5L7.2 67.1L7.4 70.3L7.1 74.0L6.4 77.7L6.0 79.1L5.7 80.5L5.7 81.6L6.7 82.9L7.3 84.0L7.4 84.7L5.3 85.0L2.8 85.0L0.9 84.9L0.8 82.7L1.1 80.8L1.1 79.1L0.9 75.3L0.7 71.2L0.9 67.0L0.9 58.8L0.6 51.5L0.0 44.8L-0.6 51.5L-0.9 58.8L-0.9 67.0L-0.7 71.2L-0.9 75.3L-1.1 79.1L-1.1 80.8L-0.8 82.7L-0.9 84.9L-2.8 85.0L-5.3 85.0L-7.4 84.7L-7.3 84.0L-6.7 82.9L-5.7 81.6L-5.7 80.5L-6.0 79.1L-6.4 77.7L-7.1 74.0L-7.4 70.3L-7.2 67.1L-7.6 65.5L-8.3 63.7L-9.1 61.2L-9.7 57.1L-10.0 52.5L-10.2 47.6L-10.0 42.8L-9.6 38.4L-9.0 34.2L-9.0 32.2L-8.8 29.6L-8.7 26.6L-8.9 27.4L-9.0 28.5L-9.3 29.7L-10.7 36.5L-11.9 43.5L-12.6 49.8L-13.0 50.7L-13.4 51.7L-13.7 52.9L-14.7 52.2L-15.7 51.1L-16.3 49.6L-16.3 48.2L-16.3 46.5L-16.2 44.0L-15.7 37.5L-15.2 30.1L-14.7 22.9L-14.4 20.6L-13.6 18.6L-12.2 17.3L-8.8 16.1L-5.3 15.1L-2.9 13.8L-2.9 11.6L-3.8 10.8L-4.5 9.6L-4.9 8.2L-5.4 7.5L-5.5 6.3L-5.2 5.5L-4.6 2.6L-2.8 0.7Z" fill="#6cb77b" clip-path="url(#pl3)"/></g>
<g transform="translate(2343.9 738.6)"><path d="M0.0 0.0L2.8 0.7L4.6 2.6L5.2 5.5L5.5 6.3L5.4 7.5L4.9 8.2L4.5 9.6L3.8 10.8L2.9 11.6L2.9 13.8L5.3 15.1L8.8 16.1L12.2 17.3L13.6 18.6L14.4 20.6L14.7 22.9L15.2 30.1L15.7 37.5L16.2 44.0L16.3 46.5L16.3 48.2L16.3 49.6L15.7 51.1L14.7 52.2L13.7 52.9L13.4 51.7L13.0 50.7L12.6 49.8L11.9 43.5L10.7 36.5L9.3 29.7L9.0 28.5L8.9 27.4L8.7 26.6L8.8 29.6L9.0 32.2L9.0 34.2L9.6 38.4L10.0 42.8L10.2 47.6L10.0 52.5L9.7 57.1L9.1 61.2L8.3 63.7L7.6 65.5L7.2 67.1L7.4 70.3L7.1 74.0L6.4 77.7L6.0 79.1L5.7 80.5L5.7 81.6L6.7 82.9L7.3 84.0L7.4 84.7L5.3 85.0L2.8 85.0L0.9 84.9L0.8 82.7L1.1 80.8L1.1 79.1L0.9 75.3L0.7 71.2L0.9 67.0L0.9 58.8L0.6 51.5L0.0 44.8L-0.6 51.5L-0.9 58.8L-0.9 67.0L-0.7 71.2L-0.9 75.3L-1.1 79.1L-1.1 80.8L-0.8 82.7L-0.9 84.9L-2.8 85.0L-5.3 85.0L-7.4 84.7L-7.3 84.0L-6.7 82.9L-5.7 81.6L-5.7 80.5L-6.0 79.1L-6.4 77.7L-7.1 74.0L-7.4 70.3L-7.2 67.1L-7.6 65.5L-8.3 63.7L-9.1 61.2L-9.7 57.1L-10.0 52.5L-10.2 47.6L-10.0 42.8L-9.6 38.4L-9.0 34.2L-9.0 32.2L-8.8 29.6L-8.7 26.6L-8.9 27.4L-9.0 28.5L-9.3 29.7L-10.7 36.5L-11.9 43.5L-12.6 49.8L-13.0 50.7L-13.4 51.7L-13.7 52.9L-14.7 52.2L-15.7 51.1L-16.3 49.6L-16.3 48.2L-16.3 46.5L-16.2 44.0L-15.7 37.5L-15.2 30.1L-14.7 22.9L-14.4 20.6L-13.6 18.6L-12.2 17.3L-8.8 16.1L-5.3 15.1L-2.9 13.8L-2.9 11.6L-3.8 10.8L-4.5 9.6L-4.9 8.2L-5.4 7.5L-5.5 6.3L-5.2 5.5L-4.6 2.6L-2.8 0.7Z" fill="#f2b73c"/><path d="M0.0 0.0L2.8 0.7L4.6 2.6L5.2 5.5L5.5 6.3L5.4 7.5L4.9 8.2L4.5 9.6L3.8 10.8L2.9 11.6L2.9 13.8L5.3 15.1L8.8 16.1L12.2 17.3L13.6 18.6L14.4 20.6L14.7 22.9L15.2 30.1L15.7 37.5L16.2 44.0L16.3 46.5L16.3 48.2L16.3 49.6L15.7 51.1L14.7 52.2L13.7 52.9L13.4 51.7L13.0 50.7L12.6 49.8L11.9 43.5L10.7 36.5L9.3 29.7L9.0 28.5L8.9 27.4L8.7 26.6L8.8 29.6L9.0 32.2L9.0 34.2L9.6 38.4L10.0 42.8L10.2 47.6L10.0 52.5L9.7 57.1L9.1 61.2L8.3 63.7L7.6 65.5L7.2 67.1L7.4 70.3L7.1 74.0L6.4 77.7L6.0 79.1L5.7 80.5L5.7 81.6L6.7 82.9L7.3 84.0L7.4 84.7L5.3 85.0L2.8 85.0L0.9 84.9L0.8 82.7L1.1 80.8L1.1 79.1L0.9 75.3L0.7 71.2L0.9 67.0L0.9 58.8L0.6 51.5L0.0 44.8L-0.6 51.5L-0.9 58.8L-0.9 67.0L-0.7 71.2L-0.9 75.3L-1.1 79.1L-1.1 80.8L-0.8 82.7L-0.9 84.9L-2.8 85.0L-5.3 85.0L-7.4 84.7L-7.3 84.0L-6.7 82.9L-5.7 81.6L-5.7 80.5L-6.0 79.1L-6.4 77.7L-7.1 74.0L-7.4 70.3L-7.2 67.1L-7.6 65.5L-8.3 63.7L-9.1 61.2L-9.7 57.1L-10.0 52.5L-10.2 47.6L-10.0 42.8L-9.6 38.4L-9.0 34.2L-9.0 32.2L-8.8 29.6L-8.7 26.6L-8.9 27.4L-9.0 28.5L-9.3 29.7L-10.7 36.5L-11.9 43.5L-12.6 49.8L-13.0 50.7L-13.4 51.7L-13.7 52.9L-14.7 52.2L-15.7 51.1L-16.3 49.6L-16.3 48.2L-16.3 46.5L-16.2 44.0L-15.7 37.5L-15.2 30.1L-14.7 22.9L-14.4 20.6L-13.6 18.6L-12.2 17.3L-8.8 16.1L-5.3 15.1L-2.9 13.8L-2.9 11.6L-3.8 10.8L-4.5 9.6L-4.9 8.2L-5.4 7.5L-5.5 6.3L-5.2 5.5L-4.6 2.6L-2.8 0.7Z" fill="#ee7468" clip-path="url(#pl4)"/></g>
<g transform="translate(2381.3 765.5)"><path d="M0.0 0.0L2.8 0.7L4.6 2.6L5.2 5.5L5.5 6.3L5.4 7.5L4.9 8.2L4.5 9.6L3.8 10.8L2.9 11.6L2.9 13.8L5.3 15.1L8.8 16.1L12.2 17.3L13.6 18.6L14.4 20.6L14.7 22.9L15.2 30.1L15.7 37.5L16.2 44.0L16.3 46.5L16.3 48.2L16.3 49.6L15.7 51.1L14.7 52.2L13.7 52.9L13.4 51.7L13.0 50.7L12.6 49.8L11.9 43.5L10.7 36.5L9.3 29.7L9.0 28.5L8.9 27.4L8.7 26.6L8.8 29.6L9.0 32.2L9.0 34.2L9.6 38.4L10.0 42.8L10.2 47.6L10.0 52.5L9.7 57.1L9.1 61.2L8.3 63.7L7.6 65.5L7.2 67.1L7.4 70.3L7.1 74.0L6.4 77.7L6.0 79.1L5.7 80.5L5.7 81.6L6.7 82.9L7.3 84.0L7.4 84.7L5.3 85.0L2.8 85.0L0.9 84.9L0.8 82.7L1.1 80.8L1.1 79.1L0.9 75.3L0.7 71.2L0.9 67.0L0.9 58.8L0.6 51.5L0.0 44.8L-0.6 51.5L-0.9 58.8L-0.9 67.0L-0.7 71.2L-0.9 75.3L-1.1 79.1L-1.1 80.8L-0.8 82.7L-0.9 84.9L-2.8 85.0L-5.3 85.0L-7.4 84.7L-7.3 84.0L-6.7 82.9L-5.7 81.6L-5.7 80.5L-6.0 79.1L-6.4 77.7L-7.1 74.0L-7.4 70.3L-7.2 67.1L-7.6 65.5L-8.3 63.7L-9.1 61.2L-9.7 57.1L-10.0 52.5L-10.2 47.6L-10.0 42.8L-9.6 38.4L-9.0 34.2L-9.0 32.2L-8.8 29.6L-8.7 26.6L-8.9 27.4L-9.0 28.5L-9.3 29.7L-10.7 36.5L-11.9 43.5L-12.6 49.8L-13.0 50.7L-13.4 51.7L-13.7 52.9L-14.7 52.2L-15.7 51.1L-16.3 49.6L-16.3 48.2L-16.3 46.5L-16.2 44.0L-15.7 37.5L-15.2 30.1L-14.7 22.9L-14.4 20.6L-13.6 18.6L-12.2 17.3L-8.8 16.1L-5.3 15.1L-2.9 13.8L-2.9 11.6L-3.8 10.8L-4.5 9.6L-4.9 8.2L-5.4 7.5L-5.5 6.3L-5.2 5.5L-4.6 2.6L-2.8 0.7Z" fill="#f2b73c"/><path d="M0.0 0.0L2.8 0.7L4.6 2.6L5.2 5.5L5.5 6.3L5.4 7.5L4.9 8.2L4.5 9.6L3.8 10.8L2.9 11.6L2.9 13.8L5.3 15.1L8.8 16.1L12.2 17.3L13.6 18.6L14.4 20.6L14.7 22.9L15.2 30.1L15.7 37.5L16.2 44.0L16.3 46.5L16.3 48.2L16.3 49.6L15.7 51.1L14.7 52.2L13.7 52.9L13.4 51.7L13.0 50.7L12.6 49.8L11.9 43.5L10.7 36.5L9.3 29.7L9.0 28.5L8.9 27.4L8.7 26.6L8.8 29.6L9.0 32.2L9.0 34.2L9.6 38.4L10.0 42.8L10.2 47.6L10.0 52.5L9.7 57.1L9.1 61.2L8.3 63.7L7.6 65.5L7.2 67.1L7.4 70.3L7.1 74.0L6.4 77.7L6.0 79.1L5.7 80.5L5.7 81.6L6.7 82.9L7.3 84.0L7.4 84.7L5.3 85.0L2.8 85.0L0.9 84.9L0.8 82.7L1.1 80.8L1.1 79.1L0.9 75.3L0.7 71.2L0.9 67.0L0.9 58.8L0.6 51.5L0.0 44.8L-0.6 51.5L-0.9 58.8L-0.9 67.0L-0.7 71.2L-0.9 75.3L-1.1 79.1L-1.1 80.8L-0.8 82.7L-0.9 84.9L-2.8 85.0L-5.3 85.0L-7.4 84.7L-7.3 84.0L-6.7 82.9L-5.7 81.6L-5.7 80.5L-6.0 79.1L-6.4 77.7L-7.1 74.0L-7.4 70.3L-7.2 67.1L-7.6 65.5L-8.3 63.7L-9.1 61.2L-9.7 57.1L-10.0 52.5L-10.2 47.6L-10.0 42.8L-9.6 38.4L-9.0 34.2L-9.0 32.2L-8.8 29.6L-8.7 26.6L-8.9 27.4L-9.0 28.5L-9.3 29.7L-10.7 36.5L-11.9 43.5L-12.6 49.8L-13.0 50.7L-13.4 51.7L-13.7 52.9L-14.7 52.2L-15.7 51.1L-16.3 49.6L-16.3 48.2L-16.3 46.5L-16.2 44.0L-15.7 37.5L-15.2 30.1L-14.7 22.9L-14.4 20.6L-13.6 18.6L-12.2 17.3L-8.8 16.1L-5.3 15.1L-2.9 13.8L-2.9 11.6L-3.8 10.8L-4.5 9.6L-4.9 8.2L-5.4 7.5L-5.5 6.3L-5.2 5.5L-4.6 2.6L-2.8 0.7Z" fill="#ee7468" clip-path="url(#pl5)"/></g>
<g transform="translate(2418 740.2)"><path d="M0.0 0.0L2.8 0.7L4.6 2.6L5.2 5.5L5.5 6.3L5.4 7.5L4.9 8.2L4.5 9.6L3.8 10.8L2.9 11.6L2.9 13.8L5.3 15.1L8.8 16.1L12.2 17.3L13.6 18.6L14.4 20.6L14.7 22.9L15.2 30.1L15.7 37.5L16.2 44.0L16.3 46.5L16.3 48.2L16.3 49.6L15.7 51.1L14.7 52.2L13.7 52.9L13.4 51.7L13.0 50.7L12.6 49.8L11.9 43.5L10.7 36.5L9.3 29.7L9.0 28.5L8.9 27.4L8.7 26.6L8.8 29.6L9.0 32.2L9.0 34.2L9.6 38.4L10.0 42.8L10.2 47.6L10.0 52.5L9.7 57.1L9.1 61.2L8.3 63.7L7.6 65.5L7.2 67.1L7.4 70.3L7.1 74.0L6.4 77.7L6.0 79.1L5.7 80.5L5.7 81.6L6.7 82.9L7.3 84.0L7.4 84.7L5.3 85.0L2.8 85.0L0.9 84.9L0.8 82.7L1.1 80.8L1.1 79.1L0.9 75.3L0.7 71.2L0.9 67.0L0.9 58.8L0.6 51.5L0.0 44.8L-0.6 51.5L-0.9 58.8L-0.9 67.0L-0.7 71.2L-0.9 75.3L-1.1 79.1L-1.1 80.8L-0.8 82.7L-0.9 84.9L-2.8 85.0L-5.3 85.0L-7.4 84.7L-7.3 84.0L-6.7 82.9L-5.7 81.6L-5.7 80.5L-6.0 79.1L-6.4 77.7L-7.1 74.0L-7.4 70.3L-7.2 67.1L-7.6 65.5L-8.3 63.7L-9.1 61.2L-9.7 57.1L-10.0 52.5L-10.2 47.6L-10.0 42.8L-9.6 38.4L-9.0 34.2L-9.0 32.2L-8.8 29.6L-8.7 26.6L-8.9 27.4L-9.0 28.5L-9.3 29.7L-10.7 36.5L-11.9 43.5L-12.6 49.8L-13.0 50.7L-13.4 51.7L-13.7 52.9L-14.7 52.2L-15.7 51.1L-16.3 49.6L-16.3 48.2L-16.3 46.5L-16.2 44.0L-15.7 37.5L-15.2 30.1L-14.7 22.9L-14.4 20.6L-13.6 18.6L-12.2 17.3L-8.8 16.1L-5.3 15.1L-2.9 13.8L-2.9 11.6L-3.8 10.8L-4.5 9.6L-4.9 8.2L-5.4 7.5L-5.5 6.3L-5.2 5.5L-4.6 2.6L-2.8 0.7Z" fill="#fff" stroke="#8a8a8a" stroke-width="0.9"/><path d="M0.0 0.0L2.8 0.7L4.6 2.6L5.2 5.5L5.5 6.3L5.4 7.5L4.9 8.2L4.5 9.6L3.8 10.8L2.9 11.6L2.9 13.8L5.3 15.1L8.8 16.1L12.2 17.3L13.6 18.6L14.4 20.6L14.7 22.9L15.2 30.1L15.7 37.5L16.2 44.0L16.3 46.5L16.3 48.2L16.3 49.6L15.7 51.1L14.7 52.2L13.7 52.9L13.4 51.7L13.0 50.7L12.6 49.8L11.9 43.5L10.7 36.5L9.3 29.7L9.0 28.5L8.9 27.4L8.7 26.6L8.8 29.6L9.0 32.2L9.0 34.2L9.6 38.4L10.0 42.8L10.2 47.6L10.0 52.5L9.7 57.1L9.1 61.2L8.3 63.7L7.6 65.5L7.2 67.1L7.4 70.3L7.1 74.0L6.4 77.7L6.0 79.1L5.7 80.5L5.7 81.6L6.7 82.9L7.3 84.0L7.4 84.7L5.3 85.0L2.8 85.0L0.9 84.9L0.8 82.7L1.1 80.8L1.1 79.1L0.9 75.3L0.7 71.2L0.9 67.0L0.9 58.8L0.6 51.5L0.0 44.8L-0.6 51.5L-0.9 58.8L-0.9 67.0L-0.7 71.2L-0.9 75.3L-1.1 79.1L-1.1 80.8L-0.8 82.7L-0.9 84.9L-2.8 85.0L-5.3 85.0L-7.4 84.7L-7.3 84.0L-6.7 82.9L-5.7 81.6L-5.7 80.5L-6.0 79.1L-6.4 77.7L-7.1 74.0L-7.4 70.3L-7.2 67.1L-7.6 65.5L-8.3 63.7L-9.1 61.2L-9.7 57.1L-10.0 52.5L-10.2 47.6L-10.0 42.8L-9.6 38.4L-9.0 34.2L-9.0 32.2L-8.8 29.6L-8.7 26.6L-8.9 27.4L-9.0 28.5L-9.3 29.7L-10.7 36.5L-11.9 43.5L-12.6 49.8L-13.0 50.7L-13.4 51.7L-13.7 52.9L-14.7 52.2L-15.7 51.1L-16.3 49.6L-16.3 48.2L-16.3 46.5L-16.2 44.0L-15.7 37.5L-15.2 30.1L-14.7 22.9L-14.4 20.6L-13.6 18.6L-12.2 17.3L-8.8 16.1L-5.3 15.1L-2.9 13.8L-2.9 11.6L-3.8 10.8L-4.5 9.6L-4.9 8.2L-5.4 7.5L-5.5 6.3L-5.2 5.5L-4.6 2.6L-2.8 0.7Z" fill="#ee7468" clip-path="url(#pl6)"/></g>
<rect x="2144.4" y="887.4" width="295.2" height="39.6" fill="#fff" stroke="#111" stroke-width="1.5"/>
<rect x="2160.2" y="900" width="13.6" height="13.4" fill="#ee7468"/>
<text transform="translate(2181 911.5) scale(1.08 1)" font-size="12.6" stroke="#111" stroke-width="0.3">Insulin resistant</text>
<rect x="2304.2" y="900" width="13.6" height="13.4" fill="#6cb77b"/>
<text transform="translate(2325.5 911.5) scale(1.08 1)" font-size="12.6" stroke="#111" stroke-width="0.3">Insulin sensitive</text>
<text transform="translate(1237.3 985.3)" font-size="19" font-weight="bold" fill="#000" stroke="#000" stroke-width="0.8">b</text>
<path d="M1300.8 1023.5V1295.2H1637.6" fill="none" stroke="#555" stroke-width="1.1"/>
<path d="M1373.4 1295.2v-4.3M1446 1295.2v-4.3M1518.9 1295.2v-4.3M1591.5 1295.2v-4.3M1300.8 1091.7h4.3M1300.8 1159.4h4.3M1300.8 1227h4.3" stroke="#555" stroke-width="1.1"/>
<text transform="translate(1300.8 1313.4) scale(1.08 1)" font-size="13.3" text-anchor="middle" letter-spacing="0.5" stroke="#111" stroke-width="0.3">−50</text>
<text transform="translate(1373.4 1313.4) scale(1.08 1)" font-size="13.3" text-anchor="middle" letter-spacing="0.5" stroke="#111" stroke-width="0.3">0</text>
<text transform="translate(1446 1313.4) scale(1.08 1)" font-size="13.3" text-anchor="middle" letter-spacing="0.5" stroke="#111" stroke-width="0.3">50</text>
<text transform="translate(1518.9 1313.4) scale(1.08 1)" font-size="13.3" text-anchor="middle" letter-spacing="0.5" stroke="#111" stroke-width="0.3">100</text>
<text transform="translate(1591.5 1313.4) scale(1.08 1)" font-size="13.3" text-anchor="middle" letter-spacing="0.5" stroke="#111" stroke-width="0.3">150</text>
<text transform="translate(1291.8 1096.5) scale(1.08 1)" font-size="13.3" text-anchor="end" letter-spacing="0.5" stroke="#111" stroke-width="0.3">140</text>
<text transform="translate(1291.8 1164.2) scale(1.08 1)" font-size="13.3" text-anchor="end" letter-spacing="0.5" stroke="#111" stroke-width="0.3">120</text>
<text transform="translate(1291.8 1231.8) scale(1.08 1)" font-size="13.3" text-anchor="end" letter-spacing="0.5" stroke="#111" stroke-width="0.3">100</text>
<text transform="translate(1291.8 1300) scale(1.08 1)" font-size="13.3" text-anchor="end" letter-spacing="0.5" stroke="#111" stroke-width="0.3">80</text>
<text transform="translate(1469 1338) scale(1.08 1)" font-size="15" text-anchor="middle" stroke="#111" stroke-width="0.3">Time (min)</text>
<text transform="translate(1257 1159) rotate(-90) scale(1.08 1)" font-size="15" text-anchor="middle" stroke="#111" stroke-width="0.3">Glucose (mg dl⁻¹)</text>
<path d="M1338.09 1243.63C1340.28 1244.16 1346.6 1245.23 1351.21 1246.84C1355.83 1248.44 1362.1 1251.7 1365.79 1253.25C1369.49 1254.81 1370.95 1255.34 1373.38 1256.17C1375.81 1256.99 1377.99 1258.06 1380.37 1258.21C1382.75 1258.35 1385.23 1258.11 1387.66 1257.04C1390.09 1255.97 1392.52 1254.37 1394.95 1251.79C1397.38 1249.22 1399.81 1245.72 1402.24 1241.59C1404.67 1237.46 1406.86 1232.6 1409.53 1227.01C1412.2 1221.42 1415.36 1213.89 1418.28 1208.06C1421.2 1202.22 1423.63 1197.02 1427.03 1192.02C1430.43 1187.01 1435.29 1181.23 1438.69 1178.02C1442.09 1174.81 1444.77 1173.94 1447.44 1172.77C1450.11 1171.61 1452.3 1171.22 1454.73 1171.02C1457.16 1170.83 1459.59 1170.93 1462.02 1171.61C1464.45 1172.29 1466.88 1173.4 1469.31 1175.11C1471.74 1176.81 1473.44 1178.02 1476.6 1181.81C1479.76 1185.6 1484.37 1192.75 1488.26 1197.85C1492.15 1202.95 1496.04 1208.06 1499.92 1212.43C1503.81 1216.8 1507.21 1220.2 1511.59 1224.09C1515.96 1227.98 1521.31 1232.26 1526.17 1235.76C1531.03 1239.25 1536.37 1242.41 1540.75 1245.09C1545.12 1247.76 1548.77 1249.61 1552.41 1251.79C1556.05 1253.98 1559.21 1256.51 1562.62 1258.21C1566.02 1259.91 1569.18 1260.78 1572.82 1262C1576.47 1263.21 1580.11 1264.62 1584.48 1265.5C1588.86 1266.37 1594.69 1267.05 1599.06 1267.25C1603.44 1267.44 1607.18 1266.86 1610.73 1266.66C1614.28 1266.47 1618.75 1266.18 1620.35 1266.08" fill="none" stroke="#c2379b" stroke-width="2.35" stroke-linejoin="round" stroke-linecap="round"/>
<path d="M1338.09 1244.5C1340.28 1245.09 1346.6 1246.93 1351.21 1248C1355.83 1249.07 1362.1 1250.38 1365.79 1250.92C1369.49 1251.45 1370.95 1251.4 1373.38 1251.21C1375.81 1251.02 1377.99 1250.87 1380.37 1249.75C1382.75 1248.63 1385.23 1246.84 1387.66 1244.5C1390.09 1242.17 1392.52 1239.64 1394.95 1235.76C1397.38 1231.87 1399.81 1227.01 1402.24 1221.18C1404.67 1215.34 1406.86 1208.54 1409.53 1200.77C1412.2 1192.99 1415.61 1181.81 1418.28 1174.52C1420.95 1167.23 1423.24 1161.3 1425.57 1157.03C1427.9 1152.75 1430.09 1150.32 1432.28 1148.86C1434.46 1147.4 1436.41 1147.65 1438.69 1148.28C1440.97 1148.91 1443.55 1150.47 1445.98 1152.65C1448.41 1154.84 1450.11 1156.78 1453.27 1161.4C1456.43 1166.02 1461.05 1173.79 1464.93 1180.35C1468.82 1186.92 1472.71 1194.2 1476.6 1200.77C1480.49 1207.33 1484.37 1214.13 1488.26 1219.72C1492.15 1225.31 1496.04 1230.07 1499.92 1234.3C1503.81 1238.53 1507.21 1241.68 1511.59 1245.09C1515.96 1248.49 1521.31 1251.65 1526.17 1254.71C1531.03 1257.77 1535.89 1261.03 1540.75 1263.46C1545.61 1265.89 1550.47 1267.49 1555.33 1269.29C1560.19 1271.09 1565.05 1272.3 1569.91 1274.25C1574.77 1276.19 1579.62 1279.11 1584.48 1280.95C1589.34 1282.8 1594.69 1284.21 1599.06 1285.33C1603.44 1286.44 1607.18 1287.03 1610.73 1287.66C1614.28 1288.29 1618.75 1288.87 1620.35 1289.12" fill="none" stroke="#2e3da0" stroke-width="2.35" stroke-linejoin="round" stroke-linecap="round"/>
<path d="M1338.09 1252.67C1340.28 1252.67 1346.6 1252.43 1351.21 1252.67C1355.83 1252.91 1362.1 1253.64 1365.79 1254.13C1369.49 1254.61 1370.95 1255 1373.38 1255.58C1375.81 1256.17 1377.99 1257.43 1380.37 1257.63C1382.75 1257.82 1385.23 1257.72 1387.66 1256.75C1390.09 1255.78 1392.52 1254.32 1394.95 1251.79C1397.38 1249.27 1399.81 1245.72 1402.24 1241.59C1404.67 1237.46 1406.86 1232.84 1409.53 1227.01C1412.2 1221.18 1415.36 1213.89 1418.28 1206.6C1421.2 1199.31 1424.11 1191.05 1427.03 1183.27C1429.94 1175.49 1432.86 1166.5 1435.77 1159.94C1438.69 1153.38 1441.61 1147.89 1444.52 1143.91C1447.44 1139.92 1450.55 1137.78 1453.27 1136.03C1455.99 1134.28 1457.94 1133.8 1460.85 1133.41C1463.77 1133.02 1467.66 1133.07 1470.77 1133.7C1473.88 1134.33 1476.11 1135.26 1479.51 1137.2C1482.91 1139.14 1487.29 1142.3 1491.18 1145.36C1495.06 1148.43 1498.95 1151.92 1502.84 1155.57C1506.73 1159.21 1510.62 1163.1 1514.5 1167.23C1518.39 1171.36 1522.28 1175.74 1526.17 1180.35C1530.05 1184.97 1533.94 1190.07 1537.83 1194.93C1541.72 1199.79 1545.36 1205.14 1549.49 1209.51C1553.62 1213.89 1558.73 1218.36 1562.62 1221.18C1566.5 1224 1569.18 1224.87 1572.82 1226.43C1576.47 1227.98 1580.11 1228.95 1584.48 1230.51C1588.86 1232.06 1594.69 1234.15 1599.06 1235.76C1603.44 1237.36 1607.18 1238.91 1610.73 1240.13C1614.28 1241.34 1618.75 1242.56 1620.35 1243.05" fill="none" stroke="#747474" stroke-width="2.35" stroke-linejoin="round" stroke-linecap="round"/>
<path d="M1338.09 1227.01C1339.79 1227.25 1344.65 1227.25 1348.3 1228.47C1351.94 1229.68 1355.78 1232.11 1359.96 1234.3C1364.14 1236.48 1369.97 1239.89 1373.38 1241.59C1376.78 1243.29 1377.99 1244.26 1380.37 1244.5C1382.75 1244.75 1385.23 1243.77 1387.66 1243.05C1390.09 1242.32 1392.52 1242.32 1394.95 1240.13C1397.38 1237.94 1399.81 1235.51 1402.24 1229.92C1404.67 1224.34 1406.86 1215.83 1409.53 1206.6C1412.2 1197.36 1415.36 1185.7 1418.28 1174.52C1421.2 1163.34 1424.6 1148.77 1427.03 1139.53C1429.46 1130.3 1430.92 1124.95 1432.86 1119.12C1434.8 1113.29 1436.5 1109.16 1438.69 1104.54C1440.88 1099.92 1443.55 1094.82 1445.98 1091.42C1448.41 1088.02 1450.79 1085.98 1453.27 1084.13C1455.75 1082.28 1458.42 1080.83 1460.85 1080.34C1463.28 1079.85 1465.23 1080.34 1467.85 1081.21C1470.47 1082.09 1473.2 1083.4 1476.6 1085.59C1480 1087.78 1484.37 1090.69 1488.26 1094.34C1492.15 1097.98 1496.04 1102.84 1499.92 1107.46C1503.81 1112.07 1507.7 1117.18 1511.59 1122.04C1515.48 1126.9 1519.36 1132 1523.25 1136.62C1527.14 1141.23 1531.03 1145.36 1534.91 1149.74C1538.8 1154.11 1542.69 1158.24 1546.58 1162.86C1550.47 1167.48 1554.35 1173.31 1558.24 1177.44C1562.13 1181.57 1565.77 1184.24 1569.91 1187.64C1574.04 1191.05 1580.11 1195.42 1583.03 1197.85C1585.94 1200.28 1584.73 1199.31 1587.4 1202.22C1590.07 1205.14 1595.18 1211.21 1599.06 1215.34C1602.95 1219.48 1607.18 1223.7 1610.73 1227.01C1614.28 1230.31 1618.75 1233.81 1620.35 1235.17" fill="none" stroke="#1a73c4" stroke-width="2.35" stroke-linejoin="round" stroke-linecap="round"/>
<path d="M1338.09 1229.34C1339.79 1229.68 1344.65 1230.22 1348.3 1231.38C1351.94 1232.55 1355.78 1234.49 1359.96 1236.34C1364.14 1238.19 1369.97 1241.59 1373.38 1242.46C1376.78 1243.34 1377.99 1243.43 1380.37 1241.59C1382.75 1239.74 1385.23 1236.48 1387.66 1231.38C1390.09 1226.28 1392.52 1219.48 1394.95 1210.97C1397.38 1202.47 1399.81 1191.53 1402.24 1180.35C1404.67 1169.18 1407.1 1155.81 1409.53 1143.91C1411.96 1132 1414.39 1119.61 1416.82 1108.92C1419.25 1098.22 1421.68 1087.63 1424.11 1079.76C1426.54 1071.88 1428.97 1065.08 1431.4 1061.68C1433.83 1058.28 1436.26 1058.28 1438.69 1059.35C1441.12 1060.41 1443.55 1063.48 1445.98 1068.09C1448.41 1072.71 1450.6 1080 1453.27 1087.05C1455.94 1094.09 1459.1 1102.35 1462.02 1110.37C1464.93 1118.39 1467.85 1126.9 1470.77 1135.16C1473.68 1143.42 1476.6 1151.92 1479.51 1159.94C1482.43 1167.96 1485.34 1176.47 1488.26 1183.27C1491.18 1190.07 1494.09 1195.66 1497.01 1200.77C1499.92 1205.87 1502.84 1210 1505.76 1213.89C1508.67 1217.77 1511.1 1220.45 1514.5 1224.09C1517.91 1227.74 1522.28 1232.35 1526.17 1235.76C1530.05 1239.16 1533.46 1241.34 1537.83 1244.5C1542.2 1247.66 1548.04 1251.79 1552.41 1254.71C1556.78 1257.63 1560.19 1260.05 1564.07 1262C1567.96 1263.94 1571.85 1265.16 1575.74 1266.37C1579.62 1267.59 1583.51 1268.41 1587.4 1269.29C1591.29 1270.16 1595.66 1271.09 1599.06 1271.62C1602.47 1272.16 1604.26 1272.5 1607.81 1272.5C1611.36 1272.5 1618.26 1271.77 1620.35 1271.62" fill="none" stroke="#3bab6c" stroke-width="2.35" stroke-linejoin="round" stroke-linecap="round"/>
<path d="M1338.09 1223.51C1340.28 1224.09 1346.6 1225.36 1351.21 1227.01C1355.83 1228.66 1362.1 1231.97 1365.79 1233.42C1369.49 1234.88 1370.95 1235.27 1373.38 1235.76C1375.81 1236.24 1377.99 1236.83 1380.37 1236.34C1382.75 1235.85 1385.23 1234.64 1387.66 1232.84C1390.09 1231.04 1392.52 1229.44 1394.95 1225.55C1397.38 1221.66 1399.81 1216.07 1402.24 1209.51C1404.67 1202.95 1406.86 1195.91 1409.53 1186.19C1412.2 1176.47 1415.36 1163.34 1418.28 1151.2C1421.2 1139.05 1424.11 1124.95 1427.03 1113.29C1429.94 1101.63 1432.86 1089.48 1435.77 1081.21C1438.69 1072.95 1441.61 1067.85 1444.52 1063.72C1447.44 1059.59 1450.55 1057.4 1453.27 1056.43C1455.99 1055.46 1458.42 1056.67 1460.85 1057.89C1463.28 1059.1 1465.23 1060.8 1467.85 1063.72C1470.47 1066.64 1473.2 1070.04 1476.6 1075.38C1480 1080.73 1484.37 1088.75 1488.26 1095.79C1492.15 1102.84 1496.04 1110.86 1499.92 1117.66C1503.81 1124.47 1507.7 1130.54 1511.59 1136.62C1515.48 1142.69 1519.36 1148.52 1523.25 1154.11C1527.14 1159.7 1532 1165.77 1534.91 1170.15C1537.83 1174.52 1537.83 1176.47 1540.75 1180.35C1543.66 1184.24 1548.52 1189.59 1552.41 1193.48C1556.3 1197.36 1560.19 1200.52 1564.07 1203.68C1567.96 1206.84 1571.85 1209.76 1575.74 1212.43C1579.62 1215.1 1583.51 1217.43 1587.4 1219.72C1591.29 1222 1595.18 1224.19 1599.06 1226.13C1602.95 1228.08 1607.18 1229.88 1610.73 1231.38C1614.28 1232.89 1618.75 1234.54 1620.35 1235.17" fill="none" stroke="#c4a600" stroke-width="2.35" stroke-linejoin="round" stroke-linecap="round"/>
<path d="M1338.09 1231.38C1341.25 1232.35 1351.17 1235.12 1357.05 1237.21C1362.93 1239.3 1369.49 1242.61 1373.38 1243.92C1377.26 1245.23 1377.99 1245.23 1380.37 1245.09C1382.75 1244.94 1385.23 1244.36 1387.66 1243.05C1390.09 1241.73 1392.52 1239.89 1394.95 1237.21C1397.38 1234.54 1399.81 1232.11 1402.24 1227.01C1404.67 1221.91 1406.86 1215.34 1409.53 1206.6C1412.2 1197.85 1415.36 1187.64 1418.28 1174.52C1421.2 1161.4 1424.11 1142.45 1427.03 1127.87C1429.94 1113.29 1432.86 1098.22 1435.77 1087.05C1438.69 1075.87 1441.61 1067.46 1444.52 1060.8C1447.44 1054.15 1450.55 1050.11 1453.27 1047.1C1455.99 1044.09 1458.42 1043.16 1460.85 1042.72C1463.28 1042.29 1465.47 1043.26 1467.85 1044.47C1470.23 1045.69 1472.71 1047.68 1475.14 1050.01C1477.57 1052.35 1479.27 1054.24 1482.43 1058.47C1485.59 1062.7 1490.2 1068.92 1494.09 1075.38C1497.98 1081.85 1501.87 1089.96 1505.76 1097.25C1509.64 1104.54 1513.53 1112.07 1517.42 1119.12C1521.31 1126.17 1525.2 1133.21 1529.08 1139.53C1532.97 1145.85 1536.86 1151.2 1540.75 1157.03C1544.63 1162.86 1548.52 1168.69 1552.41 1174.52C1556.3 1180.35 1560.19 1186.43 1564.07 1192.02C1567.96 1197.61 1571.85 1203.44 1575.74 1208.06C1579.62 1212.67 1583.51 1216.32 1587.4 1219.72C1591.29 1223.12 1595.18 1225.79 1599.06 1228.47C1602.95 1231.14 1607.18 1233.81 1610.73 1235.76C1614.28 1237.7 1618.75 1239.4 1620.35 1240.13" fill="none" stroke="#eb1c2d" stroke-width="2.35" stroke-linejoin="round" stroke-linecap="round"/>
<path d="M1537.8 1003.1h14" stroke="#eb1c2d" stroke-width="2.3"/>
<text transform="translate(1559.1 1007.7) scale(1.08 1)" font-size="13" stroke="#111" stroke-width="0.3">Rice</text>
<path d="M1537.8 1020.6h14" stroke="#c4a600" stroke-width="2.3"/>
<text transform="translate(1559.1 1025.2) scale(1.08 1)" font-size="13" stroke="#111" stroke-width="0.3">Potatoes</text>
<path d="M1537.8 1038h14" stroke="#747474" stroke-width="2.3"/>
<text transform="translate(1559.1 1042.6) scale(1.08 1)" font-size="13" stroke="#111" stroke-width="0.3">Pasta</text>
<path d="M1537.8 1055.3h14" stroke="#3bab6c" stroke-width="2.3"/>
<text transform="translate(1559.1 1059.9) scale(1.08 1)" font-size="13" stroke="#111" stroke-width="0.3">Grapes</text>
<path d="M1537.8 1072.8h14" stroke="#1a73c4" stroke-width="2.3"/>
<text transform="translate(1559.1 1077.4) scale(1.08 1)" font-size="13" stroke="#111" stroke-width="0.3">Bread</text>
<path d="M1537.8 1090.5h14" stroke="#2e3da0" stroke-width="2.3"/>
<text transform="translate(1559.1 1095.1) scale(1.08 1)" font-size="13" stroke="#111" stroke-width="0.3">Mixed berries</text>
<path d="M1537.8 1107.8h14" stroke="#c2379b" stroke-width="2.3"/>
<text transform="translate(1559.1 1112.4) scale(1.08 1)" font-size="13" stroke="#111" stroke-width="0.3">Beans</text>
<text transform="translate(1664.1 984.7)" font-size="19" font-weight="bold" fill="#000" stroke="#000" stroke-width="0.8">c</text>
<path d="M1745.7 982.3V1295.3H2064.7" fill="none" stroke="#555" stroke-width="1.1"/>
<path d="M1745.7 1295.3h-7M1745.7 1259.97h-7M1745.7 1224.64h-7M1745.7 1189.31h-7M1745.7 1153.98h-7M1745.7 1118.65h-7M1745.7 1083.32h-7M1745.7 1047.99h-7M1745.7 1012.66h-7M1768.2 1295.3v5.5M1813.5 1295.3v5.5M1858.3 1295.3v5.5M1903.8 1295.3v5.5M1949.2 1295.3v5.5M1994.3 1295.3v5.5M2036.2 1295.3v5.5" stroke="#555" stroke-width="1.1"/>
<text transform="translate(1733.2 1300.1) scale(1.08 1)" font-size="13.3" text-anchor="end" letter-spacing="0.1" stroke="#111" stroke-width="0.3">0</text>
<text transform="translate(1733.2 1264.77) scale(1.08 1)" font-size="13.3" text-anchor="end" letter-spacing="0.1" stroke="#111" stroke-width="0.3">2,000</text>
<text transform="translate(1733.2 1229.44) scale(1.08 1)" font-size="13.3" text-anchor="end" letter-spacing="0.1" stroke="#111" stroke-width="0.3">4,000</text>
<text transform="translate(1733.2 1194.11) scale(1.08 1)" font-size="13.3" text-anchor="end" letter-spacing="0.1" stroke="#111" stroke-width="0.3">6,000</text>
<text transform="translate(1733.2 1158.78) scale(1.08 1)" font-size="13.3" text-anchor="end" letter-spacing="0.1" stroke="#111" stroke-width="0.3">8,000</text>
<text transform="translate(1733.2 1123.45) scale(1.08 1)" font-size="13.3" text-anchor="end" letter-spacing="0.1" stroke="#111" stroke-width="0.3">10,000</text>
<text transform="translate(1733.2 1088.12) scale(1.08 1)" font-size="13.3" text-anchor="end" letter-spacing="0.1" stroke="#111" stroke-width="0.3">12,000</text>
<text transform="translate(1733.2 1052.79) scale(1.08 1)" font-size="13.3" text-anchor="end" letter-spacing="0.1" stroke="#111" stroke-width="0.3">14,000</text>
<text transform="translate(1733.2 1017.46) scale(1.08 1)" font-size="13.3" text-anchor="end" letter-spacing="0.1" stroke="#111" stroke-width="0.3">16,000</text>
<rect x="1757" y="1262.27" width="22.4" height="33.03" fill="#006cb2"/>
<text transform="translate(1772.8 1307.3) rotate(-90) scale(1.08 1)" font-size="13" text-anchor="end" stroke="#111" stroke-width="0.3">Mixed berries</text>
<rect x="1802.3" y="1261.91" width="22.4" height="33.39" fill="#006cb2"/>
<text transform="translate(1818.1 1307.3) rotate(-90) scale(1.08 1)" font-size="13" text-anchor="end" stroke="#111" stroke-width="0.3">Beans</text>
<rect x="1847.1" y="1240.98" width="22.4" height="54.32" fill="#006cb2"/>
<text transform="translate(1862.9 1307.3) rotate(-90) scale(1.08 1)" font-size="13" text-anchor="end" stroke="#111" stroke-width="0.3">Grapes</text>
<rect x="1892.6" y="1237.36" width="22.4" height="57.94" fill="#006cb2"/>
<text transform="translate(1908.4 1307.3) rotate(-90) scale(1.08 1)" font-size="13" text-anchor="end" stroke="#111" stroke-width="0.3">Pasta</text>
<rect x="1938" y="1222.34" width="22.4" height="72.96" fill="#006cb2"/>
<text transform="translate(1953.8 1307.3) rotate(-90) scale(1.08 1)" font-size="13" text-anchor="end" stroke="#111" stroke-width="0.3">Potatoes</text>
<rect x="1983.1" y="1219.69" width="22.4" height="75.61" fill="#006cb2"/>
<text transform="translate(1998.9 1307.3) rotate(-90) scale(1.08 1)" font-size="13" text-anchor="end" stroke="#111" stroke-width="0.3">Bread</text>
<rect x="2025" y="1208.39" width="22.4" height="86.91" fill="#006cb2"/>
<text transform="translate(2040.8 1307.3) rotate(-90) scale(1.08 1)" font-size="13" text-anchor="end" stroke="#111" stroke-width="0.3">Rice</text>
<g fill="#0c0c0c"><circle cx="1772.41" cy="1268.52" r="2.8"/><circle cx="1769.11" cy="1265.45" r="2.8"/><circle cx="1764.25" cy="1281.06" r="2.8"/><circle cx="1769.09" cy="1257.2" r="2.8"/><circle cx="1764.26" cy="1285.56" r="2.8"/><circle cx="1774.7" cy="1285.76" r="2.8"/><circle cx="1771.62" cy="1255.2" r="2.8"/><circle cx="1770.15" cy="1264.23" r="2.8"/><circle cx="1768.13" cy="1280.8" r="2.8"/><circle cx="1762.82" cy="1289.9" r="2.8"/><circle cx="1768.26" cy="1269.14" r="2.8"/><circle cx="1764.4" cy="1264.79" r="2.8"/><circle cx="1770.21" cy="1265.92" r="2.8"/><circle cx="1762.83" cy="1268.26" r="2.8"/><circle cx="1766.15" cy="1275.17" r="2.8"/><circle cx="1771.89" cy="1276.35" r="2.8"/><circle cx="1773.04" cy="1286.79" r="2.8"/><circle cx="1765.41" cy="1285.96" r="2.8"/><circle cx="1764.46" cy="1284.29" r="2.8"/><circle cx="1770.97" cy="1285.18" r="2.8"/><circle cx="1770.9" cy="1262.28" r="2.8"/><circle cx="1765.94" cy="1280.78" r="2.8"/><circle cx="1766.73" cy="1283.63" r="2.8"/><circle cx="1766.73" cy="1284.36" r="2.8"/><circle cx="1765.39" cy="1279.77" r="2.8"/><circle cx="1766.76" cy="1275.67" r="2.8"/><circle cx="1771.98" cy="1279.87" r="2.8"/><circle cx="1770.46" cy="1285.22" r="2.8"/><circle cx="1774.15" cy="1279.75" r="2.8"/><circle cx="1768.37" cy="1276.03" r="2.8"/><circle cx="1768.23" cy="1285.79" r="2.8"/><circle cx="1765.95" cy="1278.42" r="2.8"/><circle cx="1768.27" cy="1272.55" r="2.8"/><circle cx="1765.05" cy="1261.26" r="2.8"/><circle cx="1763.8" cy="1281.14" r="2.8"/><circle cx="1770.48" cy="1278.13" r="2.8"/><circle cx="1772.49" cy="1280.51" r="2.8"/><circle cx="1770.86" cy="1270.12" r="2.8"/><circle cx="1772.2" cy="1289.17" r="2.8"/><circle cx="1769.28" cy="1278.62" r="2.8"/><circle cx="1766.66" cy="1277.79" r="2.8"/><circle cx="1768.83" cy="1259.73" r="2.8"/><circle cx="1767.59" cy="1281.49" r="2.8"/><circle cx="1765.6" cy="1287.06" r="2.8"/><circle cx="1764.03" cy="1262.28" r="2.8"/><circle cx="1764.6" cy="1258.41" r="2.8"/><circle cx="1768.59" cy="1291.29" r="2.8"/><circle cx="1769.01" cy="1268.87" r="2.8"/><circle cx="1767.32" cy="1270.82" r="2.8"/><circle cx="1772.46" cy="1266.22" r="2.8"/><circle cx="1769.08" cy="1261.37" r="2.8"/><circle cx="1770.17" cy="1271.89" r="2.8"/><circle cx="1771.89" cy="1266.38" r="2.8"/><circle cx="1766.39" cy="1253.76" r="2.8"/><circle cx="1763.28" cy="1251.62" r="2.8"/><circle cx="1770.63" cy="1259.35" r="2.8"/><circle cx="1766.74" cy="1258.53" r="2.8"/><circle cx="1772.14" cy="1261.08" r="2.8"/><circle cx="1769.51" cy="1271.68" r="2.8"/><circle cx="1771.32" cy="1274.19" r="2.8"/><circle cx="1770.66" cy="1274.6" r="2.8"/><circle cx="1762.98" cy="1253.3" r="2.8"/><circle cx="1770.54" cy="1258.29" r="2.8"/><circle cx="1766.78" cy="1252.04" r="2.8"/><circle cx="1770.1" cy="1201.15" r="2.8"/><circle cx="1765.1" cy="1207.33" r="2.8"/><circle cx="1770.1" cy="1209.89" r="2.8"/><circle cx="1767" cy="1225.52" r="2.8"/><circle cx="1769.1" cy="1230.12" r="2.8"/><circle cx="1770.7" cy="1237.36" r="2.8"/><circle cx="1767.3" cy="1240.54" r="2.8"/><circle cx="1766.3" cy="1246.19" r="2.8"/><circle cx="1763.8" cy="1249.37" r="2.8"/><circle cx="1770.1" cy="1248.66" r="2.8"/><circle cx="1814.57" cy="1263.07" r="2.8"/><circle cx="1815.72" cy="1284.78" r="2.8"/><circle cx="1812.98" cy="1252.22" r="2.8"/><circle cx="1811.7" cy="1278.72" r="2.8"/><circle cx="1811.59" cy="1270.79" r="2.8"/><circle cx="1816.86" cy="1281.38" r="2.8"/><circle cx="1817.36" cy="1259.98" r="2.8"/><circle cx="1816.58" cy="1277.07" r="2.8"/><circle cx="1816.21" cy="1252.49" r="2.8"/><circle cx="1816.15" cy="1277.34" r="2.8"/><circle cx="1813.89" cy="1270.57" r="2.8"/><circle cx="1815.69" cy="1259.71" r="2.8"/><circle cx="1811.06" cy="1259.65" r="2.8"/><circle cx="1813.35" cy="1254.93" r="2.8"/><circle cx="1811.92" cy="1269.52" r="2.8"/><circle cx="1815.86" cy="1292.63" r="2.8"/><circle cx="1812.33" cy="1251.9" r="2.8"/><circle cx="1813.61" cy="1278.91" r="2.8"/><circle cx="1814.98" cy="1253.67" r="2.8"/><circle cx="1817.56" cy="1260.84" r="2.8"/><circle cx="1811.76" cy="1273.57" r="2.8"/><circle cx="1811.37" cy="1285.07" r="2.8"/><circle cx="1816.11" cy="1260" r="2.8"/><circle cx="1810.91" cy="1274.34" r="2.8"/><circle cx="1815.12" cy="1257.91" r="2.8"/><circle cx="1812.36" cy="1258.72" r="2.8"/><circle cx="1813.61" cy="1281.41" r="2.8"/><circle cx="1808.98" cy="1266.02" r="2.8"/><circle cx="1815.83" cy="1276.85" r="2.8"/><circle cx="1812.55" cy="1287.4" r="2.8"/><circle cx="1811.47" cy="1265.21" r="2.8"/><circle cx="1819.51" cy="1268.86" r="2.8"/><circle cx="1815.82" cy="1276.21" r="2.8"/><circle cx="1820" cy="1284.58" r="2.8"/><circle cx="1815" cy="1267.23" r="2.8"/><circle cx="1812.96" cy="1281.06" r="2.8"/><circle cx="1814.19" cy="1278.15" r="2.8"/><circle cx="1818.24" cy="1258.94" r="2.8"/><circle cx="1813.83" cy="1277.23" r="2.8"/><circle cx="1815.12" cy="1281.62" r="2.8"/><circle cx="1815.29" cy="1263.75" r="2.8"/><circle cx="1811.44" cy="1266.09" r="2.8"/><circle cx="1814.25" cy="1261.52" r="2.8"/><circle cx="1812.54" cy="1273.23" r="2.8"/><circle cx="1810.54" cy="1264.41" r="2.8"/><circle cx="1816.25" cy="1265.92" r="2.8"/><circle cx="1815.7" cy="1253.03" r="2.8"/><circle cx="1814.1" cy="1253.81" r="2.8"/><circle cx="1811.45" cy="1269.13" r="2.8"/><circle cx="1808.48" cy="1264.35" r="2.8"/><circle cx="1815.21" cy="1272.46" r="2.8"/><circle cx="1813.64" cy="1265.28" r="2.8"/><circle cx="1809.35" cy="1256.33" r="2.8"/><circle cx="1813.74" cy="1254.35" r="2.8"/><circle cx="1809.79" cy="1264.27" r="2.8"/><circle cx="1813.83" cy="1268" r="2.8"/><circle cx="1814.29" cy="1270.95" r="2.8"/><circle cx="1814.86" cy="1260.96" r="2.8"/><circle cx="1814.49" cy="1253.77" r="2.8"/><circle cx="1814.36" cy="1272.4" r="2.8"/><circle cx="1810.82" cy="1257.19" r="2.8"/><circle cx="1812.86" cy="1274.89" r="2.8"/><circle cx="1815.6" cy="1216.78" r="2.8"/><circle cx="1814.7" cy="1218.63" r="2.8"/><circle cx="1813.7" cy="1221.11" r="2.8"/><circle cx="1812.3" cy="1224.9" r="2.8"/><circle cx="1817.5" cy="1225.17" r="2.8"/><circle cx="1815.4" cy="1231.18" r="2.8"/><circle cx="1814" cy="1235.24" r="2.8"/><circle cx="1811.3" cy="1240.54" r="2.8"/><circle cx="1808.5" cy="1243.36" r="2.8"/><circle cx="1816.9" cy="1246.37" r="2.8"/><circle cx="1811.9" cy="1249.9" r="2.8"/><circle cx="1811.5" cy="1294.95" r="2.8"/><circle cx="1815" cy="1295.3" r="2.8"/><circle cx="1813" cy="1294.24" r="2.8"/><circle cx="1816.5" cy="1293" r="2.8"/><circle cx="1859.65" cy="1237.99" r="2.8"/><circle cx="1856.29" cy="1268.46" r="2.8"/><circle cx="1854.08" cy="1279.5" r="2.8"/><circle cx="1852.02" cy="1247.65" r="2.8"/><circle cx="1857.15" cy="1258.02" r="2.8"/><circle cx="1861.73" cy="1243.07" r="2.8"/><circle cx="1858.55" cy="1234.63" r="2.8"/><circle cx="1852.62" cy="1268.71" r="2.8"/><circle cx="1856.37" cy="1267.65" r="2.8"/><circle cx="1859.84" cy="1243.31" r="2.8"/><circle cx="1863.22" cy="1231.4" r="2.8"/><circle cx="1861.85" cy="1234.77" r="2.8"/><circle cx="1859.69" cy="1262.99" r="2.8"/><circle cx="1859.23" cy="1256.93" r="2.8"/><circle cx="1855.84" cy="1288.08" r="2.8"/><circle cx="1857.48" cy="1230.29" r="2.8"/><circle cx="1857.8" cy="1264.9" r="2.8"/><circle cx="1856.61" cy="1241.44" r="2.8"/><circle cx="1858.87" cy="1233.02" r="2.8"/><circle cx="1857.64" cy="1263.11" r="2.8"/><circle cx="1859.61" cy="1280.91" r="2.8"/><circle cx="1862.57" cy="1254.41" r="2.8"/><circle cx="1860.7" cy="1263.53" r="2.8"/><circle cx="1859.83" cy="1239.83" r="2.8"/><circle cx="1858.05" cy="1234.99" r="2.8"/><circle cx="1854.6" cy="1281.62" r="2.8"/><circle cx="1858.39" cy="1270.38" r="2.8"/><circle cx="1860.17" cy="1269.65" r="2.8"/><circle cx="1855.98" cy="1233.49" r="2.8"/><circle cx="1862.09" cy="1242.02" r="2.8"/><circle cx="1857.8" cy="1255.17" r="2.8"/><circle cx="1859.7" cy="1261.16" r="2.8"/><circle cx="1857.81" cy="1263.95" r="2.8"/><circle cx="1855.31" cy="1270.65" r="2.8"/><circle cx="1864.28" cy="1253.34" r="2.8"/><circle cx="1855.56" cy="1278.2" r="2.8"/><circle cx="1861.18" cy="1250.27" r="2.8"/><circle cx="1857.2" cy="1242.34" r="2.8"/><circle cx="1859.45" cy="1234.33" r="2.8"/><circle cx="1856.52" cy="1232" r="2.8"/><circle cx="1857.58" cy="1267.01" r="2.8"/><circle cx="1861.18" cy="1241.9" r="2.8"/><circle cx="1863.95" cy="1249.21" r="2.8"/><circle cx="1856.41" cy="1248.18" r="2.8"/><circle cx="1858.73" cy="1236.61" r="2.8"/><circle cx="1861.26" cy="1274.26" r="2.8"/><circle cx="1857" cy="1255.64" r="2.8"/><circle cx="1860.62" cy="1235.62" r="2.8"/><circle cx="1856.58" cy="1263.67" r="2.8"/><circle cx="1860.33" cy="1262.07" r="2.8"/><circle cx="1859.88" cy="1232.11" r="2.8"/><circle cx="1861.97" cy="1240.63" r="2.8"/><circle cx="1859.68" cy="1262.89" r="2.8"/><circle cx="1855.48" cy="1242.46" r="2.8"/><circle cx="1860.49" cy="1246.81" r="2.8"/><circle cx="1855.73" cy="1244.03" r="2.8"/><circle cx="1860.73" cy="1252.96" r="2.8"/><circle cx="1862.78" cy="1249.31" r="2.8"/><circle cx="1860.31" cy="1258.59" r="2.8"/><circle cx="1857.21" cy="1253.98" r="2.8"/><circle cx="1861.92" cy="1240.09" r="2.8"/><circle cx="1859.15" cy="1236.84" r="2.8"/><circle cx="1855.34" cy="1263.31" r="2.8"/><circle cx="1857.74" cy="1261.74" r="2.8"/><circle cx="1862.53" cy="1237.86" r="2.8"/><circle cx="1857.88" cy="1244.28" r="2.8"/><circle cx="1859.03" cy="1239.26" r="2.8"/><circle cx="1857.77" cy="1258.5" r="2.8"/><circle cx="1854.15" cy="1251.19" r="2.8"/><circle cx="1857.32" cy="1256.95" r="2.8"/><circle cx="1861" cy="1137.2" r="2.8"/><circle cx="1854.8" cy="1147" r="2.8"/><circle cx="1859.8" cy="1147.44" r="2.8"/><circle cx="1861.5" cy="1155.13" r="2.8"/><circle cx="1860.7" cy="1172" r="2.8"/><circle cx="1859.8" cy="1182.16" r="2.8"/><circle cx="1863.2" cy="1188.25" r="2.8"/><circle cx="1858.8" cy="1193.64" r="2.8"/><circle cx="1858.2" cy="1197.44" r="2.8"/><circle cx="1857.6" cy="1200.53" r="2.8"/><circle cx="1860.7" cy="1202.38" r="2.8"/><circle cx="1855.7" cy="1203.62" r="2.8"/><circle cx="1856.3" cy="1211.74" r="2.8"/><circle cx="1858.8" cy="1214.22" r="2.8"/><circle cx="1857.6" cy="1219.87" r="2.8"/><circle cx="1861" cy="1223.05" r="2.8"/><circle cx="1853.8" cy="1228.61" r="2.8"/><circle cx="1902.53" cy="1281.6" r="2.8"/><circle cx="1902.71" cy="1281.55" r="2.8"/><circle cx="1901.81" cy="1276.62" r="2.8"/><circle cx="1906.56" cy="1231.38" r="2.8"/><circle cx="1903.47" cy="1270.9" r="2.8"/><circle cx="1906.54" cy="1246.55" r="2.8"/><circle cx="1901.08" cy="1257.88" r="2.8"/><circle cx="1906.71" cy="1249.27" r="2.8"/><circle cx="1904.13" cy="1246.32" r="2.8"/><circle cx="1906" cy="1255.74" r="2.8"/><circle cx="1903.92" cy="1259.37" r="2.8"/><circle cx="1901.8" cy="1272.08" r="2.8"/><circle cx="1907.47" cy="1265.69" r="2.8"/><circle cx="1903.02" cy="1284.01" r="2.8"/><circle cx="1903.8" cy="1278.94" r="2.8"/><circle cx="1901.81" cy="1283.69" r="2.8"/><circle cx="1904.75" cy="1239.79" r="2.8"/><circle cx="1903.15" cy="1273.54" r="2.8"/><circle cx="1904.96" cy="1269.82" r="2.8"/><circle cx="1905.13" cy="1238.52" r="2.8"/><circle cx="1902.34" cy="1273.51" r="2.8"/><circle cx="1900.39" cy="1274.44" r="2.8"/><circle cx="1905.37" cy="1264.24" r="2.8"/><circle cx="1906.68" cy="1268" r="2.8"/><circle cx="1906.08" cy="1243.89" r="2.8"/><circle cx="1901.11" cy="1250.3" r="2.8"/><circle cx="1905.83" cy="1285.04" r="2.8"/><circle cx="1905.24" cy="1245.95" r="2.8"/><circle cx="1904.97" cy="1266.97" r="2.8"/><circle cx="1905.36" cy="1230.13" r="2.8"/><circle cx="1903.33" cy="1290.69" r="2.8"/><circle cx="1904.78" cy="1259.68" r="2.8"/><circle cx="1906.7" cy="1275.59" r="2.8"/><circle cx="1902.84" cy="1263.49" r="2.8"/><circle cx="1900.31" cy="1233.07" r="2.8"/><circle cx="1903.92" cy="1267.56" r="2.8"/><circle cx="1904.73" cy="1276.1" r="2.8"/><circle cx="1899.22" cy="1293.72" r="2.8"/><circle cx="1902.37" cy="1281.75" r="2.8"/><circle cx="1905.79" cy="1250.53" r="2.8"/><circle cx="1903.79" cy="1244.31" r="2.8"/><circle cx="1904.45" cy="1275.57" r="2.8"/><circle cx="1900.8" cy="1264.26" r="2.8"/><circle cx="1906.65" cy="1282.35" r="2.8"/><circle cx="1908.94" cy="1251.7" r="2.8"/><circle cx="1903.66" cy="1260.61" r="2.8"/><circle cx="1902.22" cy="1260.44" r="2.8"/><circle cx="1901.07" cy="1249.9" r="2.8"/><circle cx="1906.6" cy="1247.44" r="2.8"/><circle cx="1904.48" cy="1228.99" r="2.8"/><circle cx="1902.06" cy="1234" r="2.8"/><circle cx="1907.48" cy="1240.42" r="2.8"/><circle cx="1906.26" cy="1263.85" r="2.8"/><circle cx="1905.83" cy="1250.53" r="2.8"/><circle cx="1899.45" cy="1238.37" r="2.8"/><circle cx="1903.92" cy="1255.63" r="2.8"/><circle cx="1905.89" cy="1243.7" r="2.8"/><circle cx="1900.89" cy="1247.57" r="2.8"/><circle cx="1906.71" cy="1263.92" r="2.8"/><circle cx="1908.06" cy="1228.09" r="2.8"/><circle cx="1906.99" cy="1235.11" r="2.8"/><circle cx="1902.25" cy="1256.75" r="2.8"/><circle cx="1902.3" cy="1117.68" r="2.8"/><circle cx="1908.6" cy="1137.37" r="2.8"/><circle cx="1906.6" cy="1140.55" r="2.8"/><circle cx="1905.7" cy="1166.17" r="2.8"/><circle cx="1904.8" cy="1167.67" r="2.8"/><circle cx="1905.3" cy="1178.89" r="2.8"/><circle cx="1903.8" cy="1185.51" r="2.8"/><circle cx="1904.4" cy="1189.84" r="2.8"/><circle cx="1903.8" cy="1194.26" r="2.8"/><circle cx="1904" cy="1208.92" r="2.8"/><circle cx="1907.3" cy="1210.86" r="2.8"/><circle cx="1904.8" cy="1218.63" r="2.8"/><circle cx="1900.1" cy="1221.73" r="2.8"/><circle cx="1902.6" cy="1224.29" r="2.8"/><circle cx="1901.3" cy="1295.3" r="2.8"/><circle cx="1904.3" cy="1295.12" r="2.8"/><circle cx="1905.8" cy="1289.12" r="2.8"/><circle cx="1907.3" cy="1286.82" r="2.8"/><circle cx="1949.27" cy="1241.64" r="2.8"/><circle cx="1948.19" cy="1262.6" r="2.8"/><circle cx="1947.48" cy="1256.74" r="2.8"/><circle cx="1943.6" cy="1209.59" r="2.8"/><circle cx="1948.57" cy="1269.79" r="2.8"/><circle cx="1949.97" cy="1216.79" r="2.8"/><circle cx="1949.99" cy="1243.91" r="2.8"/><circle cx="1951.88" cy="1240.79" r="2.8"/><circle cx="1949.16" cy="1264.63" r="2.8"/><circle cx="1947.87" cy="1263.29" r="2.8"/><circle cx="1950.43" cy="1221.05" r="2.8"/><circle cx="1951.4" cy="1218.91" r="2.8"/><circle cx="1947.16" cy="1264.79" r="2.8"/><circle cx="1945.5" cy="1247.81" r="2.8"/><circle cx="1946.83" cy="1252.42" r="2.8"/><circle cx="1952.46" cy="1220.5" r="2.8"/><circle cx="1952.3" cy="1278.53" r="2.8"/><circle cx="1947.21" cy="1238.77" r="2.8"/><circle cx="1949.9" cy="1256.51" r="2.8"/><circle cx="1951.86" cy="1262.46" r="2.8"/><circle cx="1953.19" cy="1217.72" r="2.8"/><circle cx="1947.82" cy="1223.92" r="2.8"/><circle cx="1948.95" cy="1217.91" r="2.8"/><circle cx="1953.4" cy="1207.32" r="2.8"/><circle cx="1955.7" cy="1229.6" r="2.8"/><circle cx="1953.73" cy="1210.09" r="2.8"/><circle cx="1946.52" cy="1227.84" r="2.8"/><circle cx="1950.81" cy="1236.02" r="2.8"/><circle cx="1948.79" cy="1218.18" r="2.8"/><circle cx="1949.44" cy="1223.18" r="2.8"/><circle cx="1947.81" cy="1233.63" r="2.8"/><circle cx="1948.3" cy="1244.73" r="2.8"/><circle cx="1949.57" cy="1214.49" r="2.8"/><circle cx="1954.47" cy="1264.58" r="2.8"/><circle cx="1951.49" cy="1225.93" r="2.8"/><circle cx="1950.75" cy="1274.62" r="2.8"/><circle cx="1949.67" cy="1223.15" r="2.8"/><circle cx="1947.57" cy="1246.11" r="2.8"/><circle cx="1948.98" cy="1252.9" r="2.8"/><circle cx="1952.95" cy="1234.75" r="2.8"/><circle cx="1951.84" cy="1254.29" r="2.8"/><circle cx="1954.9" cy="1218.07" r="2.8"/><circle cx="1950.3" cy="1267.75" r="2.8"/><circle cx="1949.55" cy="1264.65" r="2.8"/><circle cx="1945.23" cy="1252.12" r="2.8"/><circle cx="1950.67" cy="1244.33" r="2.8"/><circle cx="1944.95" cy="1237.21" r="2.8"/><circle cx="1953.72" cy="1215.58" r="2.8"/><circle cx="1947.9" cy="1278.73" r="2.8"/><circle cx="1949.6" cy="1245.96" r="2.8"/><circle cx="1945.95" cy="1229.3" r="2.8"/><circle cx="1948.26" cy="1247.16" r="2.8"/><circle cx="1947.09" cy="1213.57" r="2.8"/><circle cx="1952.65" cy="1246.4" r="2.8"/><circle cx="1950.27" cy="1216.33" r="2.8"/><circle cx="1946.41" cy="1238.98" r="2.8"/><circle cx="1944.39" cy="1233.44" r="2.8"/><circle cx="1949.42" cy="1247.51" r="2.8"/><circle cx="1948.29" cy="1214.37" r="2.8"/><circle cx="1946.6" cy="1208.96" r="2.8"/><circle cx="1951.19" cy="1246.1" r="2.8"/><circle cx="1949.1" cy="1225.95" r="2.8"/><circle cx="1949.9" cy="1246.59" r="2.8"/><circle cx="1948.01" cy="1214.35" r="2.8"/><circle cx="1948.06" cy="1253.21" r="2.8"/><circle cx="1948.36" cy="1250.59" r="2.8"/><circle cx="1945.27" cy="1221.58" r="2.8"/><circle cx="1951.3" cy="1240.9" r="2.8"/><circle cx="1950.69" cy="1213.41" r="2.8"/><circle cx="1944.95" cy="1214.85" r="2.8"/><circle cx="1945.3" cy="1100.9" r="2.8"/><circle cx="1949.5" cy="1107.52" r="2.8"/><circle cx="1950.9" cy="1133.84" r="2.8"/><circle cx="1951.2" cy="1136.14" r="2.8"/><circle cx="1948.2" cy="1141.88" r="2.8"/><circle cx="1948.1" cy="1149.92" r="2.8"/><circle cx="1950.6" cy="1155.75" r="2.8"/><circle cx="1947" cy="1159.28" r="2.8"/><circle cx="1951.8" cy="1159.63" r="2.8"/><circle cx="1949.4" cy="1164.58" r="2.8"/><circle cx="1947.6" cy="1169.88" r="2.8"/><circle cx="1952.1" cy="1173.41" r="2.8"/><circle cx="1948.8" cy="1175.18" r="2.8"/><circle cx="1950.4" cy="1182.24" r="2.8"/><circle cx="1946.2" cy="1184.01" r="2.8"/><circle cx="1952.4" cy="1189.31" r="2.8"/><circle cx="1948.2" cy="1192.84" r="2.8"/><circle cx="1951.1" cy="1196.38" r="2.8"/><circle cx="1946.6" cy="1199.91" r="2.8"/><circle cx="1949.8" cy="1203.44" r="2.8"/><circle cx="1950.7" cy="1290" r="2.8"/><circle cx="1951" cy="1285.41" r="2.8"/><circle cx="1998.46" cy="1256.13" r="2.8"/><circle cx="1995.28" cy="1257.57" r="2.8"/><circle cx="1990.2" cy="1229.18" r="2.8"/><circle cx="1992.72" cy="1216.35" r="2.8"/><circle cx="1996.95" cy="1219.79" r="2.8"/><circle cx="1994.35" cy="1261.67" r="2.8"/><circle cx="1991.8" cy="1284.28" r="2.8"/><circle cx="1989.39" cy="1236.41" r="2.8"/><circle cx="1995.57" cy="1253.52" r="2.8"/><circle cx="1998.74" cy="1274.11" r="2.8"/><circle cx="1991.33" cy="1220.31" r="2.8"/><circle cx="1988.88" cy="1265.21" r="2.8"/><circle cx="1996.04" cy="1278.88" r="2.8"/><circle cx="1993.25" cy="1212.66" r="2.8"/><circle cx="1993.91" cy="1253.35" r="2.8"/><circle cx="1993.83" cy="1271.96" r="2.8"/><circle cx="1992.28" cy="1262.54" r="2.8"/><circle cx="1995.88" cy="1263.76" r="2.8"/><circle cx="1997.17" cy="1275.77" r="2.8"/><circle cx="1995.68" cy="1243.64" r="2.8"/><circle cx="1993.21" cy="1230.28" r="2.8"/><circle cx="1997.49" cy="1234.16" r="2.8"/><circle cx="1994.4" cy="1279.45" r="2.8"/><circle cx="1996.26" cy="1240.77" r="2.8"/><circle cx="1992.19" cy="1237.49" r="2.8"/><circle cx="1996.46" cy="1280.42" r="2.8"/><circle cx="1996.7" cy="1256.72" r="2.8"/><circle cx="1998.16" cy="1222.59" r="2.8"/><circle cx="1994.78" cy="1233.47" r="2.8"/><circle cx="1995.89" cy="1243.69" r="2.8"/><circle cx="1993.16" cy="1279.37" r="2.8"/><circle cx="1997.07" cy="1207.96" r="2.8"/><circle cx="1996.78" cy="1245.75" r="2.8"/><circle cx="1997.6" cy="1240.77" r="2.8"/><circle cx="1993.67" cy="1241.97" r="2.8"/><circle cx="1991.43" cy="1258.14" r="2.8"/><circle cx="1994.52" cy="1261.31" r="2.8"/><circle cx="1994.15" cy="1263.34" r="2.8"/><circle cx="1992.71" cy="1258.23" r="2.8"/><circle cx="1996.32" cy="1249.12" r="2.8"/><circle cx="1997.24" cy="1241.78" r="2.8"/><circle cx="1995.76" cy="1261.47" r="2.8"/><circle cx="1997.67" cy="1240.76" r="2.8"/><circle cx="1995.76" cy="1243.98" r="2.8"/><circle cx="1992.09" cy="1247.81" r="2.8"/><circle cx="1993.14" cy="1272.65" r="2.8"/><circle cx="1993.76" cy="1247.5" r="2.8"/><circle cx="1996.54" cy="1226.73" r="2.8"/><circle cx="1997.17" cy="1240.66" r="2.8"/><circle cx="1995.07" cy="1279.16" r="2.8"/><circle cx="1997.41" cy="1216.56" r="2.8"/><circle cx="1992.51" cy="1248.76" r="2.8"/><circle cx="1994.4" cy="1230.09" r="2.8"/><circle cx="1998.7" cy="1249.19" r="2.8"/><circle cx="1995.89" cy="1222.48" r="2.8"/><circle cx="1997.5" cy="1243.36" r="2.8"/><circle cx="1989.67" cy="1221.59" r="2.8"/><circle cx="1990.25" cy="1224.37" r="2.8"/><circle cx="1992.4" cy="1248.66" r="2.8"/><circle cx="1997.39" cy="1245.97" r="2.8"/><circle cx="1999.04" cy="1242.43" r="2.8"/><circle cx="1993.06" cy="1222.19" r="2.8"/><circle cx="1992.08" cy="1236.58" r="2.8"/><circle cx="1992" cy="1237.46" r="2.8"/><circle cx="1992.33" cy="1215.02" r="2.8"/><circle cx="1996.19" cy="1244.97" r="2.8"/><circle cx="1993.87" cy="1241.88" r="2.8"/><circle cx="1999.71" cy="1239.41" r="2.8"/><circle cx="1996.63" cy="1245.45" r="2.8"/><circle cx="1992.88" cy="1253.65" r="2.8"/><circle cx="1997.5" cy="996.89" r="2.8"/><circle cx="1996.6" cy="1100.9" r="2.8"/><circle cx="2000.6" cy="1110.88" r="2.8"/><circle cx="1993.2" cy="1125.89" r="2.8"/><circle cx="1996.9" cy="1126.25" r="2.8"/><circle cx="1995.1" cy="1131.9" r="2.8"/><circle cx="1996.1" cy="1135.26" r="2.8"/><circle cx="1990.1" cy="1139.23" r="2.8"/><circle cx="1994.7" cy="1153.98" r="2.8"/><circle cx="1996.3" cy="1161.05" r="2.8"/><circle cx="1996.7" cy="1161.93" r="2.8"/><circle cx="2000.8" cy="1167.23" r="2.8"/><circle cx="1995.8" cy="1173.41" r="2.8"/><circle cx="1995.5" cy="1176.94" r="2.8"/><circle cx="1995.1" cy="1182.24" r="2.8"/><circle cx="1994.5" cy="1189.31" r="2.8"/><circle cx="1991.9" cy="1191.08" r="2.8"/><circle cx="1997.9" cy="1194.61" r="2.8"/><circle cx="1990.9" cy="1198.14" r="2.8"/><circle cx="1993.8" cy="1201.68" r="2.8"/><circle cx="1998.5" cy="1204.33" r="2.8"/><circle cx="1991.3" cy="1293.53" r="2.8"/><circle cx="2037.78" cy="1257.49" r="2.8"/><circle cx="2037.53" cy="1237.8" r="2.8"/><circle cx="2034.91" cy="1250.61" r="2.8"/><circle cx="2038.92" cy="1228.44" r="2.8"/><circle cx="2039.79" cy="1216.62" r="2.8"/><circle cx="2036.79" cy="1209.4" r="2.8"/><circle cx="2034.65" cy="1207.61" r="2.8"/><circle cx="2037.96" cy="1233.67" r="2.8"/><circle cx="2030.12" cy="1237.29" r="2.8"/><circle cx="2035.06" cy="1254.52" r="2.8"/><circle cx="2038.16" cy="1216.99" r="2.8"/><circle cx="2041.94" cy="1231.16" r="2.8"/><circle cx="2034.65" cy="1245.59" r="2.8"/><circle cx="2040.68" cy="1236.03" r="2.8"/><circle cx="2042.7" cy="1214.03" r="2.8"/><circle cx="2041.63" cy="1262.08" r="2.8"/><circle cx="2030.33" cy="1260.58" r="2.8"/><circle cx="2039.54" cy="1254.15" r="2.8"/><circle cx="2037.12" cy="1243.74" r="2.8"/><circle cx="2039.32" cy="1235.07" r="2.8"/><circle cx="2036.14" cy="1206.65" r="2.8"/><circle cx="2034.97" cy="1258.89" r="2.8"/><circle cx="2036.01" cy="1203.98" r="2.8"/><circle cx="2040.62" cy="1196.62" r="2.8"/><circle cx="2038.85" cy="1271.2" r="2.8"/><circle cx="2035.83" cy="1259.81" r="2.8"/><circle cx="2037.63" cy="1240.25" r="2.8"/><circle cx="2038.92" cy="1235.48" r="2.8"/><circle cx="2038.13" cy="1210.17" r="2.8"/><circle cx="2036.5" cy="1230.73" r="2.8"/><circle cx="2034.86" cy="1240.5" r="2.8"/><circle cx="2034.63" cy="1198.9" r="2.8"/><circle cx="2035.45" cy="1252.64" r="2.8"/><circle cx="2035.13" cy="1217.29" r="2.8"/><circle cx="2032.4" cy="1236.17" r="2.8"/><circle cx="2032.83" cy="1206.87" r="2.8"/><circle cx="2038.95" cy="1197.66" r="2.8"/><circle cx="2033.62" cy="1246.64" r="2.8"/><circle cx="2033.1" cy="1231.56" r="2.8"/><circle cx="2036.49" cy="1265.75" r="2.8"/><circle cx="2040.48" cy="1217.9" r="2.8"/><circle cx="2039.98" cy="1249.49" r="2.8"/><circle cx="2035.51" cy="1217.79" r="2.8"/><circle cx="2033.84" cy="1269.42" r="2.8"/><circle cx="2035.17" cy="1192.12" r="2.8"/><circle cx="2034.17" cy="1241.21" r="2.8"/><circle cx="2035.14" cy="1222.77" r="2.8"/><circle cx="2037.89" cy="1276.52" r="2.8"/><circle cx="2033.76" cy="1259.75" r="2.8"/><circle cx="2034.52" cy="1232.33" r="2.8"/><circle cx="2035.91" cy="1237.65" r="2.8"/><circle cx="2036.53" cy="1212.25" r="2.8"/><circle cx="2034.55" cy="1227.84" r="2.8"/><circle cx="2034.49" cy="1205.28" r="2.8"/><circle cx="2033.58" cy="1226.94" r="2.8"/><circle cx="2034.59" cy="1228" r="2.8"/><circle cx="2038.01" cy="1212.11" r="2.8"/><circle cx="2035.95" cy="1203.61" r="2.8"/><circle cx="2029.7" cy="1228.25" r="2.8"/><circle cx="2038.26" cy="1213.16" r="2.8"/><circle cx="2036.42" cy="1228.84" r="2.8"/><circle cx="2034.27" cy="1232.98" r="2.8"/><circle cx="2035.92" cy="1198.4" r="2.8"/><circle cx="2029.7" cy="1230.63" r="2.8"/><circle cx="2032.17" cy="1243.2" r="2.8"/><circle cx="2039.73" cy="1229.91" r="2.8"/><circle cx="2042.34" cy="1207.43" r="2.8"/><circle cx="2042.46" cy="1236.73" r="2.8"/><circle cx="2034.63" cy="1207.35" r="2.8"/><circle cx="2036.71" cy="1218.23" r="2.8"/><circle cx="2038.7" cy="1210.83" r="2.8"/><circle cx="2033.3" cy="1238.61" r="2.8"/><circle cx="2034.7" cy="1101.51" r="2.8"/><circle cx="2036.5" cy="1108.76" r="2.8"/><circle cx="2037.2" cy="1117.15" r="2.8"/><circle cx="2034.3" cy="1126.25" r="2.8"/><circle cx="2039.6" cy="1126.25" r="2.8"/><circle cx="2033.1" cy="1131.19" r="2.8"/><circle cx="2039.3" cy="1131.19" r="2.8"/><circle cx="2035" cy="1144.35" r="2.8"/><circle cx="2032.5" cy="1146.91" r="2.8"/><circle cx="2036.2" cy="1146.21" r="2.8"/><circle cx="2037.7" cy="1155.75" r="2.8"/><circle cx="2035.6" cy="1159.28" r="2.8"/><circle cx="2037" cy="1161.05" r="2.8"/><circle cx="2035" cy="1162.81" r="2.8"/><circle cx="2036.6" cy="1166.35" r="2.8"/><circle cx="2042.2" cy="1172.53" r="2.8"/><circle cx="2035.8" cy="1171.64" r="2.8"/><circle cx="2037.9" cy="1175.18" r="2.8"/><circle cx="2039.6" cy="1176.94" r="2.8"/><circle cx="2032.2" cy="1178.71" r="2.8"/><circle cx="2030.4" cy="1182.24" r="2.8"/><circle cx="2036.6" cy="1184.01" r="2.8"/><circle cx="2038.8" cy="1185.78" r="2.8"/><circle cx="2033.8" cy="1187.54" r="2.8"/><circle cx="2035.2" cy="1293.53" r="2.8"/><circle cx="2037.7" cy="1290.71" r="2.8"/><circle cx="2036.2" cy="1286.11" r="2.8"/></g>
<path d="M1768.2 1269.16V1255.38M1761.7 1255.38h13M1761.7 1269.16h13M1813.5 1268.98V1254.85M1807 1254.85h13M1807 1268.98h13M1858.3 1250.17V1231.79M1851.8 1231.79h13M1851.8 1250.17h13M1903.8 1247.96V1226.76M1897.3 1226.76h13M1897.3 1247.96h13M1949.2 1231.53V1213.16M1942.7 1213.16h13M1942.7 1231.53h13M1994.3 1229.32V1210.07M1987.8 1210.07h13M1987.8 1229.32h13M2036.2 1216.78V1200M2029.7 1200h13M2029.7 1216.78h13" stroke="#0c0c0c" stroke-width="1.9" fill="none"/>
<text transform="translate(1677 1139) rotate(-90) scale(1.08 1)" font-size="14.7" text-anchor="middle" stroke="#111" stroke-width="0.3">AUC (&gt;baseline) (mg × min per dl)</text>
<path d="M2149.7 1000.7V1295H2476.7" fill="none" stroke="#555" stroke-width="1.1"/>
<path d="M2149.7 1295h-7M2149.7 1261.96h-7M2149.7 1228.92h-7M2149.7 1195.88h-7M2149.7 1162.84h-7M2149.7 1129.8h-7M2149.7 1096.76h-7M2149.7 1063.72h-7M2149.7 1030.68h-7M2173.3 1295v5.5M2219.7 1295v5.5M2265.8 1295v5.5M2312.2 1295v5.5M2358.5 1295v5.5M2404.5 1295v5.5M2450.8 1295v5.5" stroke="#555" stroke-width="1.1"/>
<text transform="translate(2137.2 1299.8) scale(1.08 1)" font-size="13.3" text-anchor="end" letter-spacing="0.1" stroke="#111" stroke-width="0.3">0</text>
<text transform="translate(2137.2 1266.76) scale(1.08 1)" font-size="13.3" text-anchor="end" letter-spacing="0.1" stroke="#111" stroke-width="0.3">20</text>
<text transform="translate(2137.2 1233.72) scale(1.08 1)" font-size="13.3" text-anchor="end" letter-spacing="0.1" stroke="#111" stroke-width="0.3">40</text>
<text transform="translate(2137.2 1200.68) scale(1.08 1)" font-size="13.3" text-anchor="end" letter-spacing="0.1" stroke="#111" stroke-width="0.3">60</text>
<text transform="translate(2137.2 1167.64) scale(1.08 1)" font-size="13.3" text-anchor="end" letter-spacing="0.1" stroke="#111" stroke-width="0.3">80</text>
<text transform="translate(2137.2 1134.6) scale(1.08 1)" font-size="13.3" text-anchor="end" letter-spacing="0.1" stroke="#111" stroke-width="0.3">100</text>
<text transform="translate(2137.2 1101.56) scale(1.08 1)" font-size="13.3" text-anchor="end" letter-spacing="0.1" stroke="#111" stroke-width="0.3">120</text>
<text transform="translate(2137.2 1068.52) scale(1.08 1)" font-size="13.3" text-anchor="end" letter-spacing="0.1" stroke="#111" stroke-width="0.3">140</text>
<text transform="translate(2137.2 1035.48) scale(1.08 1)" font-size="13.3" text-anchor="end" letter-spacing="0.1" stroke="#111" stroke-width="0.3">160</text>
<rect x="2161.8" y="1220.66" width="23" height="74.34" fill="#006cb2"/>
<text transform="translate(2177.9 1307) rotate(-90) scale(1.08 1)" font-size="13" text-anchor="end" stroke="#111" stroke-width="0.3">Grapes</text>
<rect x="2208.2" y="1216.36" width="23" height="78.64" fill="#006cb2"/>
<text transform="translate(2224.3 1307) rotate(-90) scale(1.08 1)" font-size="13" text-anchor="end" stroke="#111" stroke-width="0.3">Mixed berries</text>
<rect x="2254.3" y="1195.05" width="23" height="99.95" fill="#006cb2"/>
<text transform="translate(2270.4 1307) rotate(-90) scale(1.08 1)" font-size="13" text-anchor="end" stroke="#111" stroke-width="0.3">Beans</text>
<rect x="2300.7" y="1187.62" width="23" height="107.38" fill="#006cb2"/>
<text transform="translate(2316.8 1307) rotate(-90) scale(1.08 1)" font-size="13" text-anchor="end" stroke="#111" stroke-width="0.3">Potatoes</text>
<rect x="2347" y="1178.04" width="23" height="116.96" fill="#006cb2"/>
<text transform="translate(2363.1 1307) rotate(-90) scale(1.08 1)" font-size="13" text-anchor="end" stroke="#111" stroke-width="0.3">Rice</text>
<rect x="2393" y="1175.23" width="23" height="119.77" fill="#006cb2"/>
<text transform="translate(2409.1 1307) rotate(-90) scale(1.08 1)" font-size="13" text-anchor="end" stroke="#111" stroke-width="0.3">Pasta</text>
<rect x="2439.3" y="1170.6" width="23" height="124.4" fill="#006cb2"/>
<text transform="translate(2455.4 1307) rotate(-90) scale(1.08 1)" font-size="13" text-anchor="end" stroke="#111" stroke-width="0.3">Bread</text>
<g fill="#0c0c0c"><circle cx="2173.3" cy="1261.96" r="2.9"/><circle cx="2171.3" cy="1253.7" r="2.9"/><circle cx="2173.3" cy="1253.7" r="2.9"/><circle cx="2175.3" cy="1253.7" r="2.9"/><circle cx="2170.3" cy="1245.44" r="2.9"/><circle cx="2172.3" cy="1245.44" r="2.9"/><circle cx="2174.3" cy="1245.44" r="2.9"/><circle cx="2176.3" cy="1245.44" r="2.9"/><circle cx="2168.3" cy="1237.18" r="2.9"/><circle cx="2170.3" cy="1237.18" r="2.9"/><circle cx="2172.3" cy="1237.18" r="2.9"/><circle cx="2174.3" cy="1237.18" r="2.9"/><circle cx="2176.3" cy="1237.18" r="2.9"/><circle cx="2178.3" cy="1237.18" r="2.9"/><circle cx="2168.3" cy="1228.92" r="2.9"/><circle cx="2170.3" cy="1228.92" r="2.9"/><circle cx="2172.3" cy="1228.92" r="2.9"/><circle cx="2174.3" cy="1228.92" r="2.9"/><circle cx="2176.3" cy="1228.92" r="2.9"/><circle cx="2178.3" cy="1228.92" r="2.9"/><circle cx="2166.3" cy="1220.66" r="2.9"/><circle cx="2168.3" cy="1220.66" r="2.9"/><circle cx="2170.3" cy="1220.66" r="2.9"/><circle cx="2172.3" cy="1220.66" r="2.9"/><circle cx="2174.3" cy="1220.66" r="2.9"/><circle cx="2176.3" cy="1220.66" r="2.9"/><circle cx="2178.3" cy="1220.66" r="2.9"/><circle cx="2180.3" cy="1220.66" r="2.9"/><circle cx="2168.3" cy="1212.4" r="2.9"/><circle cx="2170.3" cy="1212.4" r="2.9"/><circle cx="2172.3" cy="1212.4" r="2.9"/><circle cx="2174.3" cy="1212.4" r="2.9"/><circle cx="2176.3" cy="1212.4" r="2.9"/><circle cx="2178.3" cy="1212.4" r="2.9"/><circle cx="2171.3" cy="1204.14" r="2.9"/><circle cx="2173.3" cy="1204.14" r="2.9"/><circle cx="2175.3" cy="1204.14" r="2.9"/><circle cx="2170.3" cy="1195.88" r="2.9"/><circle cx="2172.3" cy="1195.88" r="2.9"/><circle cx="2174.3" cy="1195.88" r="2.9"/><circle cx="2176.3" cy="1195.88" r="2.9"/><circle cx="2170.3" cy="1187.62" r="2.9"/><circle cx="2172.3" cy="1187.62" r="2.9"/><circle cx="2174.3" cy="1187.62" r="2.9"/><circle cx="2176.3" cy="1187.62" r="2.9"/><circle cx="2173.3" cy="1154.58" r="2.9"/><circle cx="2173.3" cy="1121.54" r="2.9"/><circle cx="2217.7" cy="1253.7" r="2.9"/><circle cx="2219.7" cy="1253.7" r="2.9"/><circle cx="2221.7" cy="1253.7" r="2.9"/><circle cx="2217.7" cy="1245.44" r="2.9"/><circle cx="2219.7" cy="1245.44" r="2.9"/><circle cx="2221.7" cy="1245.44" r="2.9"/><circle cx="2215.7" cy="1237.18" r="2.9"/><circle cx="2217.7" cy="1237.18" r="2.9"/><circle cx="2219.7" cy="1237.18" r="2.9"/><circle cx="2221.7" cy="1237.18" r="2.9"/><circle cx="2223.7" cy="1237.18" r="2.9"/><circle cx="2215.7" cy="1228.92" r="2.9"/><circle cx="2217.7" cy="1228.92" r="2.9"/><circle cx="2219.7" cy="1228.92" r="2.9"/><circle cx="2221.7" cy="1228.92" r="2.9"/><circle cx="2223.7" cy="1228.92" r="2.9"/><circle cx="2214.7" cy="1220.66" r="2.9"/><circle cx="2216.7" cy="1220.66" r="2.9"/><circle cx="2218.7" cy="1220.66" r="2.9"/><circle cx="2220.7" cy="1220.66" r="2.9"/><circle cx="2222.7" cy="1220.66" r="2.9"/><circle cx="2224.7" cy="1220.66" r="2.9"/><circle cx="2215.7" cy="1212.4" r="2.9"/><circle cx="2217.7" cy="1212.4" r="2.9"/><circle cx="2219.7" cy="1212.4" r="2.9"/><circle cx="2221.7" cy="1212.4" r="2.9"/><circle cx="2223.7" cy="1212.4" r="2.9"/><circle cx="2215.7" cy="1204.14" r="2.9"/><circle cx="2217.7" cy="1204.14" r="2.9"/><circle cx="2219.7" cy="1204.14" r="2.9"/><circle cx="2221.7" cy="1204.14" r="2.9"/><circle cx="2223.7" cy="1204.14" r="2.9"/><circle cx="2217.7" cy="1187.62" r="2.9"/><circle cx="2219.7" cy="1187.62" r="2.9"/><circle cx="2221.7" cy="1187.62" r="2.9"/><circle cx="2219.7" cy="1179.36" r="2.9"/><circle cx="2219.7" cy="1154.58" r="2.9"/><circle cx="2218.7" cy="1113.28" r="2.9"/><circle cx="2220.7" cy="1113.28" r="2.9"/><circle cx="2264.8" cy="1295" r="2.9"/><circle cx="2266.8" cy="1295" r="2.9"/><circle cx="2265.8" cy="1245.44" r="2.9"/><circle cx="2265.8" cy="1237.18" r="2.9"/><circle cx="2263.8" cy="1228.92" r="2.9"/><circle cx="2265.8" cy="1228.92" r="2.9"/><circle cx="2267.8" cy="1228.92" r="2.9"/><circle cx="2263.8" cy="1220.66" r="2.9"/><circle cx="2265.8" cy="1220.66" r="2.9"/><circle cx="2267.8" cy="1220.66" r="2.9"/><circle cx="2262.8" cy="1212.4" r="2.9"/><circle cx="2264.8" cy="1212.4" r="2.9"/><circle cx="2266.8" cy="1212.4" r="2.9"/><circle cx="2268.8" cy="1212.4" r="2.9"/><circle cx="2261.8" cy="1204.14" r="2.9"/><circle cx="2263.8" cy="1204.14" r="2.9"/><circle cx="2265.8" cy="1204.14" r="2.9"/><circle cx="2267.8" cy="1204.14" r="2.9"/><circle cx="2269.8" cy="1204.14" r="2.9"/><circle cx="2262.8" cy="1195.88" r="2.9"/><circle cx="2264.8" cy="1195.88" r="2.9"/><circle cx="2266.8" cy="1195.88" r="2.9"/><circle cx="2268.8" cy="1195.88" r="2.9"/><circle cx="2263.8" cy="1187.62" r="2.9"/><circle cx="2265.8" cy="1187.62" r="2.9"/><circle cx="2267.8" cy="1187.62" r="2.9"/><circle cx="2262.8" cy="1179.36" r="2.9"/><circle cx="2264.8" cy="1179.36" r="2.9"/><circle cx="2266.8" cy="1179.36" r="2.9"/><circle cx="2268.8" cy="1179.36" r="2.9"/><circle cx="2264.8" cy="1171.1" r="2.9"/><circle cx="2266.8" cy="1171.1" r="2.9"/><circle cx="2265.8" cy="1154.58" r="2.9"/><circle cx="2263.8" cy="1146.32" r="2.9"/><circle cx="2265.8" cy="1146.32" r="2.9"/><circle cx="2267.8" cy="1146.32" r="2.9"/><circle cx="2265.8" cy="1138.06" r="2.9"/><circle cx="2265.8" cy="1080.24" r="2.9"/><circle cx="2265.8" cy="1014.16" r="2.9"/><circle cx="2312.2" cy="1245.44" r="2.9"/><circle cx="2310.2" cy="1237.18" r="2.9"/><circle cx="2312.2" cy="1237.18" r="2.9"/><circle cx="2314.2" cy="1237.18" r="2.9"/><circle cx="2311.2" cy="1228.92" r="2.9"/><circle cx="2313.2" cy="1228.92" r="2.9"/><circle cx="2308.2" cy="1220.66" r="2.9"/><circle cx="2310.2" cy="1220.66" r="2.9"/><circle cx="2312.2" cy="1220.66" r="2.9"/><circle cx="2314.2" cy="1220.66" r="2.9"/><circle cx="2316.2" cy="1220.66" r="2.9"/><circle cx="2307.2" cy="1212.4" r="2.9"/><circle cx="2309.2" cy="1212.4" r="2.9"/><circle cx="2311.2" cy="1212.4" r="2.9"/><circle cx="2313.2" cy="1212.4" r="2.9"/><circle cx="2315.2" cy="1212.4" r="2.9"/><circle cx="2317.2" cy="1212.4" r="2.9"/><circle cx="2308.2" cy="1204.14" r="2.9"/><circle cx="2310.2" cy="1204.14" r="2.9"/><circle cx="2312.2" cy="1204.14" r="2.9"/><circle cx="2314.2" cy="1204.14" r="2.9"/><circle cx="2316.2" cy="1204.14" r="2.9"/><circle cx="2309.2" cy="1195.88" r="2.9"/><circle cx="2311.2" cy="1195.88" r="2.9"/><circle cx="2313.2" cy="1195.88" r="2.9"/><circle cx="2315.2" cy="1195.88" r="2.9"/><circle cx="2311.2" cy="1187.62" r="2.9"/><circle cx="2313.2" cy="1187.62" r="2.9"/><circle cx="2310.2" cy="1179.36" r="2.9"/><circle cx="2312.2" cy="1179.36" r="2.9"/><circle cx="2314.2" cy="1179.36" r="2.9"/><circle cx="2310.2" cy="1171.1" r="2.9"/><circle cx="2312.2" cy="1171.1" r="2.9"/><circle cx="2314.2" cy="1171.1" r="2.9"/><circle cx="2310.2" cy="1162.84" r="2.9"/><circle cx="2312.2" cy="1162.84" r="2.9"/><circle cx="2314.2" cy="1162.84" r="2.9"/><circle cx="2310.2" cy="1154.58" r="2.9"/><circle cx="2312.2" cy="1154.58" r="2.9"/><circle cx="2314.2" cy="1154.58" r="2.9"/><circle cx="2311.2" cy="1138.06" r="2.9"/><circle cx="2313.2" cy="1138.06" r="2.9"/><circle cx="2312.2" cy="1129.8" r="2.9"/><circle cx="2312.2" cy="1121.54" r="2.9"/><circle cx="2312.2" cy="1105.02" r="2.9"/><circle cx="2312.2" cy="1096.76" r="2.9"/><circle cx="2311.2" cy="1071.98" r="2.9"/><circle cx="2313.2" cy="1071.98" r="2.9"/><circle cx="2312.2" cy="1030.68" r="2.9"/><circle cx="2358.5" cy="1253.7" r="2.9"/><circle cx="2358.5" cy="1245.44" r="2.9"/><circle cx="2357.5" cy="1228.92" r="2.9"/><circle cx="2359.5" cy="1228.92" r="2.9"/><circle cx="2355.5" cy="1220.66" r="2.9"/><circle cx="2357.5" cy="1220.66" r="2.9"/><circle cx="2359.5" cy="1220.66" r="2.9"/><circle cx="2361.5" cy="1220.66" r="2.9"/><circle cx="2354.5" cy="1212.4" r="2.9"/><circle cx="2356.5" cy="1212.4" r="2.9"/><circle cx="2358.5" cy="1212.4" r="2.9"/><circle cx="2360.5" cy="1212.4" r="2.9"/><circle cx="2362.5" cy="1212.4" r="2.9"/><circle cx="2354.5" cy="1204.14" r="2.9"/><circle cx="2356.5" cy="1204.14" r="2.9"/><circle cx="2358.5" cy="1204.14" r="2.9"/><circle cx="2360.5" cy="1204.14" r="2.9"/><circle cx="2362.5" cy="1204.14" r="2.9"/><circle cx="2353.5" cy="1195.88" r="2.9"/><circle cx="2355.5" cy="1195.88" r="2.9"/><circle cx="2357.5" cy="1195.88" r="2.9"/><circle cx="2359.5" cy="1195.88" r="2.9"/><circle cx="2361.5" cy="1195.88" r="2.9"/><circle cx="2363.5" cy="1195.88" r="2.9"/><circle cx="2355.5" cy="1187.62" r="2.9"/><circle cx="2357.5" cy="1187.62" r="2.9"/><circle cx="2359.5" cy="1187.62" r="2.9"/><circle cx="2361.5" cy="1187.62" r="2.9"/><circle cx="2356.5" cy="1179.36" r="2.9"/><circle cx="2358.5" cy="1179.36" r="2.9"/><circle cx="2360.5" cy="1179.36" r="2.9"/><circle cx="2355.5" cy="1171.1" r="2.9"/><circle cx="2357.5" cy="1171.1" r="2.9"/><circle cx="2359.5" cy="1171.1" r="2.9"/><circle cx="2361.5" cy="1171.1" r="2.9"/><circle cx="2355.5" cy="1162.84" r="2.9"/><circle cx="2357.5" cy="1162.84" r="2.9"/><circle cx="2359.5" cy="1162.84" r="2.9"/><circle cx="2361.5" cy="1162.84" r="2.9"/><circle cx="2356.5" cy="1154.58" r="2.9"/><circle cx="2358.5" cy="1154.58" r="2.9"/><circle cx="2360.5" cy="1154.58" r="2.9"/><circle cx="2357.5" cy="1146.32" r="2.9"/><circle cx="2359.5" cy="1146.32" r="2.9"/><circle cx="2358.5" cy="1138.06" r="2.9"/><circle cx="2357.5" cy="1129.8" r="2.9"/><circle cx="2359.5" cy="1129.8" r="2.9"/><circle cx="2356.5" cy="1121.54" r="2.9"/><circle cx="2358.5" cy="1121.54" r="2.9"/><circle cx="2360.5" cy="1121.54" r="2.9"/><circle cx="2358.5" cy="1113.28" r="2.9"/><circle cx="2356.5" cy="1105.02" r="2.9"/><circle cx="2358.5" cy="1105.02" r="2.9"/><circle cx="2360.5" cy="1105.02" r="2.9"/><circle cx="2357.5" cy="1096.76" r="2.9"/><circle cx="2359.5" cy="1096.76" r="2.9"/><circle cx="2357.5" cy="1014.16" r="2.9"/><circle cx="2359.5" cy="1014.16" r="2.9"/><circle cx="2404.5" cy="1295" r="2.9"/><circle cx="2403.5" cy="1245.44" r="2.9"/><circle cx="2405.5" cy="1245.44" r="2.9"/><circle cx="2401.5" cy="1228.92" r="2.9"/><circle cx="2403.5" cy="1228.92" r="2.9"/><circle cx="2405.5" cy="1228.92" r="2.9"/><circle cx="2407.5" cy="1228.92" r="2.9"/><circle cx="2403.5" cy="1220.66" r="2.9"/><circle cx="2405.5" cy="1220.66" r="2.9"/><circle cx="2402.5" cy="1212.4" r="2.9"/><circle cx="2404.5" cy="1212.4" r="2.9"/><circle cx="2406.5" cy="1212.4" r="2.9"/><circle cx="2402.5" cy="1204.14" r="2.9"/><circle cx="2404.5" cy="1204.14" r="2.9"/><circle cx="2406.5" cy="1204.14" r="2.9"/><circle cx="2400.5" cy="1195.88" r="2.9"/><circle cx="2402.5" cy="1195.88" r="2.9"/><circle cx="2404.5" cy="1195.88" r="2.9"/><circle cx="2406.5" cy="1195.88" r="2.9"/><circle cx="2408.5" cy="1195.88" r="2.9"/><circle cx="2401.5" cy="1187.62" r="2.9"/><circle cx="2403.5" cy="1187.62" r="2.9"/><circle cx="2405.5" cy="1187.62" r="2.9"/><circle cx="2407.5" cy="1187.62" r="2.9"/><circle cx="2403.5" cy="1179.36" r="2.9"/><circle cx="2405.5" cy="1179.36" r="2.9"/><circle cx="2404.5" cy="1171.1" r="2.9"/><circle cx="2404.5" cy="1162.84" r="2.9"/><circle cx="2404.5" cy="1154.58" r="2.9"/><circle cx="2402.5" cy="1146.32" r="2.9"/><circle cx="2404.5" cy="1146.32" r="2.9"/><circle cx="2406.5" cy="1146.32" r="2.9"/><circle cx="2402.5" cy="1138.06" r="2.9"/><circle cx="2404.5" cy="1138.06" r="2.9"/><circle cx="2406.5" cy="1138.06" r="2.9"/><circle cx="2404.5" cy="1129.8" r="2.9"/><circle cx="2402.5" cy="1121.54" r="2.9"/><circle cx="2404.5" cy="1121.54" r="2.9"/><circle cx="2406.5" cy="1121.54" r="2.9"/><circle cx="2404.5" cy="1113.28" r="2.9"/><circle cx="2404.5" cy="1088.5" r="2.9"/><circle cx="2404.5" cy="1080.24" r="2.9"/><circle cx="2404.5" cy="1055.46" r="2.9"/><circle cx="2404.5" cy="1030.68" r="2.9"/><circle cx="2402.5" cy="1014.16" r="2.9"/><circle cx="2404.5" cy="1014.16" r="2.9"/><circle cx="2406.5" cy="1014.16" r="2.9"/><circle cx="2450.8" cy="1245.44" r="2.9"/><circle cx="2447.8" cy="1228.92" r="2.9"/><circle cx="2449.8" cy="1228.92" r="2.9"/><circle cx="2451.8" cy="1228.92" r="2.9"/><circle cx="2453.8" cy="1228.92" r="2.9"/><circle cx="2446.8" cy="1220.66" r="2.9"/><circle cx="2448.8" cy="1220.66" r="2.9"/><circle cx="2450.8" cy="1220.66" r="2.9"/><circle cx="2452.8" cy="1220.66" r="2.9"/><circle cx="2454.8" cy="1220.66" r="2.9"/><circle cx="2447.8" cy="1212.4" r="2.9"/><circle cx="2449.8" cy="1212.4" r="2.9"/><circle cx="2451.8" cy="1212.4" r="2.9"/><circle cx="2453.8" cy="1212.4" r="2.9"/><circle cx="2446.8" cy="1204.14" r="2.9"/><circle cx="2448.8" cy="1204.14" r="2.9"/><circle cx="2450.8" cy="1204.14" r="2.9"/><circle cx="2452.8" cy="1204.14" r="2.9"/><circle cx="2454.8" cy="1204.14" r="2.9"/><circle cx="2447.8" cy="1195.88" r="2.9"/><circle cx="2449.8" cy="1195.88" r="2.9"/><circle cx="2451.8" cy="1195.88" r="2.9"/><circle cx="2453.8" cy="1195.88" r="2.9"/><circle cx="2447.8" cy="1187.62" r="2.9"/><circle cx="2449.8" cy="1187.62" r="2.9"/><circle cx="2451.8" cy="1187.62" r="2.9"/><circle cx="2453.8" cy="1187.62" r="2.9"/><circle cx="2446.8" cy="1179.36" r="2.9"/><circle cx="2448.8" cy="1179.36" r="2.9"/><circle cx="2450.8" cy="1179.36" r="2.9"/><circle cx="2452.8" cy="1179.36" r="2.9"/><circle cx="2454.8" cy="1179.36" r="2.9"/><circle cx="2449.8" cy="1171.1" r="2.9"/><circle cx="2451.8" cy="1171.1" r="2.9"/><circle cx="2449.8" cy="1162.84" r="2.9"/><circle cx="2451.8" cy="1162.84" r="2.9"/><circle cx="2448.8" cy="1154.58" r="2.9"/><circle cx="2450.8" cy="1154.58" r="2.9"/><circle cx="2452.8" cy="1154.58" r="2.9"/><circle cx="2446.8" cy="1146.32" r="2.9"/><circle cx="2448.8" cy="1146.32" r="2.9"/><circle cx="2450.8" cy="1146.32" r="2.9"/><circle cx="2452.8" cy="1146.32" r="2.9"/><circle cx="2454.8" cy="1146.32" r="2.9"/><circle cx="2448.8" cy="1138.06" r="2.9"/><circle cx="2450.8" cy="1138.06" r="2.9"/><circle cx="2452.8" cy="1138.06" r="2.9"/><circle cx="2449.8" cy="1129.8" r="2.9"/><circle cx="2451.8" cy="1129.8" r="2.9"/><circle cx="2448.8" cy="1121.54" r="2.9"/><circle cx="2450.8" cy="1121.54" r="2.9"/><circle cx="2452.8" cy="1121.54" r="2.9"/><circle cx="2450.8" cy="1113.28" r="2.9"/><circle cx="2449.8" cy="1105.02" r="2.9"/><circle cx="2451.8" cy="1105.02" r="2.9"/><circle cx="2450.8" cy="1096.76" r="2.9"/><circle cx="2450.8" cy="1080.24" r="2.9"/><circle cx="2450.8" cy="1063.72" r="2.9"/><circle cx="2450.8" cy="1055.46" r="2.9"/><circle cx="2450.8" cy="1038.94" r="2.9"/><circle cx="2450.8" cy="1030.68" r="2.9"/><circle cx="2450.8" cy="1022.42" r="2.9"/><circle cx="2448.8" cy="1014.16" r="2.9"/><circle cx="2450.8" cy="1014.16" r="2.9"/><circle cx="2452.8" cy="1014.16" r="2.9"/></g>
<path d="M2173.3 1228.09V1213.23M2166.8 1213.23h13M2166.8 1228.09h13M2219.7 1224.62V1208.1M2213.2 1208.1h13M2213.2 1224.62h13M2265.8 1209.92V1180.19M2259.3 1180.19h13M2259.3 1209.92h13M2312.2 1196.71V1178.53M2305.7 1178.53h13M2305.7 1196.71h13M2358.5 1187.12V1168.95M2352 1168.95h13M2352 1187.12h13M2404.5 1189.27V1161.19M2398 1161.19h13M2398 1189.27h13M2450.8 1182.17V1159.04M2444.3 1159.04h13M2444.3 1182.17h13" stroke="#0c0c0c" stroke-width="1.9" fill="none"/>
<text transform="translate(2101.7 1149) rotate(-90) scale(1.08 1)" font-size="15.2" text-anchor="middle" stroke="#111" stroke-width="0.3">Time (baseline to peak) (min)</text>
</g>
</svg>
</body></html>
